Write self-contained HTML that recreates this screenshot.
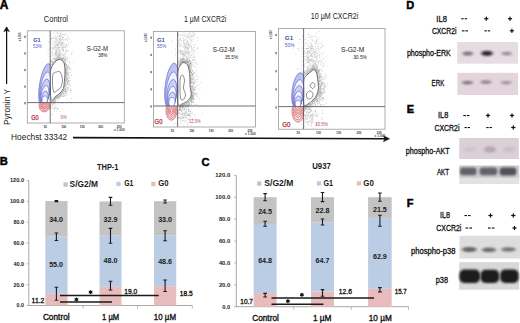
<!DOCTYPE html>
<html><head><meta charset="utf-8"><style>
html,body{margin:0;padding:0;background:#fff;}
svg{display:block;}
text{font-family:"Liberation Sans", sans-serif;}
</style></head><body>
<svg width="520" height="323" viewBox="0 0 520 323">
<rect width="520" height="323" fill="#fff"/>
<text x="-0.3" y="9.0" font-size="12.0" fill="#000" font-weight="bold" textLength="8.6" lengthAdjust="spacingAndGlyphs" stroke="#000" stroke-width="0.5">A</text>
<text x="43.8" y="22.1" font-size="8.2" fill="#222" textLength="24.2" lengthAdjust="spacingAndGlyphs" >Control</text>
<text x="184.0" y="22.3" font-size="8.2" fill="#222" textLength="42.3" lengthAdjust="spacingAndGlyphs" >1 µM CXCR2i</text>
<text x="310.8" y="19.4" font-size="8.2" fill="#222" textLength="47.5" lengthAdjust="spacingAndGlyphs" >10 µM CXCR2i</text>
<line x1="6.6" y1="84" x2="6.6" y2="30" stroke="#111" stroke-width="1.25"/>
<path d="M6.6,26.8 L3.9,31.6 L6.6,30.3 L9.3,31.6 Z" fill="#111" stroke="#111" stroke-width="0.6" stroke-linejoin="round"/>
<text transform="translate(9.6,125) rotate(-90)" font-size="9.1" fill="#222" textLength="36" lengthAdjust="spacingAndGlyphs">Pyronin Y</text>
<text x="11.1" y="139.7" font-size="9.2" fill="#222" textLength="56.1" lengthAdjust="spacingAndGlyphs" >Hoechst 33342</text>
<line x1="73" y1="137.6" x2="385" y2="138.7" stroke="#111" stroke-width="1.6"/>
<path d="M389.5,138.8 L383.5,135.8 L384.8,138.7 L383.5,141.6 Z" fill="#111" stroke="#111" stroke-width="0.6"/>
<rect x="27.3" y="30.8" width="97.0" height="92.2" fill="#fff" stroke="#9a9a9a" stroke-width="0.8"/>
<clipPath id="up0"><rect x="27.3" y="30.8" width="97.0" height="71.8"/></clipPath>
<clipPath id="dn0"><rect x="27.3" y="102.6" width="97.0" height="20.400000000000006"/></clipPath>
<clipPath id="pl0"><rect x="27.8" y="31.3" width="96.0" height="91.2"/></clipPath>
<g clip-path="url(#pl0)">
<path fill="#a8a8a8" d="M66.4 71.3h.8v.8h-.8zM64.9 75.2h.8v.8h-.8zM52.1 62.8h.8v.8h-.8zM66.6 68.0h.8v.8h-.8zM58.1 95.7h.8v.8h-.8zM64.4 88.8h.8v.8h-.8zM62.7 95.4h.8v.8h-.8zM65.1 72.4h.8v.8h-.8zM64.2 64.5h.8v.8h-.8zM65.7 76.2h.8v.8h-.8zM50.4 104.9h.8v.8h-.8zM58.2 96.0h.8v.8h-.8zM63.1 90.1h.8v.8h-.8zM56.3 60.0h.8v.8h-.8zM58.5 95.2h.8v.8h-.8zM65.6 94.6h.8v.8h-.8zM64.4 73.3h.8v.8h-.8zM60.2 96.0h.8v.8h-.8zM67.6 75.0h.8v.8h-.8zM60.1 95.3h.8v.8h-.8zM65.0 59.2h.8v.8h-.8zM64.0 86.2h.8v.8h-.8zM56.3 56.7h.8v.8h-.8zM68.6 80.5h.8v.8h-.8zM58.1 55.7h.8v.8h-.8zM54.2 102.3h.8v.8h-.8zM63.3 61.2h.8v.8h-.8zM64.9 85.2h.8v.8h-.8zM60.3 92.6h.8v.8h-.8zM59.9 94.9h.8v.8h-.8zM62.2 59.4h.8v.8h-.8zM65.7 67.2h.8v.8h-.8zM54.3 99.3h.8v.8h-.8zM64.1 59.6h.8v.8h-.8zM64.7 76.3h.8v.8h-.8zM64.8 68.0h.8v.8h-.8zM56.0 59.6h.8v.8h-.8zM68.6 80.6h.8v.8h-.8zM66.9 72.8h.8v.8h-.8zM60.3 93.0h.8v.8h-.8zM65.2 63.0h.8v.8h-.8zM59.7 94.0h.8v.8h-.8zM62.0 92.5h.8v.8h-.8zM65.9 72.5h.8v.8h-.8zM61.8 91.5h.8v.8h-.8zM55.2 61.7h.8v.8h-.8zM57.5 55.4h.8v.8h-.8zM51.8 102.0h.8v.8h-.8zM55.2 98.2h.8v.8h-.8zM52.8 64.2h.8v.8h-.8zM62.2 91.4h.8v.8h-.8zM59.3 57.6h.8v.8h-.8zM62.2 59.4h.8v.8h-.8zM67.4 79.2h.8v.8h-.8zM54.1 61.5h.8v.8h-.8zM52.5 64.3h.8v.8h-.8zM57.7 58.4h.8v.8h-.8zM63.8 91.3h.8v.8h-.8zM62.7 91.8h.8v.8h-.8zM67.3 90.8h.8v.8h-.8zM64.7 63.0h.8v.8h-.8zM65.6 83.1h.8v.8h-.8zM57.2 59.2h.8v.8h-.8zM65.3 89.6h.8v.8h-.8zM54.3 62.0h.8v.8h-.8zM54.6 98.4h.8v.8h-.8zM64.8 81.9h.8v.8h-.8zM60.2 59.3h.8v.8h-.8zM64.7 91.0h.8v.8h-.8zM68.6 77.4h.8v.8h-.8zM63.9 88.8h.8v.8h-.8zM62.6 92.9h.8v.8h-.8zM55.4 96.6h.8v.8h-.8zM63.9 63.7h.8v.8h-.8zM53.1 57.7h.8v.8h-.8zM54.1 98.2h.8v.8h-.8zM56.7 94.8h.8v.8h-.8zM66.6 70.3h.8v.8h-.8zM62.3 91.0h.8v.8h-.8zM55.4 98.7h.8v.8h-.8zM62.6 92.2h.8v.8h-.8zM55.1 60.4h.8v.8h-.8zM68.2 66.5h.8v.8h-.8zM57.9 61.0h.8v.8h-.8zM65.2 87.9h.8v.8h-.8zM60.8 58.0h.8v.8h-.8zM54.4 98.9h.8v.8h-.8zM69.2 61.4h.8v.8h-.8zM61.9 92.0h.8v.8h-.8zM58.2 97.0h.8v.8h-.8zM52.5 64.3h.8v.8h-.8zM63.8 89.3h.8v.8h-.8zM67.8 79.9h.8v.8h-.8zM61.2 93.4h.8v.8h-.8zM51.9 66.0h.8v.8h-.8zM54.7 96.8h.8v.8h-.8zM54.1 100.0h.8v.8h-.8zM64.4 65.2h.8v.8h-.8zM63.0 61.7h.8v.8h-.8zM65.0 80.3h.8v.8h-.8zM58.4 60.0h.8v.8h-.8zM65.7 79.3h.8v.8h-.8zM55.1 99.8h.8v.8h-.8zM66.0 69.4h.8v.8h-.8zM62.5 92.9h.8v.8h-.8zM51.6 61.7h.8v.8h-.8zM64.8 64.1h.8v.8h-.8zM64.9 96.5h.8v.8h-.8zM64.4 85.4h.8v.8h-.8zM56.5 59.3h.8v.8h-.8zM65.6 67.5h.8v.8h-.8zM55.7 60.4h.8v.8h-.8zM67.1 80.8h.8v.8h-.8zM60.1 95.0h.8v.8h-.8zM68.4 77.7h.8v.8h-.8zM66.4 72.2h.8v.8h-.8zM66.0 91.6h.8v.8h-.8zM55.7 97.9h.8v.8h-.8zM64.6 93.2h.8v.8h-.8zM64.9 72.1h.8v.8h-.8zM59.5 95.5h.8v.8h-.8zM61.9 91.4h.8v.8h-.8zM59.2 97.4h.8v.8h-.8zM54.3 62.1h.8v.8h-.8zM52.2 98.5h.8v.8h-.8zM65.3 85.9h.8v.8h-.8zM58.7 96.7h.8v.8h-.8zM53.5 100.7h.8v.8h-.8zM55.2 60.7h.8v.8h-.8zM53.6 99.9h.8v.8h-.8zM65.3 62.9h.8v.8h-.8zM58.0 96.8h.8v.8h-.8zM62.7 89.4h.8v.8h-.8zM53.4 104.7h.8v.8h-.8zM65.6 90.8h.8v.8h-.8zM52.4 101.1h.8v.8h-.8zM52.1 64.1h.8v.8h-.8zM53.7 62.3h.8v.8h-.8zM52.9 98.9h.8v.8h-.8zM52.5 63.3h.8v.8h-.8zM62.1 60.3h.8v.8h-.8zM52.3 100.8h.8v.8h-.8zM56.3 59.5h.8v.8h-.8zM65.6 74.8h.8v.8h-.8zM56.3 97.9h.8v.8h-.8zM66.0 78.0h.8v.8h-.8zM62.7 95.9h.8v.8h-.8zM66.2 75.4h.8v.8h-.8zM52.2 61.1h.8v.8h-.8zM61.6 58.6h.8v.8h-.8zM64.2 90.8h.8v.8h-.8zM64.2 88.5h.8v.8h-.8zM55.4 102.0h.8v.8h-.8zM53.3 64.0h.8v.8h-.8zM64.9 64.2h.8v.8h-.8zM65.1 64.0h.8v.8h-.8zM65.4 69.8h.8v.8h-.8zM61.3 59.2h.8v.8h-.8zM60.2 93.5h.8v.8h-.8zM59.6 54.6h.8v.8h-.8zM58.3 53.6h.8v.8h-.8zM65.8 70.0h.8v.8h-.8zM62.0 91.5h.8v.8h-.8zM57.7 56.2h.8v.8h-.8zM55.7 98.4h.8v.8h-.8zM67.0 69.2h.8v.8h-.8zM61.6 57.4h.8v.8h-.8zM65.2 85.4h.8v.8h-.8zM66.2 63.9h.8v.8h-.8zM64.9 65.0h.8v.8h-.8zM65.6 67.3h.8v.8h-.8zM65.4 70.9h.8v.8h-.8zM58.6 54.0h.8v.8h-.8zM53.5 100.6h.8v.8h-.8zM57.6 58.4h.8v.8h-.8zM61.3 93.1h.8v.8h-.8zM66.6 70.8h.8v.8h-.8zM66.1 71.4h.8v.8h-.8zM53.3 102.9h.8v.8h-.8zM56.8 97.1h.8v.8h-.8zM60.6 58.5h.8v.8h-.8zM62.3 59.0h.8v.8h-.8zM49.6 60.6h.8v.8h-.8zM64.7 70.0h.8v.8h-.8zM57.3 96.6h.8v.8h-.8zM58.1 55.6h.8v.8h-.8zM59.4 57.6h.8v.8h-.8zM51.7 62.3h.8v.8h-.8zM57.4 95.6h.8v.8h-.8zM52.3 66.4h.8v.8h-.8zM64.3 91.1h.8v.8h-.8zM65.2 74.3h.8v.8h-.8zM59.2 93.2h.8v.8h-.8zM66.2 77.6h.8v.8h-.8zM56.2 95.9h.8v.8h-.8zM52.9 102.4h.8v.8h-.8zM64.6 79.1h.8v.8h-.8zM65.3 80.6h.8v.8h-.8zM52.2 101.5h.8v.8h-.8zM67.0 82.1h.8v.8h-.8zM67.8 64.7h.8v.8h-.8zM68.5 81.6h.8v.8h-.8zM66.9 66.6h.8v.8h-.8zM61.5 92.0h.8v.8h-.8zM54.9 59.3h.8v.8h-.8zM63.2 58.4h.8v.8h-.8zM51.8 102.1h.8v.8h-.8zM61.1 91.5h.8v.8h-.8zM65.7 89.8h.8v.8h-.8zM53.5 99.8h.8v.8h-.8z"/>
<path fill="#c8c8c8" d="M54.9 61.6h.8v.8h-.8zM57.7 58.6h.8v.8h-.8zM64.3 68.5h.8v.8h-.8zM67.3 77.2h.8v.8h-.8zM52.2 101.5h.8v.8h-.8zM53.6 100.6h.8v.8h-.8zM61.0 59.3h.8v.8h-.8zM66.6 69.9h.8v.8h-.8zM54.8 97.2h.8v.8h-.8zM61.3 94.6h.8v.8h-.8zM64.1 53.8h.8v.8h-.8zM65.1 74.3h.8v.8h-.8zM66.4 85.6h.8v.8h-.8zM58.5 58.4h.8v.8h-.8zM58.9 94.9h.8v.8h-.8zM64.5 55.8h.8v.8h-.8zM66.7 74.3h.8v.8h-.8zM65.3 83.9h.8v.8h-.8zM61.4 57.7h.8v.8h-.8zM63.5 86.9h.8v.8h-.8zM63.4 62.1h.8v.8h-.8zM65.5 80.0h.8v.8h-.8zM54.3 57.6h.8v.8h-.8zM66.6 72.6h.8v.8h-.8zM54.1 63.5h.8v.8h-.8zM65.2 73.2h.8v.8h-.8zM52.2 64.1h.8v.8h-.8zM64.6 62.9h.8v.8h-.8zM53.7 101.1h.8v.8h-.8zM65.0 69.2h.8v.8h-.8zM60.2 94.3h.8v.8h-.8zM59.9 59.5h.8v.8h-.8zM61.6 94.3h.8v.8h-.8zM50.9 101.5h.8v.8h-.8zM65.9 77.4h.8v.8h-.8zM62.8 93.4h.8v.8h-.8zM55.8 96.7h.8v.8h-.8zM64.9 92.1h.8v.8h-.8zM64.9 90.1h.8v.8h-.8zM60.8 96.2h.8v.8h-.8zM65.7 59.6h.8v.8h-.8zM54.0 101.0h.8v.8h-.8zM59.3 94.8h.8v.8h-.8zM59.6 95.6h.8v.8h-.8zM65.5 69.8h.8v.8h-.8zM57.2 97.5h.8v.8h-.8zM64.2 59.3h.8v.8h-.8zM54.0 97.6h.8v.8h-.8zM53.5 63.8h.8v.8h-.8zM65.1 76.4h.8v.8h-.8zM61.9 59.8h.8v.8h-.8zM63.1 57.8h.8v.8h-.8zM57.0 97.6h.8v.8h-.8zM65.9 69.5h.8v.8h-.8zM57.8 57.2h.8v.8h-.8zM64.0 61.5h.8v.8h-.8zM53.2 101.1h.8v.8h-.8zM51.3 103.2h.8v.8h-.8zM64.6 83.9h.8v.8h-.8zM66.2 76.6h.8v.8h-.8zM57.1 95.9h.8v.8h-.8zM54.5 97.3h.8v.8h-.8zM56.3 57.5h.8v.8h-.8zM57.9 58.7h.8v.8h-.8zM51.3 63.9h.8v.8h-.8zM60.1 58.7h.8v.8h-.8zM60.3 57.0h.8v.8h-.8zM51.6 64.6h.8v.8h-.8zM51.8 102.5h.8v.8h-.8zM65.2 86.1h.8v.8h-.8zM63.9 64.8h.8v.8h-.8zM60.7 93.3h.8v.8h-.8zM53.2 98.9h.8v.8h-.8zM66.1 81.2h.8v.8h-.8zM60.3 59.5h.8v.8h-.8zM64.4 84.0h.8v.8h-.8zM56.4 60.0h.8v.8h-.8zM64.2 63.6h.8v.8h-.8zM54.4 62.2h.8v.8h-.8zM61.3 58.6h.8v.8h-.8zM51.9 105.5h.8v.8h-.8zM64.9 91.1h.8v.8h-.8zM51.2 103.3h.8v.8h-.8zM67.9 74.7h.8v.8h-.8zM69.8 75.3h.8v.8h-.8zM61.0 89.9h.8v.8h-.8zM54.5 58.5h.8v.8h-.8zM59.0 95.0h.8v.8h-.8zM63.7 60.1h.8v.8h-.8zM55.1 99.6h.8v.8h-.8zM66.4 65.8h.8v.8h-.8zM62.3 93.4h.8v.8h-.8zM50.3 103.7h.8v.8h-.8zM54.8 98.1h.8v.8h-.8zM64.7 62.9h.8v.8h-.8zM70.1 71.8h.8v.8h-.8zM61.8 59.3h.8v.8h-.8zM52.9 102.3h.8v.8h-.8zM65.4 81.8h.8v.8h-.8zM67.9 73.3h.8v.8h-.8zM65.6 77.4h.8v.8h-.8zM66.5 66.8h.8v.8h-.8zM54.6 101.7h.8v.8h-.8zM61.3 94.8h.8v.8h-.8zM63.4 62.9h.8v.8h-.8zM63.7 78.1h.8v.8h-.8zM55.5 98.0h.8v.8h-.8zM57.4 59.0h.8v.8h-.8zM54.5 58.7h.8v.8h-.8zM52.3 67.0h.8v.8h-.8zM55.0 96.3h.8v.8h-.8zM53.4 103.1h.8v.8h-.8zM57.3 96.6h.8v.8h-.8zM55.4 97.8h.8v.8h-.8zM63.6 87.3h.8v.8h-.8zM53.2 98.9h.8v.8h-.8zM61.2 57.9h.8v.8h-.8zM58.9 56.9h.8v.8h-.8zM58.1 97.9h.8v.8h-.8zM59.1 54.3h.8v.8h-.8zM66.8 78.4h.8v.8h-.8zM64.3 63.0h.8v.8h-.8zM66.7 74.0h.8v.8h-.8zM61.0 95.4h.8v.8h-.8zM63.5 66.8h.8v.8h-.8zM65.2 78.2h.8v.8h-.8zM55.9 96.2h.8v.8h-.8zM55.7 60.8h.8v.8h-.8zM66.2 76.9h.8v.8h-.8zM59.4 59.1h.8v.8h-.8zM54.9 98.5h.8v.8h-.8zM64.9 82.8h.8v.8h-.8zM66.6 65.8h.8v.8h-.8zM57.0 59.1h.8v.8h-.8zM65.9 66.8h.8v.8h-.8zM65.6 65.1h.8v.8h-.8zM54.6 97.8h.8v.8h-.8zM67.0 73.9h.8v.8h-.8zM68.5 77.2h.8v.8h-.8zM62.5 91.5h.8v.8h-.8zM54.6 57.8h.8v.8h-.8zM60.0 58.5h.8v.8h-.8zM66.1 75.7h.8v.8h-.8zM53.3 99.0h.8v.8h-.8zM54.6 103.4h.8v.8h-.8zM54.4 101.4h.8v.8h-.8zM65.8 70.8h.8v.8h-.8zM65.8 64.5h.8v.8h-.8zM58.9 94.8h.8v.8h-.8zM61.1 58.3h.8v.8h-.8zM66.8 80.4h.8v.8h-.8zM64.7 75.7h.8v.8h-.8zM65.6 93.2h.8v.8h-.8zM67.4 73.9h.8v.8h-.8zM62.4 92.1h.8v.8h-.8zM63.7 63.4h.8v.8h-.8zM69.4 62.7h.8v.8h-.8zM64.0 85.0h.8v.8h-.8zM66.4 83.0h.8v.8h-.8zM58.2 95.3h.8v.8h-.8zM61.4 93.7h.8v.8h-.8zM51.8 61.3h.8v.8h-.8zM61.6 91.7h.8v.8h-.8zM65.4 75.3h.8v.8h-.8zM53.8 58.1h.8v.8h-.8zM62.7 91.1h.8v.8h-.8zM65.3 78.5h.8v.8h-.8zM64.8 58.8h.8v.8h-.8zM66.1 64.7h.8v.8h-.8zM58.7 95.1h.8v.8h-.8zM50.6 63.7h.8v.8h-.8zM66.1 87.5h.8v.8h-.8zM54.7 101.0h.8v.8h-.8zM52.9 65.5h.8v.8h-.8zM58.2 56.5h.8v.8h-.8zM56.5 56.8h.8v.8h-.8zM56.9 58.7h.8v.8h-.8zM54.0 62.4h.8v.8h-.8zM64.1 91.4h.8v.8h-.8zM68.7 67.4h.8v.8h-.8zM64.9 53.7h.8v.8h-.8zM55.6 38.3h.8v.8h-.8zM60.5 79.8h.8v.8h-.8zM49.9 63.9h.8v.8h-.8zM52.9 33.1h.8v.8h-.8zM55.2 44.0h.8v.8h-.8zM58.7 55.7h.8v.8h-.8zM60.4 36.6h.8v.8h-.8zM59.2 50.4h.8v.8h-.8zM61.4 35.5h.8v.8h-.8zM63.0 40.5h.8v.8h-.8zM53.5 37.4h.8v.8h-.8zM57.1 33.1h.8v.8h-.8zM70.7 41.8h.8v.8h-.8zM50.8 59.6h.8v.8h-.8zM56.0 37.3h.8v.8h-.8zM63.3 39.3h.8v.8h-.8zM48.3 41.6h.8v.8h-.8zM58.0 27.4h.8v.8h-.8zM55.1 53.3h.8v.8h-.8zM52.1 48.1h.8v.8h-.8zM57.0 35.1h.8v.8h-.8zM57.7 40.9h.8v.8h-.8zM61.8 31.2h.8v.8h-.8zM55.1 46.5h.8v.8h-.8zM54.6 38.9h.8v.8h-.8zM67.1 34.4h.8v.8h-.8zM60.2 53.2h.8v.8h-.8zM51.4 66.8h.8v.8h-.8zM68.1 43.4h.8v.8h-.8zM59.9 37.2h.8v.8h-.8zM58.9 64.2h.8v.8h-.8zM59.4 38.5h.8v.8h-.8zM62.7 34.1h.8v.8h-.8zM60.3 39.4h.8v.8h-.8zM52.7 44.2h.8v.8h-.8zM56.0 28.0h.8v.8h-.8zM55.3 47.7h.8v.8h-.8zM60.5 29.0h.8v.8h-.8zM50.8 39.3h.8v.8h-.8zM60.1 38.9h.8v.8h-.8zM58.3 47.2h.8v.8h-.8zM71.8 50.6h.8v.8h-.8zM57.8 32.0h.8v.8h-.8zM60.3 41.6h.8v.8h-.8zM72.8 61.8h.8v.8h-.8zM58.1 57.8h.8v.8h-.8zM52.1 50.7h.8v.8h-.8zM58.3 44.4h.8v.8h-.8zM63.0 50.7h.8v.8h-.8zM56.5 41.0h.8v.8h-.8zM50.2 41.5h.8v.8h-.8zM51.5 47.2h.8v.8h-.8zM65.0 46.1h.8v.8h-.8zM55.7 47.4h.8v.8h-.8zM59.6 50.0h.8v.8h-.8zM60.3 52.8h.8v.8h-.8zM52.9 44.4h.8v.8h-.8zM63.7 24.9h.8v.8h-.8zM55.2 30.0h.8v.8h-.8zM52.4 59.2h.8v.8h-.8zM70.0 33.2h.8v.8h-.8zM60.1 34.0h.8v.8h-.8zM54.9 59.6h.8v.8h-.8zM52.5 47.8h.8v.8h-.8zM58.0 34.4h.8v.8h-.8zM65.9 49.7h.8v.8h-.8zM62.0 49.6h.8v.8h-.8zM53.8 42.2h.8v.8h-.8zM55.9 59.9h.8v.8h-.8zM62.8 46.7h.8v.8h-.8zM52.3 61.7h.8v.8h-.8zM54.7 44.2h.8v.8h-.8zM55.3 34.8h.8v.8h-.8zM58.2 44.3h.8v.8h-.8zM60.5 38.0h.8v.8h-.8zM56.5 55.0h.8v.8h-.8zM62.6 43.1h.8v.8h-.8zM54.4 47.5h.8v.8h-.8zM59.3 38.9h.8v.8h-.8zM52.5 26.2h.8v.8h-.8zM56.3 31.5h.8v.8h-.8zM61.1 44.6h.8v.8h-.8zM62.5 49.5h.8v.8h-.8zM70.9 53.2h.8v.8h-.8zM54.6 56.3h.8v.8h-.8zM54.5 39.9h.8v.8h-.8zM61.3 38.9h.8v.8h-.8zM62.6 44.8h.8v.8h-.8zM70.7 25.8h.8v.8h-.8zM59.0 31.0h.8v.8h-.8zM58.5 50.7h.8v.8h-.8zM51.5 62.5h.8v.8h-.8zM61.2 46.9h.8v.8h-.8zM49.8 42.2h.8v.8h-.8zM65.6 44.2h.8v.8h-.8zM62.1 42.2h.8v.8h-.8zM58.4 49.4h.8v.8h-.8zM61.3 44.1h.8v.8h-.8zM66.1 56.2h.8v.8h-.8zM57.0 44.3h.8v.8h-.8zM57.2 26.8h.8v.8h-.8zM52.2 47.8h.8v.8h-.8zM61.4 53.7h.8v.8h-.8zM60.3 38.0h.8v.8h-.8zM59.5 52.8h.8v.8h-.8zM66.1 51.2h.8v.8h-.8zM56.2 57.5h.8v.8h-.8zM57.3 56.0h.8v.8h-.8zM62.3 49.3h.8v.8h-.8zM57.5 44.6h.8v.8h-.8zM56.1 50.7h.8v.8h-.8zM51.9 114.1h.8v.8h-.8zM62.2 107.9h.8v.8h-.8zM50.7 107.6h.8v.8h-.8zM53.7 110.9h.8v.8h-.8zM50.6 106.7h.8v.8h-.8zM53.3 108.3h.8v.8h-.8zM51.0 108.4h.8v.8h-.8zM49.8 107.4h.8v.8h-.8zM62.1 61.1h.8v.8h-.8zM66.1 103.5h.8v.8h-.8zM64.4 65.7h.8v.8h-.8zM69.8 90.6h.8v.8h-.8zM66.5 89.7h.8v.8h-.8zM62.2 83.5h.8v.8h-.8zM69.4 83.4h.8v.8h-.8zM71.2 102.5h.8v.8h-.8zM67.1 83.3h.8v.8h-.8zM59.5 89.3h.8v.8h-.8zM63.7 93.3h.8v.8h-.8zM65.1 75.4h.8v.8h-.8zM60.6 96.3h.8v.8h-.8zM63.4 51.8h.8v.8h-.8zM67.6 99.3h.8v.8h-.8zM65.6 79.7h.8v.8h-.8zM64.7 94.9h.8v.8h-.8zM63.8 63.5h.8v.8h-.8zM61.0 76.5h.8v.8h-.8zM68.3 87.5h.8v.8h-.8zM68.4 75.3h.8v.8h-.8zM63.8 56.8h.8v.8h-.8zM70.5 91.7h.8v.8h-.8zM69.4 67.7h.8v.8h-.8zM61.9 80.2h.8v.8h-.8zM64.0 77.5h.8v.8h-.8zM63.5 83.6h.8v.8h-.8zM65.3 69.8h.8v.8h-.8zM69.6 72.6h.8v.8h-.8zM62.0 91.5h.8v.8h-.8zM62.3 68.6h.8v.8h-.8zM65.1 77.7h.8v.8h-.8zM66.1 72.2h.8v.8h-.8z"/>
<path fill="#b8b8b8" d="M51.9 61.6h.8v.8h-.8zM60.6 58.6h.8v.8h-.8zM53.5 101.9h.8v.8h-.8zM67.4 78.5h.8v.8h-.8zM63.5 62.5h.8v.8h-.8zM54.8 61.2h.8v.8h-.8zM59.0 95.9h.8v.8h-.8zM55.6 97.0h.8v.8h-.8zM56.7 97.6h.8v.8h-.8zM62.3 58.2h.8v.8h-.8zM63.3 89.5h.8v.8h-.8zM65.1 56.8h.8v.8h-.8zM58.8 96.1h.8v.8h-.8zM67.7 87.0h.8v.8h-.8zM65.5 83.3h.8v.8h-.8zM66.3 65.3h.8v.8h-.8zM64.5 61.0h.8v.8h-.8zM65.0 66.9h.8v.8h-.8zM67.0 88.1h.8v.8h-.8zM67.4 72.6h.8v.8h-.8zM65.7 67.0h.8v.8h-.8zM65.5 69.7h.8v.8h-.8zM67.3 77.9h.8v.8h-.8zM63.4 57.3h.8v.8h-.8zM54.4 59.9h.8v.8h-.8zM62.5 91.2h.8v.8h-.8zM54.7 101.3h.8v.8h-.8zM66.2 80.1h.8v.8h-.8zM52.2 102.5h.8v.8h-.8zM56.9 58.5h.8v.8h-.8zM69.4 79.9h.8v.8h-.8zM64.8 60.3h.8v.8h-.8zM53.9 100.6h.8v.8h-.8zM66.2 77.3h.8v.8h-.8zM55.4 61.1h.8v.8h-.8zM58.4 58.6h.8v.8h-.8zM49.7 104.9h.8v.8h-.8zM65.1 61.5h.8v.8h-.8zM60.9 93.6h.8v.8h-.8zM63.1 59.5h.8v.8h-.8zM65.4 68.6h.8v.8h-.8zM60.8 93.7h.8v.8h-.8zM64.5 95.0h.8v.8h-.8zM53.0 61.7h.8v.8h-.8zM62.0 91.5h.8v.8h-.8zM64.3 58.2h.8v.8h-.8zM52.1 64.2h.8v.8h-.8zM57.8 59.3h.8v.8h-.8zM66.2 76.6h.8v.8h-.8zM59.1 95.5h.8v.8h-.8zM65.0 69.9h.8v.8h-.8zM59.8 94.2h.8v.8h-.8zM64.6 63.1h.8v.8h-.8zM53.1 60.9h.8v.8h-.8zM64.7 89.6h.8v.8h-.8zM65.0 67.2h.8v.8h-.8zM62.9 89.8h.8v.8h-.8zM55.7 59.3h.8v.8h-.8zM64.4 86.9h.8v.8h-.8zM65.2 68.1h.8v.8h-.8zM66.3 65.2h.8v.8h-.8zM63.7 89.0h.8v.8h-.8zM61.5 58.4h.8v.8h-.8zM56.0 96.5h.8v.8h-.8zM64.9 79.2h.8v.8h-.8zM65.5 69.5h.8v.8h-.8zM69.8 84.9h.8v.8h-.8zM65.5 80.5h.8v.8h-.8zM67.7 81.3h.8v.8h-.8zM61.0 59.5h.8v.8h-.8zM49.9 62.7h.8v.8h-.8zM65.3 69.1h.8v.8h-.8zM55.5 98.1h.8v.8h-.8zM64.6 71.3h.8v.8h-.8zM55.1 97.0h.8v.8h-.8zM50.8 102.1h.8v.8h-.8zM59.2 59.3h.8v.8h-.8zM61.8 56.9h.8v.8h-.8zM54.4 98.5h.8v.8h-.8zM52.5 101.7h.8v.8h-.8zM55.6 97.2h.8v.8h-.8zM58.1 95.3h.8v.8h-.8zM59.1 59.2h.8v.8h-.8zM51.2 61.1h.8v.8h-.8zM63.2 58.2h.8v.8h-.8zM57.5 60.7h.8v.8h-.8zM55.4 58.6h.8v.8h-.8zM67.2 87.0h.8v.8h-.8zM51.9 64.1h.8v.8h-.8zM59.4 59.0h.8v.8h-.8zM62.1 90.8h.8v.8h-.8zM54.9 58.5h.8v.8h-.8zM58.6 57.3h.8v.8h-.8zM58.2 58.0h.8v.8h-.8zM57.5 58.3h.8v.8h-.8zM59.9 57.8h.8v.8h-.8zM65.1 80.9h.8v.8h-.8zM56.8 96.9h.8v.8h-.8zM65.1 62.6h.8v.8h-.8zM63.4 62.1h.8v.8h-.8zM62.8 90.6h.8v.8h-.8zM66.0 74.3h.8v.8h-.8zM66.1 74.5h.8v.8h-.8zM66.8 81.6h.8v.8h-.8zM68.0 72.3h.8v.8h-.8zM65.8 90.5h.8v.8h-.8zM65.3 64.8h.8v.8h-.8zM65.1 68.5h.8v.8h-.8zM66.1 73.4h.8v.8h-.8zM63.7 88.9h.8v.8h-.8zM59.0 57.2h.8v.8h-.8zM62.5 95.7h.8v.8h-.8zM67.7 74.2h.8v.8h-.8zM66.6 66.6h.8v.8h-.8zM62.1 92.9h.8v.8h-.8zM67.0 67.4h.8v.8h-.8zM57.2 97.0h.8v.8h-.8zM65.5 64.7h.8v.8h-.8zM59.2 57.0h.8v.8h-.8zM58.8 56.4h.8v.8h-.8zM65.6 59.7h.8v.8h-.8zM66.1 64.1h.8v.8h-.8zM67.9 85.2h.8v.8h-.8zM59.7 59.2h.8v.8h-.8zM67.0 72.4h.8v.8h-.8zM67.1 60.7h.8v.8h-.8zM63.3 55.2h.8v.8h-.8zM71.2 74.9h.8v.8h-.8zM53.2 65.2h.8v.8h-.8zM58.3 56.3h.8v.8h-.8zM63.0 96.0h.8v.8h-.8zM66.2 66.7h.8v.8h-.8zM70.8 89.9h.8v.8h-.8zM60.7 60.0h.8v.8h-.8zM60.5 93.6h.8v.8h-.8zM55.6 58.1h.8v.8h-.8zM57.7 58.9h.8v.8h-.8zM64.6 61.9h.8v.8h-.8zM57.5 99.6h.8v.8h-.8zM56.1 60.5h.8v.8h-.8zM58.2 58.6h.8v.8h-.8zM68.9 67.8h.8v.8h-.8zM65.3 82.5h.8v.8h-.8zM55.8 97.2h.8v.8h-.8zM64.9 85.8h.8v.8h-.8zM65.2 67.1h.8v.8h-.8zM64.4 85.4h.8v.8h-.8zM64.9 83.0h.8v.8h-.8zM51.0 101.6h.8v.8h-.8zM64.8 68.2h.8v.8h-.8zM56.1 59.2h.8v.8h-.8zM60.3 92.9h.8v.8h-.8zM65.6 79.1h.8v.8h-.8zM68.1 66.7h.8v.8h-.8zM61.1 59.7h.8v.8h-.8zM58.3 95.0h.8v.8h-.8zM65.7 73.1h.8v.8h-.8zM59.2 97.5h.8v.8h-.8zM64.3 60.5h.8v.8h-.8zM59.3 58.2h.8v.8h-.8zM64.9 63.4h.8v.8h-.8zM52.1 102.6h.8v.8h-.8zM53.6 100.2h.8v.8h-.8zM61.4 91.1h.8v.8h-.8zM57.7 58.4h.8v.8h-.8zM56.8 57.6h.8v.8h-.8zM56.5 54.6h.8v.8h-.8zM64.2 66.2h.8v.8h-.8zM65.0 64.1h.8v.8h-.8zM65.0 61.4h.8v.8h-.8zM67.5 83.2h.8v.8h-.8zM56.4 60.2h.8v.8h-.8zM65.3 70.0h.8v.8h-.8zM54.5 62.5h.8v.8h-.8zM57.9 59.5h.8v.8h-.8z"/>
<path fill="#d4d4d4" d="M60.5 51.0h.8v.8h-.8zM56.1 57.3h.8v.8h-.8zM54.9 45.9h.8v.8h-.8zM57.5 62.2h.8v.8h-.8zM57.2 68.7h.8v.8h-.8zM57.2 60.3h.8v.8h-.8zM59.8 53.3h.8v.8h-.8zM54.9 51.7h.8v.8h-.8zM52.1 41.4h.8v.8h-.8zM58.3 42.6h.8v.8h-.8zM56.7 45.9h.8v.8h-.8zM64.2 35.2h.8v.8h-.8zM60.5 54.2h.8v.8h-.8zM62.5 30.0h.8v.8h-.8zM55.4 54.7h.8v.8h-.8zM56.8 30.0h.8v.8h-.8zM58.5 45.5h.8v.8h-.8zM62.4 47.4h.8v.8h-.8zM56.9 46.4h.8v.8h-.8zM63.2 29.8h.8v.8h-.8zM64.2 58.2h.8v.8h-.8zM67.4 37.7h.8v.8h-.8zM51.5 53.9h.8v.8h-.8zM57.9 36.6h.8v.8h-.8zM55.3 50.0h.8v.8h-.8zM57.1 46.1h.8v.8h-.8zM68.2 50.8h.8v.8h-.8zM62.5 39.0h.8v.8h-.8zM56.3 48.4h.8v.8h-.8zM57.8 47.9h.8v.8h-.8zM63.6 60.8h.8v.8h-.8zM64.1 45.3h.8v.8h-.8zM53.6 46.6h.8v.8h-.8zM56.4 43.5h.8v.8h-.8zM57.1 54.4h.8v.8h-.8zM60.5 43.1h.8v.8h-.8zM67.2 40.6h.8v.8h-.8zM56.4 47.1h.8v.8h-.8zM57.2 40.7h.8v.8h-.8zM65.3 53.8h.8v.8h-.8zM59.6 49.0h.8v.8h-.8zM57.4 49.7h.8v.8h-.8zM53.9 47.6h.8v.8h-.8zM65.2 43.7h.8v.8h-.8zM59.2 40.4h.8v.8h-.8zM66.2 39.0h.8v.8h-.8zM58.3 56.2h.8v.8h-.8zM56.6 55.9h.8v.8h-.8zM61.0 47.2h.8v.8h-.8zM52.6 37.8h.8v.8h-.8zM63.6 53.0h.8v.8h-.8zM49.7 48.1h.8v.8h-.8zM56.9 47.8h.8v.8h-.8zM54.0 52.9h.8v.8h-.8zM49.9 40.8h.8v.8h-.8zM57.5 45.1h.8v.8h-.8zM57.8 36.3h.8v.8h-.8zM59.3 46.9h.8v.8h-.8zM57.9 41.0h.8v.8h-.8zM63.0 64.2h.8v.8h-.8zM58.0 44.9h.8v.8h-.8zM53.1 54.7h.8v.8h-.8zM61.1 42.1h.8v.8h-.8zM58.6 47.2h.8v.8h-.8zM55.9 37.4h.8v.8h-.8zM55.5 54.6h.8v.8h-.8zM56.2 39.1h.8v.8h-.8zM63.9 46.9h.8v.8h-.8zM64.4 35.3h.8v.8h-.8zM60.8 39.9h.8v.8h-.8zM53.5 46.3h.8v.8h-.8zM56.4 53.1h.8v.8h-.8zM63.3 48.2h.8v.8h-.8zM64.6 39.5h.8v.8h-.8zM62.9 45.1h.8v.8h-.8zM61.6 40.7h.8v.8h-.8zM62.6 54.6h.8v.8h-.8zM58.7 58.8h.8v.8h-.8zM54.0 31.8h.8v.8h-.8zM58.7 53.6h.8v.8h-.8zM61.3 53.2h.8v.8h-.8zM56.3 50.2h.8v.8h-.8zM56.6 52.2h.8v.8h-.8zM52.8 37.0h.8v.8h-.8zM57.9 48.1h.8v.8h-.8zM55.4 52.1h.8v.8h-.8zM61.6 58.1h.8v.8h-.8zM66.0 44.5h.8v.8h-.8zM56.0 48.6h.8v.8h-.8zM48.2 48.8h.8v.8h-.8zM59.7 50.2h.8v.8h-.8zM57.0 60.7h.8v.8h-.8zM52.6 28.1h.8v.8h-.8zM61.8 39.3h.8v.8h-.8zM60.5 43.1h.8v.8h-.8zM57.1 47.9h.8v.8h-.8zM64.6 40.7h.8v.8h-.8zM64.6 58.2h.8v.8h-.8zM58.9 48.4h.8v.8h-.8zM60.4 55.5h.8v.8h-.8zM62.0 46.6h.8v.8h-.8zM56.2 111.0h.8v.8h-.8zM57.2 109.0h.8v.8h-.8zM54.3 107.3h.8v.8h-.8zM59.6 111.1h.8v.8h-.8zM52.2 104.3h.8v.8h-.8zM49.1 107.0h.8v.8h-.8zM58.1 109.8h.8v.8h-.8zM52.3 107.7h.8v.8h-.8zM54.4 108.1h.8v.8h-.8zM52.3 105.9h.8v.8h-.8zM55.7 104.5h.8v.8h-.8zM68.5 66.0h.8v.8h-.8zM67.2 84.1h.8v.8h-.8zM61.7 50.0h.8v.8h-.8zM66.2 87.2h.8v.8h-.8zM64.2 64.5h.8v.8h-.8zM69.1 77.6h.8v.8h-.8zM67.7 68.6h.8v.8h-.8zM68.8 69.0h.8v.8h-.8zM62.3 67.8h.8v.8h-.8zM65.0 95.0h.8v.8h-.8zM70.7 89.8h.8v.8h-.8zM62.4 73.8h.8v.8h-.8zM66.5 67.1h.8v.8h-.8zM62.4 71.0h.8v.8h-.8zM69.5 69.1h.8v.8h-.8zM65.6 90.6h.8v.8h-.8zM70.2 100.8h.8v.8h-.8zM69.7 58.2h.8v.8h-.8zM65.0 80.5h.8v.8h-.8zM67.9 83.8h.8v.8h-.8zM65.2 74.6h.8v.8h-.8zM63.7 87.9h.8v.8h-.8zM67.4 88.6h.8v.8h-.8zM67.3 65.7h.8v.8h-.8zM66.8 80.9h.8v.8h-.8zM63.1 84.4h.8v.8h-.8z"/>
<path fill="#bababa" d="M65.9 45.6h.8v.8h-.8zM55.0 40.9h.8v.8h-.8zM63.2 49.6h.8v.8h-.8zM62.4 35.9h.8v.8h-.8zM56.5 40.0h.8v.8h-.8zM55.5 52.1h.8v.8h-.8zM52.8 48.2h.8v.8h-.8zM58.6 47.1h.8v.8h-.8zM59.2 42.6h.8v.8h-.8zM57.6 65.4h.8v.8h-.8zM59.5 45.1h.8v.8h-.8zM55.3 54.0h.8v.8h-.8zM57.5 37.7h.8v.8h-.8zM57.2 49.4h.8v.8h-.8zM61.2 32.5h.8v.8h-.8zM64.1 23.3h.8v.8h-.8zM55.8 31.7h.8v.8h-.8zM63.5 46.7h.8v.8h-.8zM65.7 49.2h.8v.8h-.8zM65.5 50.9h.8v.8h-.8zM61.9 58.4h.8v.8h-.8zM55.4 54.2h.8v.8h-.8zM59.4 35.7h.8v.8h-.8zM59.4 46.8h.8v.8h-.8zM54.6 38.0h.8v.8h-.8zM62.2 42.6h.8v.8h-.8zM54.4 54.6h.8v.8h-.8zM63.2 55.4h.8v.8h-.8zM57.5 38.9h.8v.8h-.8zM59.7 51.5h.8v.8h-.8zM59.0 35.3h.8v.8h-.8zM58.9 49.3h.8v.8h-.8zM52.7 59.0h.8v.8h-.8zM50.8 26.9h.8v.8h-.8zM58.8 51.1h.8v.8h-.8zM61.5 56.8h.8v.8h-.8zM56.1 51.2h.8v.8h-.8zM58.7 29.7h.8v.8h-.8zM62.9 50.2h.8v.8h-.8zM55.6 44.9h.8v.8h-.8zM62.4 46.7h.8v.8h-.8zM62.1 54.5h.8v.8h-.8zM54.1 46.2h.8v.8h-.8zM57.9 43.4h.8v.8h-.8zM61.1 44.3h.8v.8h-.8zM65.4 33.0h.8v.8h-.8zM51.2 38.1h.8v.8h-.8zM63.5 28.8h.8v.8h-.8zM58.9 41.8h.8v.8h-.8zM50.7 50.4h.8v.8h-.8zM54.7 38.3h.8v.8h-.8zM59.3 55.0h.8v.8h-.8zM47.5 52.5h.8v.8h-.8zM58.8 57.6h.8v.8h-.8zM55.6 42.6h.8v.8h-.8zM60.9 58.2h.8v.8h-.8zM68.7 38.3h.8v.8h-.8zM60.0 57.4h.8v.8h-.8zM65.9 57.9h.8v.8h-.8zM59.2 40.0h.8v.8h-.8zM63.2 37.3h.8v.8h-.8zM53.5 46.7h.8v.8h-.8zM60.4 54.7h.8v.8h-.8zM53.1 49.3h.8v.8h-.8zM60.0 39.6h.8v.8h-.8zM58.9 54.6h.8v.8h-.8zM61.2 42.1h.8v.8h-.8zM59.9 56.8h.8v.8h-.8zM58.0 51.9h.8v.8h-.8zM65.2 38.4h.8v.8h-.8zM54.8 29.1h.8v.8h-.8zM57.4 42.3h.8v.8h-.8zM61.5 45.2h.8v.8h-.8zM55.4 53.1h.8v.8h-.8zM64.9 47.3h.8v.8h-.8zM49.7 56.2h.8v.8h-.8zM52.6 41.0h.8v.8h-.8zM52.2 52.1h.8v.8h-.8zM54.5 36.4h.8v.8h-.8zM65.3 51.7h.8v.8h-.8zM62.4 36.9h.8v.8h-.8zM51.9 38.2h.8v.8h-.8zM61.5 42.0h.8v.8h-.8zM61.3 48.6h.8v.8h-.8zM55.9 53.6h.8v.8h-.8zM58.9 36.3h.8v.8h-.8zM55.7 49.6h.8v.8h-.8zM56.9 44.8h.8v.8h-.8zM63.8 34.3h.8v.8h-.8zM67.2 39.6h.8v.8h-.8zM56.1 44.2h.8v.8h-.8zM63.5 43.1h.8v.8h-.8zM62.8 57.9h.8v.8h-.8zM60.5 35.2h.8v.8h-.8zM56.4 50.7h.8v.8h-.8zM63.0 29.9h.8v.8h-.8zM61.4 43.5h.8v.8h-.8zM56.7 51.9h.8v.8h-.8zM57.2 55.4h.8v.8h-.8zM67.5 50.3h.8v.8h-.8zM68.6 38.5h.8v.8h-.8zM58.0 47.1h.8v.8h-.8zM62.0 47.7h.8v.8h-.8zM61.9 34.2h.8v.8h-.8zM66.1 44.3h.8v.8h-.8zM62.0 58.3h.8v.8h-.8zM67.0 36.0h.8v.8h-.8zM67.4 57.4h.8v.8h-.8zM55.2 59.8h.8v.8h-.8zM52.1 52.8h.8v.8h-.8zM56.9 55.3h.8v.8h-.8zM59.1 61.3h.8v.8h-.8zM59.9 32.9h.8v.8h-.8zM55.2 50.6h.8v.8h-.8zM52.3 55.4h.8v.8h-.8zM62.2 37.7h.8v.8h-.8zM57.5 43.2h.8v.8h-.8zM56.7 44.0h.8v.8h-.8zM51.3 43.7h.8v.8h-.8zM59.5 52.7h.8v.8h-.8zM59.9 43.6h.8v.8h-.8zM55.1 27.1h.8v.8h-.8zM59.9 33.6h.8v.8h-.8zM58.9 38.6h.8v.8h-.8zM58.6 56.2h.8v.8h-.8zM66.8 45.2h.8v.8h-.8zM57.4 53.3h.8v.8h-.8zM56.1 108.2h.8v.8h-.8zM57.3 108.2h.8v.8h-.8zM55.5 107.2h.8v.8h-.8zM54.3 109.1h.8v.8h-.8zM57.9 108.6h.8v.8h-.8zM61.5 103.0h.8v.8h-.8zM51.7 104.3h.8v.8h-.8zM54.6 107.0h.8v.8h-.8zM54.3 104.7h.8v.8h-.8zM54.5 107.0h.8v.8h-.8zM49.2 108.1h.8v.8h-.8zM63.3 93.9h.8v.8h-.8zM67.7 89.2h.8v.8h-.8zM70.8 68.5h.8v.8h-.8zM64.6 76.6h.8v.8h-.8zM66.0 84.2h.8v.8h-.8zM62.7 78.7h.8v.8h-.8zM67.3 58.5h.8v.8h-.8zM71.2 97.8h.8v.8h-.8zM68.6 38.2h.8v.8h-.8zM70.2 88.3h.8v.8h-.8zM68.8 83.0h.8v.8h-.8zM63.8 86.6h.8v.8h-.8zM70.3 90.3h.8v.8h-.8zM64.2 74.4h.8v.8h-.8zM67.5 93.6h.8v.8h-.8zM65.1 79.1h.8v.8h-.8zM67.7 75.5h.8v.8h-.8zM65.4 88.9h.8v.8h-.8zM69.9 85.5h.8v.8h-.8zM61.4 84.1h.8v.8h-.8zM70.8 54.3h.8v.8h-.8z"/>
<path d="M50.3,72.0 C51.0,67.4 53.0,64.6 54.5,62.5 C56.0,60.4 58.0,59.5 59.5,59.5 C61.0,59.5 62.9,60.6 63.8,62.5 C64.7,64.4 64.9,68.1 65.0,71.0 C65.1,73.9 64.8,77.1 64.5,80.0 C64.2,82.9 64.2,86.2 63.3,88.5 C62.4,90.8 60.3,92.7 59.0,94.0 C57.7,95.3 56.8,95.4 55.5,96.5 C54.2,97.6 52.4,101.6 51.5,100.5 C50.6,99.4 50.5,94.8 50.3,90.0 C50.1,85.2 49.6,76.6 50.3,72.0 Z" fill="#fff" stroke="#444" stroke-width="0.75"/>
<path d="M53.0,74.0 C53.7,72.2 55.3,72.3 56.5,72.0 C57.7,71.7 59.0,70.7 60.0,72.0 C61.0,73.3 62.4,77.1 62.5,79.7 C62.6,82.3 61.6,85.7 60.7,87.5 C59.8,89.3 58.1,89.8 57.0,90.5 C55.9,91.2 54.5,93.2 53.8,92.0 C53.0,90.8 52.6,86.0 52.5,83.0 C52.4,80.0 52.3,75.8 53.0,74.0 Z" fill="none" stroke="#404040" stroke-width="0.6"/>
<clipPath id="bq0"><rect x="27.3" y="30.8" width="23.3" height="71.8"/></clipPath>
<clipPath id="rq0"><rect x="27.3" y="102.6" width="23.3" height="20.400000000000006"/></clipPath>
<g clip-path="url(#bq0)">
<ellipse cx="45.3" cy="85.0" rx="5.8" ry="21.5" transform="rotate(9 45.3 85.0)" fill="#bfc3f1" stroke="#5560cc" stroke-width="0.6"/>
<ellipse cx="45.2" cy="88.8" rx="5.0" ry="17.2" transform="rotate(9 45.2 88.8)" fill="#f0f1fd" stroke="#5560cc" stroke-width="0.6"/>
<ellipse cx="45.0" cy="92.2" rx="4.4" ry="13.3" transform="rotate(9 45.0 92.2)" fill="#cdd0f4" stroke="#5560cc" stroke-width="0.6"/>
<ellipse cx="44.9" cy="95.3" rx="3.8" ry="9.9" transform="rotate(9 44.9 95.3)" fill="#f6f6fe" stroke="#5560cc" stroke-width="0.6"/>
<ellipse cx="44.8" cy="97.9" rx="3.2" ry="6.9" transform="rotate(9 44.8 97.9)" fill="#d4d7f6" stroke="#5560cc" stroke-width="0.6"/>
<ellipse cx="44.7" cy="100.2" rx="2.8" ry="4.3" transform="rotate(9 44.7 100.2)" fill="#fbfbff" stroke="#5560cc" stroke-width="0.6"/>
</g>
<g clip-path="url(#rq0)">
<ellipse cx="44.3" cy="105.6" rx="5.3" ry="6.3" fill="#f7d8d4" stroke="#d05462" stroke-width="0.65"/>
<ellipse cx="44.3" cy="105.6" rx="4.1" ry="4.9" fill="#fcecec" stroke="#d05462" stroke-width="0.65"/>
<ellipse cx="44.3" cy="105.6" rx="3.0" ry="3.5" fill="#f8dcdc" stroke="#d05462" stroke-width="0.65"/>
<ellipse cx="44.3" cy="105.6" rx="1.9" ry="2.3" fill="#fff6f2" stroke="#d05462" stroke-width="0.65"/>
<ellipse cx="44.3" cy="105.6" rx="1.1" ry="1.3" fill="#fbe6c8" stroke="#d05462" stroke-width="0.65"/>
</g>
</g>
<line x1="50.2" y1="30.8" x2="50.2" y2="123" stroke="#4a4a4a" stroke-width="0.8"/>
<line x1="27.3" y1="102.6" x2="124.3" y2="102.6" stroke="#4a4a4a" stroke-width="0.8"/>
<text x="33.3" y="41.9" font-size="6.0" fill="#4646a8" font-weight="bold" textLength="7.4" lengthAdjust="spacingAndGlyphs" >G1</text>
<text x="33.1" y="47.5" font-size="4.6" fill="#5a5ac0" textLength="8.8" lengthAdjust="spacingAndGlyphs" >53%</text>
<text x="86.8" y="50.9" font-size="6.6" fill="#1a1a1a" textLength="21.3" lengthAdjust="spacingAndGlyphs" >S-G2-M</text>
<text x="98.2" y="57.4" font-size="4.7" fill="#222" textLength="8.9" lengthAdjust="spacingAndGlyphs" >38%</text>
<text x="31.2" y="119.9" font-size="6.3" fill="#b83444" textLength="7.4" lengthAdjust="spacingAndGlyphs" stroke="#b83444" stroke-width="0.25">G0</text>
<text x="60.6" y="119.0" font-size="4.7" fill="#c05060" textLength="6.0" lengthAdjust="spacingAndGlyphs" >9%</text>
<text x="45.3" y="127.9" font-size="2.9" fill="#333" font-weight="bold" text-anchor="middle" >50</text>
<text x="63.8" y="127.9" font-size="2.9" fill="#333" font-weight="bold" text-anchor="middle" >100</text>
<text x="82.2" y="127.9" font-size="2.9" fill="#333" font-weight="bold" text-anchor="middle" >150</text>
<text x="100.6" y="127.9" font-size="2.9" fill="#333" font-weight="bold" text-anchor="middle" >200</text>
<text x="119.1" y="127.9" font-size="2.9" fill="#333" font-weight="bold" text-anchor="middle" >250</text>
<rect x="24.4" y="102.1" width="1.2" height="2.2" fill="#555"/>
<rect x="24.4" y="85.5" width="1.2" height="2.2" fill="#555"/>
<rect x="24.4" y="68.9" width="1.2" height="2.2" fill="#555"/>
<rect x="24.4" y="52.3" width="1.2" height="2.2" fill="#555"/>
<rect x="24.4" y="35.7" width="1.2" height="2.2" fill="#555"/>
<text transform="translate(20.9,41.3) rotate(-90)" font-size="2.6" fill="#444" font-weight="bold">x 1,000</text>
<text x="113.9" y="130.6" font-size="2.6" fill="#444" font-weight="bold" textLength="10.8" lengthAdjust="spacingAndGlyphs" >x 1,000</text>
<rect x="153.4" y="31.5" width="102.1" height="95.5" fill="#fff" stroke="#9a9a9a" stroke-width="0.8"/>
<clipPath id="up1"><rect x="153.4" y="31.5" width="102.1" height="74.5"/></clipPath>
<clipPath id="dn1"><rect x="153.4" y="106" width="102.1" height="21"/></clipPath>
<clipPath id="pl1"><rect x="153.9" y="32.0" width="101.1" height="94.5"/></clipPath>
<g clip-path="url(#pl1)">
<path fill="#c8c8c8" d="M180.2 105.2h.8v.8h-.8zM191.3 86.2h.8v.8h-.8zM192.2 75.1h.8v.8h-.8zM188.0 105.1h.8v.8h-.8zM180.4 63.2h.8v.8h-.8zM185.5 62.9h.8v.8h-.8zM193.5 87.7h.8v.8h-.8zM192.5 96.3h.8v.8h-.8zM183.7 60.3h.8v.8h-.8zM191.5 101.0h.8v.8h-.8zM190.9 86.7h.8v.8h-.8zM192.5 95.8h.8v.8h-.8zM185.4 59.9h.8v.8h-.8zM180.4 63.5h.8v.8h-.8zM192.8 86.0h.8v.8h-.8zM178.2 61.5h.8v.8h-.8zM192.3 78.7h.8v.8h-.8zM189.1 69.9h.8v.8h-.8zM192.5 91.7h.8v.8h-.8zM181.9 60.6h.8v.8h-.8zM189.0 65.7h.8v.8h-.8zM182.3 62.0h.8v.8h-.8zM188.8 66.5h.8v.8h-.8zM186.0 61.3h.8v.8h-.8zM178.6 65.6h.8v.8h-.8zM191.8 93.0h.8v.8h-.8zM190.7 100.4h.8v.8h-.8zM190.3 100.4h.8v.8h-.8zM191.6 97.4h.8v.8h-.8zM189.2 102.0h.8v.8h-.8zM193.2 81.9h.8v.8h-.8zM188.8 74.4h.8v.8h-.8zM196.7 92.8h.8v.8h-.8zM187.4 102.5h.8v.8h-.8zM188.2 68.1h.8v.8h-.8zM183.0 60.3h.8v.8h-.8zM179.2 108.7h.8v.8h-.8zM192.9 95.2h.8v.8h-.8zM182.8 105.8h.8v.8h-.8zM188.6 105.0h.8v.8h-.8zM184.3 59.4h.8v.8h-.8zM185.6 107.8h.8v.8h-.8zM180.4 65.0h.8v.8h-.8zM186.1 62.5h.8v.8h-.8zM191.8 92.9h.8v.8h-.8zM182.8 61.9h.8v.8h-.8zM179.9 107.1h.8v.8h-.8zM181.2 106.5h.8v.8h-.8zM190.0 71.0h.8v.8h-.8zM180.6 63.6h.8v.8h-.8zM177.8 60.8h.8v.8h-.8zM179.1 63.5h.8v.8h-.8zM193.1 81.5h.8v.8h-.8zM189.7 62.1h.8v.8h-.8zM188.5 61.3h.8v.8h-.8zM193.8 93.5h.8v.8h-.8zM183.7 60.5h.8v.8h-.8zM191.3 77.5h.8v.8h-.8zM190.4 71.5h.8v.8h-.8zM187.5 105.2h.8v.8h-.8zM186.5 61.5h.8v.8h-.8zM182.2 62.1h.8v.8h-.8zM189.4 70.6h.8v.8h-.8zM183.8 104.4h.8v.8h-.8zM185.5 61.9h.8v.8h-.8zM187.7 57.5h.8v.8h-.8zM191.6 91.5h.8v.8h-.8zM180.3 59.7h.8v.8h-.8zM189.6 68.2h.8v.8h-.8zM179.2 67.6h.8v.8h-.8zM188.5 63.5h.8v.8h-.8zM190.8 95.4h.8v.8h-.8zM190.2 80.0h.8v.8h-.8zM189.7 103.0h.8v.8h-.8zM182.2 105.9h.8v.8h-.8zM182.5 59.2h.8v.8h-.8zM178.9 66.6h.8v.8h-.8zM183.6 61.5h.8v.8h-.8zM192.7 86.8h.8v.8h-.8zM191.5 92.4h.8v.8h-.8zM183.9 58.5h.8v.8h-.8zM191.9 99.2h.8v.8h-.8zM192.7 76.3h.8v.8h-.8zM184.5 61.2h.8v.8h-.8zM183.5 107.9h.8v.8h-.8zM186.0 102.9h.8v.8h-.8zM187.4 62.4h.8v.8h-.8zM191.8 99.2h.8v.8h-.8zM180.4 105.1h.8v.8h-.8zM186.3 64.3h.8v.8h-.8zM184.7 106.9h.8v.8h-.8zM190.0 74.5h.8v.8h-.8zM186.7 60.2h.8v.8h-.8zM192.5 96.6h.8v.8h-.8zM179.0 106.2h.8v.8h-.8zM181.3 64.4h.8v.8h-.8zM179.4 107.7h.8v.8h-.8zM191.3 100.8h.8v.8h-.8zM178.1 63.0h.8v.8h-.8zM188.1 64.1h.8v.8h-.8zM184.1 61.3h.8v.8h-.8zM188.8 98.4h.8v.8h-.8zM189.1 100.4h.8v.8h-.8zM190.6 81.2h.8v.8h-.8zM180.9 105.8h.8v.8h-.8zM188.9 98.8h.8v.8h-.8zM189.1 70.5h.8v.8h-.8zM180.8 104.9h.8v.8h-.8zM180.9 105.6h.8v.8h-.8zM188.7 104.4h.8v.8h-.8zM190.2 78.0h.8v.8h-.8zM188.7 60.9h.8v.8h-.8zM191.4 95.1h.8v.8h-.8zM190.0 101.1h.8v.8h-.8zM182.1 107.0h.8v.8h-.8zM184.4 61.3h.8v.8h-.8zM187.3 62.8h.8v.8h-.8zM181.3 105.6h.8v.8h-.8zM189.0 71.1h.8v.8h-.8zM181.6 105.5h.8v.8h-.8zM179.7 61.3h.8v.8h-.8zM189.7 98.6h.8v.8h-.8zM182.9 104.8h.8v.8h-.8zM179.4 62.0h.8v.8h-.8zM179.2 108.9h.8v.8h-.8zM186.1 61.4h.8v.8h-.8zM190.7 100.4h.8v.8h-.8zM184.1 62.6h.8v.8h-.8zM186.6 102.5h.8v.8h-.8zM192.1 92.0h.8v.8h-.8zM181.1 61.9h.8v.8h-.8zM184.5 106.0h.8v.8h-.8zM192.3 79.6h.8v.8h-.8zM191.0 74.2h.8v.8h-.8zM191.3 89.2h.8v.8h-.8zM191.1 99.9h.8v.8h-.8zM186.0 108.9h.8v.8h-.8zM182.5 62.3h.8v.8h-.8zM183.9 58.0h.8v.8h-.8zM183.5 58.8h.8v.8h-.8zM191.5 91.8h.8v.8h-.8zM185.7 103.1h.8v.8h-.8zM189.0 73.3h.8v.8h-.8zM191.3 82.3h.8v.8h-.8zM182.8 103.7h.8v.8h-.8zM188.1 65.9h.8v.8h-.8zM192.5 86.7h.8v.8h-.8zM186.7 100.5h.8v.8h-.8zM192.5 88.1h.8v.8h-.8zM192.3 77.3h.8v.8h-.8zM187.3 64.6h.8v.8h-.8zM185.8 104.1h.8v.8h-.8zM185.3 107.3h.8v.8h-.8zM183.2 58.2h.8v.8h-.8zM192.0 94.8h.8v.8h-.8zM190.7 78.2h.8v.8h-.8zM182.7 104.4h.8v.8h-.8zM182.3 59.1h.8v.8h-.8zM184.9 62.9h.8v.8h-.8zM191.6 90.9h.8v.8h-.8zM190.6 96.0h.8v.8h-.8zM178.3 110.2h.8v.8h-.8zM191.6 95.7h.8v.8h-.8zM192.4 95.5h.8v.8h-.8zM187.0 65.4h.8v.8h-.8zM190.7 85.3h.8v.8h-.8zM180.0 64.4h.8v.8h-.8zM182.9 61.3h.8v.8h-.8zM189.9 74.8h.8v.8h-.8zM192.0 94.4h.8v.8h-.8zM189.5 66.7h.8v.8h-.8zM191.2 69.2h.8v.8h-.8zM187.1 64.7h.8v.8h-.8zM181.9 55.8h.8v.8h-.8zM180.6 52.6h.8v.8h-.8zM195.6 63.3h.8v.8h-.8zM186.5 51.2h.8v.8h-.8zM186.0 43.2h.8v.8h-.8zM193.6 37.4h.8v.8h-.8zM183.9 59.6h.8v.8h-.8zM189.1 32.0h.8v.8h-.8zM181.9 34.2h.8v.8h-.8zM184.5 72.9h.8v.8h-.8zM177.9 45.5h.8v.8h-.8zM190.8 42.4h.8v.8h-.8zM194.0 45.4h.8v.8h-.8zM192.1 56.9h.8v.8h-.8zM186.4 51.3h.8v.8h-.8zM185.3 47.4h.8v.8h-.8zM187.9 44.2h.8v.8h-.8zM186.0 50.4h.8v.8h-.8zM178.1 35.7h.8v.8h-.8zM189.3 37.5h.8v.8h-.8zM183.9 54.4h.8v.8h-.8zM185.6 52.7h.8v.8h-.8zM187.2 40.6h.8v.8h-.8zM193.3 56.0h.8v.8h-.8zM179.1 43.6h.8v.8h-.8zM192.2 25.2h.8v.8h-.8zM188.2 49.5h.8v.8h-.8zM182.7 59.5h.8v.8h-.8zM180.8 50.7h.8v.8h-.8zM187.1 70.4h.8v.8h-.8zM189.1 51.8h.8v.8h-.8zM184.3 46.6h.8v.8h-.8zM185.4 35.5h.8v.8h-.8zM179.2 43.5h.8v.8h-.8zM187.5 55.9h.8v.8h-.8zM193.7 49.7h.8v.8h-.8zM187.7 46.0h.8v.8h-.8zM188.4 49.8h.8v.8h-.8zM187.0 52.9h.8v.8h-.8zM193.7 57.4h.8v.8h-.8zM191.9 49.0h.8v.8h-.8zM183.0 41.6h.8v.8h-.8zM180.1 61.1h.8v.8h-.8zM186.3 43.3h.8v.8h-.8zM184.7 39.2h.8v.8h-.8zM184.2 52.7h.8v.8h-.8zM185.6 45.8h.8v.8h-.8zM188.2 35.3h.8v.8h-.8zM187.5 64.6h.8v.8h-.8zM189.8 63.3h.8v.8h-.8zM178.4 42.5h.8v.8h-.8zM183.5 41.5h.8v.8h-.8zM189.8 64.6h.8v.8h-.8zM197.3 47.6h.8v.8h-.8zM192.6 32.8h.8v.8h-.8zM180.4 34.7h.8v.8h-.8zM174.8 51.3h.8v.8h-.8zM180.6 49.7h.8v.8h-.8zM189.0 65.1h.8v.8h-.8zM185.2 63.7h.8v.8h-.8zM195.0 34.5h.8v.8h-.8zM181.9 53.8h.8v.8h-.8zM183.1 38.6h.8v.8h-.8zM184.9 52.0h.8v.8h-.8zM189.8 36.0h.8v.8h-.8zM183.2 54.2h.8v.8h-.8zM186.3 43.1h.8v.8h-.8zM177.4 45.7h.8v.8h-.8zM188.6 44.6h.8v.8h-.8zM181.5 34.8h.8v.8h-.8zM176.8 30.3h.8v.8h-.8zM193.4 47.4h.8v.8h-.8zM183.1 61.5h.8v.8h-.8zM191.1 24.7h.8v.8h-.8zM183.2 40.0h.8v.8h-.8zM184.1 39.9h.8v.8h-.8zM183.2 50.2h.8v.8h-.8zM175.1 48.6h.8v.8h-.8zM182.8 37.0h.8v.8h-.8zM192.4 62.2h.8v.8h-.8zM179.2 52.9h.8v.8h-.8zM171.6 41.7h.8v.8h-.8zM191.8 35.3h.8v.8h-.8zM191.4 40.3h.8v.8h-.8zM181.0 20.3h.8v.8h-.8zM184.8 55.0h.8v.8h-.8zM186.0 23.5h.8v.8h-.8zM185.6 46.9h.8v.8h-.8zM188.8 67.3h.8v.8h-.8zM182.6 62.2h.8v.8h-.8zM181.5 27.2h.8v.8h-.8zM193.8 35.0h.8v.8h-.8zM187.7 61.9h.8v.8h-.8zM193.3 65.9h.8v.8h-.8zM187.1 59.0h.8v.8h-.8zM184.2 30.8h.8v.8h-.8zM184.5 53.6h.8v.8h-.8zM183.0 53.5h.8v.8h-.8zM188.2 43.8h.8v.8h-.8zM189.3 54.6h.8v.8h-.8zM184.3 48.6h.8v.8h-.8zM180.4 44.1h.8v.8h-.8zM187.9 25.0h.8v.8h-.8zM180.0 30.6h.8v.8h-.8zM177.8 50.6h.8v.8h-.8zM195.4 55.8h.8v.8h-.8zM184.8 53.8h.8v.8h-.8zM189.1 38.9h.8v.8h-.8zM188.0 56.5h.8v.8h-.8zM197.2 39.9h.8v.8h-.8zM193.4 49.8h.8v.8h-.8zM180.7 23.7h.8v.8h-.8zM183.6 114.8h.8v.8h-.8zM184.7 118.0h.8v.8h-.8zM186.3 117.6h.8v.8h-.8zM177.0 117.1h.8v.8h-.8zM186.9 113.5h.8v.8h-.8zM178.2 112.6h.8v.8h-.8zM182.3 110.1h.8v.8h-.8zM190.3 117.0h.8v.8h-.8zM182.6 120.3h.8v.8h-.8zM184.9 121.1h.8v.8h-.8zM176.9 113.3h.8v.8h-.8zM180.6 113.9h.8v.8h-.8zM183.0 115.4h.8v.8h-.8zM187.6 114.1h.8v.8h-.8zM186.4 112.3h.8v.8h-.8zM178.4 109.9h.8v.8h-.8zM182.8 113.2h.8v.8h-.8zM191.4 113.4h.8v.8h-.8zM182.6 113.1h.8v.8h-.8zM184.9 119.9h.8v.8h-.8zM187.5 118.8h.8v.8h-.8zM180.4 109.2h.8v.8h-.8zM185.7 112.2h.8v.8h-.8zM182.5 112.9h.8v.8h-.8zM182.6 118.2h.8v.8h-.8zM186.9 114.8h.8v.8h-.8zM177.7 102.2h.8v.8h-.8zM185.9 104.8h.8v.8h-.8zM181.6 107.1h.8v.8h-.8zM191.2 124.8h.8v.8h-.8zM188.8 113.8h.8v.8h-.8zM179.4 118.0h.8v.8h-.8zM180.5 111.9h.8v.8h-.8zM188.1 114.9h.8v.8h-.8zM181.7 120.5h.8v.8h-.8zM187.8 115.4h.8v.8h-.8zM187.1 103.7h.8v.8h-.8zM174.1 116.0h.8v.8h-.8zM182.1 118.3h.8v.8h-.8zM181.4 115.7h.8v.8h-.8zM185.9 116.5h.8v.8h-.8zM185.1 113.3h.8v.8h-.8zM194.1 115.9h.8v.8h-.8zM183.0 117.5h.8v.8h-.8zM183.0 113.5h.8v.8h-.8zM190.1 111.2h.8v.8h-.8zM185.5 111.4h.8v.8h-.8zM190.6 112.5h.8v.8h-.8zM181.3 114.3h.8v.8h-.8zM182.8 102.2h.8v.8h-.8zM183.0 109.0h.8v.8h-.8zM179.0 101.3h.8v.8h-.8zM184.5 100.3h.8v.8h-.8zM185.6 112.4h.8v.8h-.8zM167.8 129.7h.8v.8h-.8zM180.8 103.3h.8v.8h-.8zM188.3 110.6h.8v.8h-.8zM196.9 88.2h.8v.8h-.8zM195.9 67.8h.8v.8h-.8zM192.6 83.0h.8v.8h-.8zM194.2 114.1h.8v.8h-.8zM192.7 64.7h.8v.8h-.8zM195.5 78.8h.8v.8h-.8zM188.0 84.6h.8v.8h-.8zM192.0 112.9h.8v.8h-.8zM196.1 94.4h.8v.8h-.8zM201.6 71.7h.8v.8h-.8zM194.4 76.5h.8v.8h-.8zM191.2 104.1h.8v.8h-.8zM197.4 96.4h.8v.8h-.8zM189.3 89.5h.8v.8h-.8zM190.6 89.7h.8v.8h-.8zM195.3 65.7h.8v.8h-.8zM191.4 82.1h.8v.8h-.8zM193.0 60.0h.8v.8h-.8zM191.2 64.3h.8v.8h-.8zM194.5 93.1h.8v.8h-.8zM192.1 105.4h.8v.8h-.8zM194.1 98.8h.8v.8h-.8zM196.6 81.0h.8v.8h-.8zM194.0 56.8h.8v.8h-.8zM190.8 93.2h.8v.8h-.8zM189.3 96.2h.8v.8h-.8zM194.6 89.1h.8v.8h-.8zM193.8 89.2h.8v.8h-.8zM187.1 68.5h.8v.8h-.8zM193.8 78.6h.8v.8h-.8zM192.4 89.8h.8v.8h-.8zM195.7 70.5h.8v.8h-.8z"/>
<path fill="#b8b8b8" d="M188.4 67.2h.8v.8h-.8zM191.0 99.8h.8v.8h-.8zM188.8 100.3h.8v.8h-.8zM185.6 60.8h.8v.8h-.8zM193.9 82.5h.8v.8h-.8zM177.0 112.0h.8v.8h-.8zM179.1 111.7h.8v.8h-.8zM187.1 103.4h.8v.8h-.8zM185.7 59.5h.8v.8h-.8zM184.8 62.1h.8v.8h-.8zM186.6 59.2h.8v.8h-.8zM194.8 92.3h.8v.8h-.8zM191.1 74.4h.8v.8h-.8zM191.7 88.5h.8v.8h-.8zM182.0 59.9h.8v.8h-.8zM180.5 60.1h.8v.8h-.8zM181.8 60.8h.8v.8h-.8zM191.1 62.7h.8v.8h-.8zM189.6 103.7h.8v.8h-.8zM179.8 110.2h.8v.8h-.8zM186.8 100.7h.8v.8h-.8zM177.9 63.0h.8v.8h-.8zM181.1 62.1h.8v.8h-.8zM182.3 61.2h.8v.8h-.8zM191.8 93.0h.8v.8h-.8zM181.3 105.8h.8v.8h-.8zM190.0 79.3h.8v.8h-.8zM183.2 107.1h.8v.8h-.8zM180.1 108.7h.8v.8h-.8zM185.2 59.6h.8v.8h-.8zM189.2 64.1h.8v.8h-.8zM179.0 64.5h.8v.8h-.8zM181.7 108.6h.8v.8h-.8zM190.2 75.6h.8v.8h-.8zM182.6 56.8h.8v.8h-.8zM181.8 62.8h.8v.8h-.8zM184.1 104.0h.8v.8h-.8zM182.8 104.6h.8v.8h-.8zM187.2 61.5h.8v.8h-.8zM182.9 57.8h.8v.8h-.8zM179.7 66.0h.8v.8h-.8zM191.0 101.6h.8v.8h-.8zM185.1 61.0h.8v.8h-.8zM187.6 106.7h.8v.8h-.8zM180.2 106.2h.8v.8h-.8zM180.0 57.9h.8v.8h-.8zM194.9 89.9h.8v.8h-.8zM187.0 61.7h.8v.8h-.8zM192.9 95.7h.8v.8h-.8zM178.9 105.2h.8v.8h-.8zM185.0 104.4h.8v.8h-.8zM186.7 61.4h.8v.8h-.8zM189.2 67.2h.8v.8h-.8zM182.5 58.9h.8v.8h-.8zM183.9 60.4h.8v.8h-.8zM185.9 62.3h.8v.8h-.8zM188.9 60.1h.8v.8h-.8zM191.8 71.0h.8v.8h-.8zM192.7 96.5h.8v.8h-.8zM190.2 98.8h.8v.8h-.8zM190.1 87.8h.8v.8h-.8zM191.3 88.5h.8v.8h-.8zM181.9 58.7h.8v.8h-.8zM192.1 96.8h.8v.8h-.8zM192.3 95.7h.8v.8h-.8zM194.1 72.3h.8v.8h-.8zM185.5 63.1h.8v.8h-.8zM187.5 66.8h.8v.8h-.8zM187.3 62.3h.8v.8h-.8zM183.3 62.4h.8v.8h-.8zM190.1 79.0h.8v.8h-.8zM188.4 101.1h.8v.8h-.8zM187.2 65.4h.8v.8h-.8zM179.6 65.1h.8v.8h-.8zM192.3 96.4h.8v.8h-.8zM193.0 92.9h.8v.8h-.8zM192.1 99.0h.8v.8h-.8zM192.8 91.5h.8v.8h-.8zM192.8 88.6h.8v.8h-.8zM192.9 98.3h.8v.8h-.8zM182.7 105.6h.8v.8h-.8zM191.4 66.5h.8v.8h-.8zM181.4 106.9h.8v.8h-.8zM192.2 85.7h.8v.8h-.8zM189.4 67.5h.8v.8h-.8zM183.7 60.8h.8v.8h-.8zM193.3 82.1h.8v.8h-.8zM185.4 63.7h.8v.8h-.8zM193.8 80.2h.8v.8h-.8zM187.2 105.1h.8v.8h-.8zM190.6 89.6h.8v.8h-.8zM190.0 69.3h.8v.8h-.8zM192.7 95.2h.8v.8h-.8zM182.0 62.9h.8v.8h-.8zM191.8 93.1h.8v.8h-.8zM181.7 60.6h.8v.8h-.8zM191.4 96.1h.8v.8h-.8zM192.6 102.1h.8v.8h-.8zM191.2 74.4h.8v.8h-.8zM192.1 96.3h.8v.8h-.8zM188.4 64.6h.8v.8h-.8zM184.9 61.4h.8v.8h-.8zM181.7 62.5h.8v.8h-.8zM178.5 61.5h.8v.8h-.8zM190.7 81.5h.8v.8h-.8zM184.0 105.6h.8v.8h-.8zM179.4 64.2h.8v.8h-.8zM191.7 89.9h.8v.8h-.8zM193.3 90.0h.8v.8h-.8zM190.8 77.9h.8v.8h-.8zM191.8 98.4h.8v.8h-.8zM186.6 103.2h.8v.8h-.8zM187.5 60.4h.8v.8h-.8zM193.0 89.5h.8v.8h-.8zM182.1 104.6h.8v.8h-.8zM190.5 72.5h.8v.8h-.8zM186.5 62.7h.8v.8h-.8zM188.2 100.6h.8v.8h-.8zM189.8 63.4h.8v.8h-.8zM191.0 72.5h.8v.8h-.8zM188.9 63.0h.8v.8h-.8zM190.7 78.9h.8v.8h-.8zM180.5 59.7h.8v.8h-.8zM181.4 59.0h.8v.8h-.8zM183.0 63.0h.8v.8h-.8zM190.9 102.4h.8v.8h-.8zM192.3 87.3h.8v.8h-.8zM190.9 98.2h.8v.8h-.8zM190.5 98.9h.8v.8h-.8zM190.8 95.6h.8v.8h-.8zM192.4 97.3h.8v.8h-.8zM192.9 92.2h.8v.8h-.8zM193.0 82.8h.8v.8h-.8zM191.0 101.1h.8v.8h-.8zM193.8 82.4h.8v.8h-.8zM183.0 105.7h.8v.8h-.8zM191.0 72.6h.8v.8h-.8zM194.2 98.3h.8v.8h-.8zM187.7 101.4h.8v.8h-.8zM188.1 62.5h.8v.8h-.8zM191.4 79.2h.8v.8h-.8zM190.0 79.9h.8v.8h-.8zM191.9 73.0h.8v.8h-.8zM180.2 65.0h.8v.8h-.8zM186.7 59.7h.8v.8h-.8zM189.2 100.8h.8v.8h-.8zM186.9 61.1h.8v.8h-.8zM182.4 59.9h.8v.8h-.8zM191.8 69.7h.8v.8h-.8zM181.8 61.3h.8v.8h-.8zM187.5 65.1h.8v.8h-.8zM181.7 61.0h.8v.8h-.8zM181.5 61.5h.8v.8h-.8zM191.3 101.9h.8v.8h-.8zM180.2 63.2h.8v.8h-.8zM191.8 98.4h.8v.8h-.8zM180.3 61.9h.8v.8h-.8zM191.1 99.8h.8v.8h-.8zM189.5 65.6h.8v.8h-.8zM180.4 65.5h.8v.8h-.8zM191.8 95.7h.8v.8h-.8zM179.5 62.4h.8v.8h-.8zM188.7 104.2h.8v.8h-.8zM190.0 71.0h.8v.8h-.8zM179.3 107.1h.8v.8h-.8zM188.5 65.3h.8v.8h-.8zM182.1 62.0h.8v.8h-.8zM181.6 62.3h.8v.8h-.8zM181.1 63.2h.8v.8h-.8zM184.2 108.0h.8v.8h-.8zM183.1 105.9h.8v.8h-.8zM188.0 105.7h.8v.8h-.8zM190.3 61.9h.8v.8h-.8zM190.0 61.8h.8v.8h-.8zM185.7 61.0h.8v.8h-.8zM186.9 105.8h.8v.8h-.8zM190.3 74.0h.8v.8h-.8zM180.7 62.0h.8v.8h-.8zM191.0 86.4h.8v.8h-.8zM183.4 104.1h.8v.8h-.8zM184.5 62.1h.8v.8h-.8zM191.2 95.0h.8v.8h-.8zM191.8 89.0h.8v.8h-.8zM191.6 77.8h.8v.8h-.8zM188.4 101.5h.8v.8h-.8zM180.2 65.3h.8v.8h-.8zM186.5 102.3h.8v.8h-.8zM193.4 93.6h.8v.8h-.8zM190.9 77.7h.8v.8h-.8zM191.3 65.5h.8v.8h-.8zM191.2 72.1h.8v.8h-.8zM180.0 65.4h.8v.8h-.8zM188.4 62.0h.8v.8h-.8zM190.4 85.9h.8v.8h-.8zM191.3 98.9h.8v.8h-.8zM180.4 64.2h.8v.8h-.8zM193.4 95.1h.8v.8h-.8z"/>
<path fill="#a8a8a8" d="M181.4 62.0h.8v.8h-.8zM187.5 60.7h.8v.8h-.8zM191.5 93.5h.8v.8h-.8zM188.3 61.5h.8v.8h-.8zM192.7 85.8h.8v.8h-.8zM186.1 60.4h.8v.8h-.8zM183.0 104.1h.8v.8h-.8zM188.4 63.7h.8v.8h-.8zM184.4 59.7h.8v.8h-.8zM182.8 60.2h.8v.8h-.8zM192.5 97.8h.8v.8h-.8zM189.0 66.2h.8v.8h-.8zM190.4 91.7h.8v.8h-.8zM194.2 88.6h.8v.8h-.8zM183.7 104.4h.8v.8h-.8zM190.7 63.2h.8v.8h-.8zM181.4 63.9h.8v.8h-.8zM183.0 105.1h.8v.8h-.8zM179.4 59.3h.8v.8h-.8zM190.5 80.5h.8v.8h-.8zM183.2 105.2h.8v.8h-.8zM185.7 105.4h.8v.8h-.8zM191.0 80.5h.8v.8h-.8zM182.0 105.3h.8v.8h-.8zM190.1 63.0h.8v.8h-.8zM188.4 63.8h.8v.8h-.8zM186.2 60.9h.8v.8h-.8zM191.9 70.1h.8v.8h-.8zM189.9 98.9h.8v.8h-.8zM192.3 74.1h.8v.8h-.8zM180.2 60.4h.8v.8h-.8zM179.0 108.7h.8v.8h-.8zM185.9 103.5h.8v.8h-.8zM189.8 81.6h.8v.8h-.8zM190.0 82.5h.8v.8h-.8zM186.9 61.4h.8v.8h-.8zM180.6 109.6h.8v.8h-.8zM191.6 97.0h.8v.8h-.8zM190.5 90.1h.8v.8h-.8zM190.1 68.3h.8v.8h-.8zM179.0 106.5h.8v.8h-.8zM188.3 62.2h.8v.8h-.8zM190.1 69.0h.8v.8h-.8zM185.8 61.6h.8v.8h-.8zM179.2 63.4h.8v.8h-.8zM191.6 86.4h.8v.8h-.8zM189.8 64.6h.8v.8h-.8zM190.1 65.9h.8v.8h-.8zM191.1 71.7h.8v.8h-.8zM191.4 81.6h.8v.8h-.8zM178.5 63.7h.8v.8h-.8zM193.9 83.4h.8v.8h-.8zM192.1 73.8h.8v.8h-.8zM190.5 68.2h.8v.8h-.8zM188.7 63.9h.8v.8h-.8zM191.6 95.6h.8v.8h-.8zM191.1 99.9h.8v.8h-.8zM188.0 64.7h.8v.8h-.8zM187.6 61.0h.8v.8h-.8zM180.1 65.1h.8v.8h-.8zM191.3 98.7h.8v.8h-.8zM179.0 65.9h.8v.8h-.8zM183.9 60.9h.8v.8h-.8zM192.5 98.5h.8v.8h-.8zM183.3 106.2h.8v.8h-.8zM182.9 58.0h.8v.8h-.8zM181.3 58.7h.8v.8h-.8zM181.9 106.9h.8v.8h-.8zM189.7 61.3h.8v.8h-.8zM186.4 64.2h.8v.8h-.8zM179.2 63.8h.8v.8h-.8zM181.3 60.3h.8v.8h-.8zM190.9 72.7h.8v.8h-.8zM188.0 102.1h.8v.8h-.8zM179.5 109.6h.8v.8h-.8zM188.9 67.1h.8v.8h-.8zM183.9 62.5h.8v.8h-.8zM187.3 61.3h.8v.8h-.8zM185.4 101.6h.8v.8h-.8zM178.0 109.8h.8v.8h-.8zM182.1 104.2h.8v.8h-.8zM191.5 91.2h.8v.8h-.8zM184.8 104.4h.8v.8h-.8zM183.2 60.2h.8v.8h-.8zM179.2 108.0h.8v.8h-.8zM188.5 104.2h.8v.8h-.8zM180.2 65.5h.8v.8h-.8zM182.1 62.9h.8v.8h-.8zM195.6 94.4h.8v.8h-.8zM184.7 104.9h.8v.8h-.8zM190.2 75.5h.8v.8h-.8zM192.1 94.3h.8v.8h-.8zM181.8 103.2h.8v.8h-.8zM190.3 91.9h.8v.8h-.8zM190.4 99.0h.8v.8h-.8zM192.0 75.4h.8v.8h-.8zM179.5 60.5h.8v.8h-.8zM192.5 96.8h.8v.8h-.8zM179.9 107.2h.8v.8h-.8zM192.6 79.1h.8v.8h-.8zM188.7 68.0h.8v.8h-.8zM179.9 65.0h.8v.8h-.8zM181.0 105.0h.8v.8h-.8zM190.8 98.0h.8v.8h-.8zM188.8 66.7h.8v.8h-.8zM180.1 59.4h.8v.8h-.8zM190.6 83.2h.8v.8h-.8zM186.6 61.8h.8v.8h-.8zM180.1 105.8h.8v.8h-.8zM192.6 102.0h.8v.8h-.8zM186.8 104.9h.8v.8h-.8zM188.8 66.2h.8v.8h-.8zM183.7 62.1h.8v.8h-.8zM188.1 104.0h.8v.8h-.8zM194.7 94.0h.8v.8h-.8zM194.5 86.5h.8v.8h-.8zM188.4 57.9h.8v.8h-.8zM178.6 64.4h.8v.8h-.8zM181.6 58.5h.8v.8h-.8zM190.7 66.9h.8v.8h-.8zM185.7 64.1h.8v.8h-.8zM188.0 65.9h.8v.8h-.8zM191.5 91.4h.8v.8h-.8zM182.8 61.3h.8v.8h-.8zM179.0 105.4h.8v.8h-.8zM179.8 62.3h.8v.8h-.8zM191.7 91.6h.8v.8h-.8zM181.9 61.3h.8v.8h-.8zM185.7 62.6h.8v.8h-.8zM179.8 106.4h.8v.8h-.8zM182.9 61.8h.8v.8h-.8zM184.2 61.7h.8v.8h-.8zM185.3 60.4h.8v.8h-.8zM186.5 61.8h.8v.8h-.8zM185.9 61.4h.8v.8h-.8zM189.3 76.1h.8v.8h-.8zM189.6 63.4h.8v.8h-.8zM180.0 105.6h.8v.8h-.8zM192.2 97.9h.8v.8h-.8zM190.1 70.1h.8v.8h-.8zM187.4 102.7h.8v.8h-.8zM180.4 107.7h.8v.8h-.8zM190.3 79.2h.8v.8h-.8zM192.3 94.1h.8v.8h-.8zM191.7 94.7h.8v.8h-.8zM190.0 70.7h.8v.8h-.8zM194.2 103.7h.8v.8h-.8zM184.1 109.1h.8v.8h-.8zM189.3 70.2h.8v.8h-.8zM186.8 61.0h.8v.8h-.8zM178.9 63.9h.8v.8h-.8zM190.2 60.4h.8v.8h-.8zM183.7 62.3h.8v.8h-.8zM192.1 97.4h.8v.8h-.8zM189.7 69.7h.8v.8h-.8zM188.3 66.5h.8v.8h-.8zM191.0 91.0h.8v.8h-.8zM180.4 58.4h.8v.8h-.8zM191.6 74.9h.8v.8h-.8zM190.1 100.7h.8v.8h-.8zM180.9 61.1h.8v.8h-.8zM190.9 96.7h.8v.8h-.8zM191.4 88.8h.8v.8h-.8zM182.0 62.4h.8v.8h-.8zM190.5 82.7h.8v.8h-.8zM188.9 66.2h.8v.8h-.8zM190.0 71.9h.8v.8h-.8zM189.8 76.6h.8v.8h-.8zM184.7 62.5h.8v.8h-.8zM180.7 105.5h.8v.8h-.8zM180.4 104.4h.8v.8h-.8zM185.7 103.2h.8v.8h-.8zM183.1 61.6h.8v.8h-.8zM184.1 103.6h.8v.8h-.8zM182.2 58.0h.8v.8h-.8zM184.5 103.5h.8v.8h-.8zM180.6 64.1h.8v.8h-.8zM189.3 66.8h.8v.8h-.8zM189.1 102.9h.8v.8h-.8zM187.3 105.0h.8v.8h-.8zM189.9 84.7h.8v.8h-.8zM188.4 108.9h.8v.8h-.8zM178.8 108.6h.8v.8h-.8zM190.2 71.3h.8v.8h-.8zM192.9 96.2h.8v.8h-.8zM191.1 77.2h.8v.8h-.8zM182.2 106.2h.8v.8h-.8zM190.9 88.6h.8v.8h-.8zM193.2 72.9h.8v.8h-.8zM192.7 101.0h.8v.8h-.8zM191.4 85.0h.8v.8h-.8zM191.6 98.7h.8v.8h-.8zM191.0 97.6h.8v.8h-.8zM189.6 71.9h.8v.8h-.8zM192.5 73.3h.8v.8h-.8zM192.2 81.4h.8v.8h-.8zM189.7 97.7h.8v.8h-.8zM185.4 62.7h.8v.8h-.8zM180.1 62.7h.8v.8h-.8zM192.5 97.1h.8v.8h-.8zM179.8 109.1h.8v.8h-.8zM193.1 100.0h.8v.8h-.8zM188.5 62.5h.8v.8h-.8zM182.2 65.3h.8v.8h-.8zM180.6 107.2h.8v.8h-.8zM178.9 110.3h.8v.8h-.8zM190.1 72.2h.8v.8h-.8zM190.3 96.8h.8v.8h-.8zM179.9 65.5h.8v.8h-.8zM192.5 84.2h.8v.8h-.8zM188.3 103.7h.8v.8h-.8zM193.4 82.7h.8v.8h-.8z"/>
<path fill="#d4d4d4" d="M188.3 48.3h.8v.8h-.8zM183.3 42.3h.8v.8h-.8zM187.7 42.2h.8v.8h-.8zM172.6 65.4h.8v.8h-.8zM191.0 49.8h.8v.8h-.8zM185.1 43.0h.8v.8h-.8zM179.4 45.3h.8v.8h-.8zM185.4 40.0h.8v.8h-.8zM193.4 40.9h.8v.8h-.8zM179.2 34.8h.8v.8h-.8zM196.3 49.4h.8v.8h-.8zM178.5 39.9h.8v.8h-.8zM177.2 49.8h.8v.8h-.8zM186.8 54.2h.8v.8h-.8zM186.9 38.5h.8v.8h-.8zM184.6 50.0h.8v.8h-.8zM185.1 42.8h.8v.8h-.8zM182.0 45.6h.8v.8h-.8zM190.9 61.5h.8v.8h-.8zM192.0 43.9h.8v.8h-.8zM194.4 52.5h.8v.8h-.8zM185.4 46.5h.8v.8h-.8zM181.7 52.1h.8v.8h-.8zM180.8 51.2h.8v.8h-.8zM183.2 65.4h.8v.8h-.8zM190.7 42.4h.8v.8h-.8zM188.5 47.6h.8v.8h-.8zM186.8 48.1h.8v.8h-.8zM186.4 33.8h.8v.8h-.8zM189.1 52.7h.8v.8h-.8zM188.1 34.0h.8v.8h-.8zM187.8 63.9h.8v.8h-.8zM188.0 27.6h.8v.8h-.8zM185.7 43.3h.8v.8h-.8zM186.9 47.6h.8v.8h-.8zM178.8 43.0h.8v.8h-.8zM184.7 39.3h.8v.8h-.8zM180.6 54.1h.8v.8h-.8zM184.0 48.4h.8v.8h-.8zM188.4 58.1h.8v.8h-.8zM185.0 64.5h.8v.8h-.8zM189.8 32.6h.8v.8h-.8zM191.6 41.3h.8v.8h-.8zM189.7 46.3h.8v.8h-.8zM180.0 56.5h.8v.8h-.8zM184.7 55.5h.8v.8h-.8zM187.4 52.1h.8v.8h-.8zM188.6 47.2h.8v.8h-.8zM179.6 60.1h.8v.8h-.8zM199.6 63.3h.8v.8h-.8zM194.0 53.0h.8v.8h-.8zM197.8 52.4h.8v.8h-.8zM186.0 56.0h.8v.8h-.8zM178.2 52.5h.8v.8h-.8zM177.5 47.6h.8v.8h-.8zM180.0 52.1h.8v.8h-.8zM182.5 34.1h.8v.8h-.8zM188.2 66.7h.8v.8h-.8zM192.8 51.0h.8v.8h-.8zM185.9 38.4h.8v.8h-.8zM190.5 33.9h.8v.8h-.8zM178.9 39.7h.8v.8h-.8zM184.3 57.4h.8v.8h-.8zM186.9 35.4h.8v.8h-.8zM180.8 41.8h.8v.8h-.8zM184.0 35.9h.8v.8h-.8zM192.4 36.8h.8v.8h-.8zM196.2 63.0h.8v.8h-.8zM175.7 45.0h.8v.8h-.8zM180.0 58.9h.8v.8h-.8zM180.1 37.4h.8v.8h-.8zM180.4 50.8h.8v.8h-.8zM189.4 53.1h.8v.8h-.8zM188.8 57.6h.8v.8h-.8zM193.2 54.8h.8v.8h-.8zM186.3 44.4h.8v.8h-.8zM174.9 34.5h.8v.8h-.8zM193.8 44.2h.8v.8h-.8zM184.2 52.1h.8v.8h-.8zM180.2 69.3h.8v.8h-.8zM186.5 44.5h.8v.8h-.8zM179.9 53.4h.8v.8h-.8zM189.7 52.7h.8v.8h-.8zM180.0 64.0h.8v.8h-.8zM180.8 60.0h.8v.8h-.8zM183.3 40.6h.8v.8h-.8zM189.2 26.3h.8v.8h-.8zM190.6 47.5h.8v.8h-.8zM187.7 28.4h.8v.8h-.8zM191.5 35.6h.8v.8h-.8zM187.0 44.3h.8v.8h-.8zM187.3 41.7h.8v.8h-.8zM183.3 44.1h.8v.8h-.8zM192.4 59.4h.8v.8h-.8zM186.2 49.3h.8v.8h-.8zM189.4 68.6h.8v.8h-.8zM183.2 56.4h.8v.8h-.8zM189.5 72.0h.8v.8h-.8zM177.1 52.1h.8v.8h-.8zM190.7 46.1h.8v.8h-.8zM190.3 55.5h.8v.8h-.8zM187.6 50.5h.8v.8h-.8zM186.3 27.7h.8v.8h-.8zM182.7 53.2h.8v.8h-.8zM189.1 36.3h.8v.8h-.8zM187.7 52.7h.8v.8h-.8zM191.0 38.0h.8v.8h-.8zM195.4 44.9h.8v.8h-.8zM196.3 63.9h.8v.8h-.8zM180.2 73.2h.8v.8h-.8zM178.9 70.4h.8v.8h-.8zM178.3 43.0h.8v.8h-.8zM184.5 45.5h.8v.8h-.8zM180.6 45.6h.8v.8h-.8zM180.7 28.5h.8v.8h-.8zM183.5 32.3h.8v.8h-.8zM180.7 42.4h.8v.8h-.8zM188.2 47.7h.8v.8h-.8zM186.3 33.2h.8v.8h-.8zM190.4 22.3h.8v.8h-.8zM190.1 39.6h.8v.8h-.8zM192.1 59.7h.8v.8h-.8zM186.6 42.7h.8v.8h-.8zM189.6 40.9h.8v.8h-.8zM195.0 42.5h.8v.8h-.8zM188.4 50.8h.8v.8h-.8zM184.4 42.9h.8v.8h-.8zM183.7 62.7h.8v.8h-.8zM192.4 48.6h.8v.8h-.8zM190.1 55.9h.8v.8h-.8zM185.5 114.7h.8v.8h-.8zM188.2 110.0h.8v.8h-.8zM178.3 113.9h.8v.8h-.8zM181.5 123.8h.8v.8h-.8zM184.9 116.4h.8v.8h-.8zM188.3 110.5h.8v.8h-.8zM187.9 111.2h.8v.8h-.8zM180.9 116.2h.8v.8h-.8zM181.8 109.2h.8v.8h-.8zM179.4 114.1h.8v.8h-.8zM185.6 112.2h.8v.8h-.8zM179.9 117.6h.8v.8h-.8zM185.8 115.0h.8v.8h-.8zM183.6 120.4h.8v.8h-.8zM181.6 114.5h.8v.8h-.8zM190.7 119.7h.8v.8h-.8zM182.9 109.0h.8v.8h-.8zM183.9 114.9h.8v.8h-.8zM188.3 107.9h.8v.8h-.8zM186.1 136.1h.8v.8h-.8zM188.6 111.3h.8v.8h-.8zM181.7 109.2h.8v.8h-.8zM181.5 110.9h.8v.8h-.8zM186.9 121.9h.8v.8h-.8zM190.7 119.5h.8v.8h-.8zM188.6 120.0h.8v.8h-.8zM184.2 122.5h.8v.8h-.8zM191.1 108.9h.8v.8h-.8zM183.2 120.0h.8v.8h-.8zM180.9 119.8h.8v.8h-.8zM184.6 116.2h.8v.8h-.8zM190.3 115.3h.8v.8h-.8zM181.6 111.7h.8v.8h-.8zM186.4 117.2h.8v.8h-.8zM179.2 104.4h.8v.8h-.8zM180.2 108.3h.8v.8h-.8zM185.1 111.6h.8v.8h-.8zM178.4 113.7h.8v.8h-.8zM190.2 116.9h.8v.8h-.8zM177.2 111.1h.8v.8h-.8zM190.2 125.7h.8v.8h-.8zM186.7 115.0h.8v.8h-.8zM185.7 115.3h.8v.8h-.8zM184.7 112.0h.8v.8h-.8zM184.7 110.5h.8v.8h-.8zM183.2 126.3h.8v.8h-.8zM186.1 112.3h.8v.8h-.8zM183.4 124.7h.8v.8h-.8zM180.2 100.7h.8v.8h-.8zM182.5 125.0h.8v.8h-.8zM178.5 122.4h.8v.8h-.8zM186.7 124.8h.8v.8h-.8zM195.0 71.8h.8v.8h-.8zM198.9 84.0h.8v.8h-.8zM191.3 75.5h.8v.8h-.8zM196.5 93.8h.8v.8h-.8zM196.5 95.9h.8v.8h-.8zM201.5 105.8h.8v.8h-.8zM195.3 76.2h.8v.8h-.8zM193.8 95.8h.8v.8h-.8zM190.4 115.6h.8v.8h-.8zM195.5 79.8h.8v.8h-.8zM198.3 107.0h.8v.8h-.8zM200.2 82.1h.8v.8h-.8zM196.1 62.6h.8v.8h-.8zM191.3 78.6h.8v.8h-.8zM192.8 71.6h.8v.8h-.8zM196.6 94.4h.8v.8h-.8zM189.0 116.2h.8v.8h-.8zM191.4 89.1h.8v.8h-.8zM192.0 93.4h.8v.8h-.8zM188.3 81.3h.8v.8h-.8zM189.3 99.6h.8v.8h-.8zM194.4 87.3h.8v.8h-.8zM192.1 60.2h.8v.8h-.8zM196.6 94.5h.8v.8h-.8zM193.8 98.6h.8v.8h-.8zM189.3 58.8h.8v.8h-.8zM195.4 82.1h.8v.8h-.8zM190.4 88.0h.8v.8h-.8zM192.2 87.7h.8v.8h-.8zM191.0 67.8h.8v.8h-.8zM193.8 73.7h.8v.8h-.8zM187.6 98.1h.8v.8h-.8zM191.7 78.3h.8v.8h-.8zM190.2 86.7h.8v.8h-.8zM190.2 97.0h.8v.8h-.8zM192.3 82.1h.8v.8h-.8zM196.1 93.3h.8v.8h-.8zM192.3 90.2h.8v.8h-.8z"/>
<path fill="#bababa" d="M180.1 50.3h.8v.8h-.8zM178.2 35.0h.8v.8h-.8zM183.4 59.2h.8v.8h-.8zM193.7 47.2h.8v.8h-.8zM187.9 53.6h.8v.8h-.8zM184.3 55.5h.8v.8h-.8zM193.2 38.7h.8v.8h-.8zM189.6 44.6h.8v.8h-.8zM184.0 44.5h.8v.8h-.8zM182.2 54.0h.8v.8h-.8zM188.4 55.3h.8v.8h-.8zM184.0 33.8h.8v.8h-.8zM186.7 51.9h.8v.8h-.8zM182.1 51.1h.8v.8h-.8zM184.4 71.7h.8v.8h-.8zM181.9 29.0h.8v.8h-.8zM187.2 47.6h.8v.8h-.8zM187.4 41.4h.8v.8h-.8zM187.2 41.3h.8v.8h-.8zM180.3 38.6h.8v.8h-.8zM186.0 56.8h.8v.8h-.8zM183.5 47.3h.8v.8h-.8zM191.6 18.1h.8v.8h-.8zM184.8 50.9h.8v.8h-.8zM183.6 42.8h.8v.8h-.8zM184.8 53.0h.8v.8h-.8zM184.8 45.4h.8v.8h-.8zM189.1 52.3h.8v.8h-.8zM188.1 60.6h.8v.8h-.8zM177.6 58.3h.8v.8h-.8zM190.4 45.6h.8v.8h-.8zM180.6 58.3h.8v.8h-.8zM181.8 58.5h.8v.8h-.8zM187.8 47.4h.8v.8h-.8zM187.3 59.6h.8v.8h-.8zM186.5 53.3h.8v.8h-.8zM191.3 39.7h.8v.8h-.8zM191.4 51.3h.8v.8h-.8zM188.8 59.5h.8v.8h-.8zM191.2 64.9h.8v.8h-.8zM175.3 54.6h.8v.8h-.8zM185.2 55.5h.8v.8h-.8zM186.1 57.9h.8v.8h-.8zM179.5 50.3h.8v.8h-.8zM187.0 29.7h.8v.8h-.8zM191.4 48.2h.8v.8h-.8zM181.4 53.0h.8v.8h-.8zM191.2 46.7h.8v.8h-.8zM180.1 45.9h.8v.8h-.8zM190.4 26.7h.8v.8h-.8zM185.6 51.4h.8v.8h-.8zM186.9 36.5h.8v.8h-.8zM189.2 66.2h.8v.8h-.8zM188.5 36.8h.8v.8h-.8zM178.3 34.0h.8v.8h-.8zM194.7 59.6h.8v.8h-.8zM184.7 50.8h.8v.8h-.8zM181.1 39.9h.8v.8h-.8zM188.2 51.6h.8v.8h-.8zM181.9 34.7h.8v.8h-.8zM183.7 35.5h.8v.8h-.8zM182.9 52.5h.8v.8h-.8zM188.2 42.8h.8v.8h-.8zM179.5 38.8h.8v.8h-.8zM185.7 43.4h.8v.8h-.8zM196.9 37.2h.8v.8h-.8zM191.7 34.5h.8v.8h-.8zM179.4 51.0h.8v.8h-.8zM185.3 45.2h.8v.8h-.8zM177.7 33.2h.8v.8h-.8zM179.9 67.0h.8v.8h-.8zM182.1 52.8h.8v.8h-.8zM181.6 62.5h.8v.8h-.8zM185.7 57.7h.8v.8h-.8zM191.2 54.6h.8v.8h-.8zM183.1 60.8h.8v.8h-.8zM191.2 35.4h.8v.8h-.8zM183.3 45.8h.8v.8h-.8zM193.0 59.1h.8v.8h-.8zM192.9 32.2h.8v.8h-.8zM189.4 71.4h.8v.8h-.8zM192.0 51.2h.8v.8h-.8zM185.9 41.0h.8v.8h-.8zM187.4 37.2h.8v.8h-.8zM193.1 35.3h.8v.8h-.8zM189.1 61.2h.8v.8h-.8zM189.9 61.3h.8v.8h-.8zM178.1 41.6h.8v.8h-.8zM171.9 40.3h.8v.8h-.8zM183.2 55.3h.8v.8h-.8zM187.4 24.1h.8v.8h-.8zM178.6 61.0h.8v.8h-.8zM184.8 43.4h.8v.8h-.8zM191.2 51.2h.8v.8h-.8zM180.6 40.0h.8v.8h-.8zM194.0 33.3h.8v.8h-.8zM184.3 26.6h.8v.8h-.8zM190.1 36.8h.8v.8h-.8zM185.9 36.4h.8v.8h-.8zM187.0 58.4h.8v.8h-.8zM187.2 71.6h.8v.8h-.8zM181.7 54.4h.8v.8h-.8zM183.7 61.8h.8v.8h-.8zM188.6 34.0h.8v.8h-.8zM185.3 46.6h.8v.8h-.8zM186.8 65.1h.8v.8h-.8zM187.0 63.1h.8v.8h-.8zM184.5 29.1h.8v.8h-.8zM187.2 49.3h.8v.8h-.8zM192.6 53.8h.8v.8h-.8zM178.8 71.1h.8v.8h-.8zM180.3 51.3h.8v.8h-.8zM189.3 43.9h.8v.8h-.8zM185.9 47.6h.8v.8h-.8zM190.4 25.7h.8v.8h-.8zM188.3 44.7h.8v.8h-.8zM187.4 46.1h.8v.8h-.8zM190.6 57.3h.8v.8h-.8zM184.1 114.8h.8v.8h-.8zM189.3 111.0h.8v.8h-.8zM184.9 113.5h.8v.8h-.8zM182.4 96.8h.8v.8h-.8zM190.3 105.4h.8v.8h-.8zM175.5 123.1h.8v.8h-.8zM187.3 106.0h.8v.8h-.8zM189.1 115.1h.8v.8h-.8zM180.6 117.9h.8v.8h-.8zM187.2 123.2h.8v.8h-.8zM177.8 118.3h.8v.8h-.8zM173.2 124.0h.8v.8h-.8zM182.4 117.1h.8v.8h-.8zM192.1 119.4h.8v.8h-.8zM184.6 111.5h.8v.8h-.8zM188.7 114.2h.8v.8h-.8zM183.5 126.7h.8v.8h-.8zM186.9 106.7h.8v.8h-.8zM186.4 108.9h.8v.8h-.8zM178.8 113.2h.8v.8h-.8zM185.2 106.3h.8v.8h-.8zM180.8 110.7h.8v.8h-.8zM187.9 113.7h.8v.8h-.8zM183.7 114.8h.8v.8h-.8zM180.2 116.8h.8v.8h-.8zM180.7 121.7h.8v.8h-.8zM182.1 114.0h.8v.8h-.8zM178.5 117.1h.8v.8h-.8zM190.2 111.2h.8v.8h-.8zM187.4 129.4h.8v.8h-.8zM177.2 114.6h.8v.8h-.8zM187.8 113.6h.8v.8h-.8zM192.2 118.6h.8v.8h-.8zM188.5 119.0h.8v.8h-.8zM182.6 111.8h.8v.8h-.8zM184.2 101.9h.8v.8h-.8zM189.3 113.8h.8v.8h-.8zM181.7 116.4h.8v.8h-.8zM171.2 108.2h.8v.8h-.8zM182.1 112.9h.8v.8h-.8zM183.0 117.1h.8v.8h-.8zM184.1 114.8h.8v.8h-.8zM184.0 113.6h.8v.8h-.8zM187.9 118.5h.8v.8h-.8zM186.5 106.4h.8v.8h-.8zM187.0 115.0h.8v.8h-.8zM178.0 117.0h.8v.8h-.8zM181.6 118.3h.8v.8h-.8zM178.9 116.5h.8v.8h-.8zM185.4 106.6h.8v.8h-.8zM183.6 105.8h.8v.8h-.8zM187.0 125.6h.8v.8h-.8zM186.1 111.6h.8v.8h-.8zM180.2 119.6h.8v.8h-.8zM186.6 109.9h.8v.8h-.8zM184.5 100.4h.8v.8h-.8zM184.0 112.9h.8v.8h-.8zM183.9 117.0h.8v.8h-.8zM181.2 113.8h.8v.8h-.8zM186.1 114.7h.8v.8h-.8zM188.6 109.9h.8v.8h-.8zM196.8 78.9h.8v.8h-.8zM194.4 62.3h.8v.8h-.8zM189.9 93.0h.8v.8h-.8zM190.1 71.8h.8v.8h-.8zM192.8 73.9h.8v.8h-.8zM198.7 98.6h.8v.8h-.8zM189.8 69.7h.8v.8h-.8zM196.6 104.3h.8v.8h-.8zM194.7 86.6h.8v.8h-.8zM190.5 82.2h.8v.8h-.8zM194.4 49.9h.8v.8h-.8zM192.9 77.6h.8v.8h-.8zM194.8 81.5h.8v.8h-.8zM190.7 94.8h.8v.8h-.8zM189.3 81.9h.8v.8h-.8zM197.4 47.9h.8v.8h-.8zM192.1 63.7h.8v.8h-.8zM193.4 82.5h.8v.8h-.8zM189.1 76.2h.8v.8h-.8zM192.8 98.8h.8v.8h-.8zM199.4 88.8h.8v.8h-.8zM197.4 76.7h.8v.8h-.8zM187.6 90.9h.8v.8h-.8zM196.4 85.2h.8v.8h-.8zM196.6 85.2h.8v.8h-.8zM201.8 112.7h.8v.8h-.8zM189.7 112.7h.8v.8h-.8zM191.6 86.6h.8v.8h-.8zM196.0 74.3h.8v.8h-.8zM191.2 82.6h.8v.8h-.8z"/>
<path d="M177.9,72.0 C178.3,67.8 179.5,66.6 180.5,65.0 C181.5,63.4 182.8,62.3 184.0,62.5 C185.2,62.7 187.0,63.8 188.0,66.0 C189.0,68.2 189.5,72.7 189.8,76.0 C190.1,79.3 189.8,82.8 190.0,86.0 C190.2,89.2 191.5,92.6 191.2,95.0 C190.9,97.4 189.5,99.0 188.0,100.5 C186.5,102.0 183.6,103.3 182.0,104.0 C180.4,104.7 178.9,106.8 178.2,104.5 C177.5,102.2 177.9,95.4 177.9,90.0 C177.9,84.6 177.5,76.2 177.9,72.0 Z" fill="#fff" stroke="#444" stroke-width="0.75"/>
<path d="M180.3,78.0 C180.7,75.8 181.8,74.7 182.5,75.0 C183.2,75.3 184.3,77.8 184.5,80.0 C184.7,82.2 183.3,85.5 183.5,88.0 C183.7,90.5 185.6,93.0 185.5,95.0 C185.4,97.0 183.8,99.5 183.0,100.0 C182.2,100.5 181.0,100.0 180.5,98.0 C180.0,96.0 180.0,91.3 180.0,88.0 C180.0,84.7 179.9,80.2 180.3,78.0 Z" fill="none" stroke="#404040" stroke-width="0.6"/>
<clipPath id="bq1"><rect x="153.4" y="31.5" width="24.599999999999987" height="74.5"/></clipPath>
<clipPath id="rq1"><rect x="153.4" y="106" width="24.599999999999987" height="21"/></clipPath>
<g clip-path="url(#bq1)">
<ellipse cx="171.6" cy="86.0" rx="6.4" ry="23.0" transform="rotate(7 171.6 86.0)" fill="#bfc3f1" stroke="#5560cc" stroke-width="0.6"/>
<ellipse cx="171.7" cy="90.0" rx="5.6" ry="18.4" transform="rotate(7 171.7 90.0)" fill="#f0f1fd" stroke="#5560cc" stroke-width="0.6"/>
<ellipse cx="171.8" cy="93.6" rx="4.8" ry="14.3" transform="rotate(7 171.8 93.6)" fill="#cdd0f4" stroke="#5560cc" stroke-width="0.6"/>
<ellipse cx="171.8" cy="96.8" rx="4.2" ry="10.6" transform="rotate(7 171.8 96.8)" fill="#f6f6fe" stroke="#5560cc" stroke-width="0.6"/>
<ellipse cx="171.9" cy="99.6" rx="3.6" ry="7.4" transform="rotate(7 171.9 99.6)" fill="#d4d7f6" stroke="#5560cc" stroke-width="0.6"/>
<ellipse cx="171.9" cy="102.0" rx="3.1" ry="4.6" transform="rotate(7 171.9 102.0)" fill="#fbfbff" stroke="#5560cc" stroke-width="0.6"/>
</g>
<g clip-path="url(#rq1)">
<ellipse cx="171.4" cy="110.8" rx="5.5" ry="9.4" fill="#f7d8d4" stroke="#d05462" stroke-width="0.65"/>
<ellipse cx="171.4" cy="110.8" rx="4.3" ry="7.3" fill="#fcecec" stroke="#d05462" stroke-width="0.65"/>
<ellipse cx="171.4" cy="110.8" rx="3.1" ry="5.3" fill="#f8dcdc" stroke="#d05462" stroke-width="0.65"/>
<ellipse cx="171.4" cy="110.8" rx="2.0" ry="3.4" fill="#fff6f2" stroke="#d05462" stroke-width="0.65"/>
<ellipse cx="171.4" cy="110.8" rx="1.1" ry="1.9" fill="#fbe6c8" stroke="#d05462" stroke-width="0.65"/>
</g>
</g>
<line x1="177.6" y1="31.5" x2="177.6" y2="127" stroke="#4a4a4a" stroke-width="0.8"/>
<line x1="153.4" y1="106" x2="255.5" y2="106" stroke="#4a4a4a" stroke-width="0.8"/>
<text x="157.0" y="41.9" font-size="6.0" fill="#4646a8" font-weight="bold" textLength="7.9" lengthAdjust="spacingAndGlyphs" >G1</text>
<text x="157.0" y="48.4" font-size="4.6" fill="#5a5ac0" textLength="9.3" lengthAdjust="spacingAndGlyphs" >55%</text>
<text x="212.8" y="52.4" font-size="6.6" fill="#1a1a1a" textLength="22.0" lengthAdjust="spacingAndGlyphs" >S-G2-M</text>
<text x="225.0" y="59.4" font-size="4.7" fill="#222" textLength="13.0" lengthAdjust="spacingAndGlyphs" >35.5%</text>
<text x="154.6" y="123.9" font-size="6.3" fill="#b83444" textLength="7.8" lengthAdjust="spacingAndGlyphs" stroke="#b83444" stroke-width="0.25">G0</text>
<text x="188.9" y="122.9" font-size="4.7" fill="#c05060" textLength="11.9" lengthAdjust="spacingAndGlyphs" >12.5%</text>
<text x="172.4" y="131.9" font-size="2.9" fill="#333" font-weight="bold" text-anchor="middle" >50</text>
<text x="191.8" y="131.9" font-size="2.9" fill="#333" font-weight="bold" text-anchor="middle" >100</text>
<text x="211.2" y="131.9" font-size="2.9" fill="#333" font-weight="bold" text-anchor="middle" >150</text>
<text x="230.6" y="131.9" font-size="2.9" fill="#333" font-weight="bold" text-anchor="middle" >200</text>
<text x="250.0" y="131.9" font-size="2.9" fill="#333" font-weight="bold" text-anchor="middle" >250</text>
<rect x="150.5" y="105.4" width="1.2" height="2.2" fill="#555"/>
<rect x="150.5" y="88.2" width="1.2" height="2.2" fill="#555"/>
<rect x="150.5" y="71.0" width="1.2" height="2.2" fill="#555"/>
<rect x="150.5" y="53.8" width="1.2" height="2.2" fill="#555"/>
<rect x="150.5" y="36.6" width="1.2" height="2.2" fill="#555"/>
<text transform="translate(147.0,42.0) rotate(-90)" font-size="2.6" fill="#444" font-weight="bold">x 1,000</text>
<text x="245.1" y="134.6" font-size="2.6" fill="#444" font-weight="bold" textLength="10.8" lengthAdjust="spacingAndGlyphs" >x 1,000</text>
<rect x="278.4" y="28.4" width="106.60000000000002" height="100.79999999999998" fill="#fff" stroke="#9a9a9a" stroke-width="0.8"/>
<clipPath id="up2"><rect x="278.4" y="28.4" width="106.60000000000002" height="78.19999999999999"/></clipPath>
<clipPath id="dn2"><rect x="278.4" y="106.6" width="106.60000000000002" height="22.599999999999994"/></clipPath>
<clipPath id="pl2"><rect x="278.9" y="28.9" width="105.60000000000002" height="99.79999999999998"/></clipPath>
<g clip-path="url(#pl2)">
<path fill="#c8c8c8" d="M318.6 70.1h.8v.8h-.8zM307.4 104.0h.8v.8h-.8zM313.0 68.4h.8v.8h-.8zM315.6 100.1h.8v.8h-.8zM321.3 85.8h.8v.8h-.8zM314.3 68.5h.8v.8h-.8zM314.0 69.0h.8v.8h-.8zM317.2 95.6h.8v.8h-.8zM322.9 79.5h.8v.8h-.8zM320.3 94.6h.8v.8h-.8zM317.6 73.3h.8v.8h-.8zM313.5 68.9h.8v.8h-.8zM306.9 74.2h.8v.8h-.8zM305.4 76.5h.8v.8h-.8zM316.8 96.1h.8v.8h-.8zM317.1 66.2h.8v.8h-.8zM315.8 71.6h.8v.8h-.8zM306.4 75.7h.8v.8h-.8zM310.9 70.9h.8v.8h-.8zM306.7 72.7h.8v.8h-.8zM310.3 72.3h.8v.8h-.8zM315.1 70.1h.8v.8h-.8zM317.7 72.0h.8v.8h-.8zM304.8 106.2h.8v.8h-.8zM314.2 68.9h.8v.8h-.8zM302.0 110.0h.8v.8h-.8zM310.6 109.0h.8v.8h-.8zM317.0 71.5h.8v.8h-.8zM306.9 72.5h.8v.8h-.8zM317.1 100.8h.8v.8h-.8zM319.5 70.9h.8v.8h-.8zM321.7 76.1h.8v.8h-.8zM306.1 106.4h.8v.8h-.8zM316.5 71.7h.8v.8h-.8zM314.1 70.0h.8v.8h-.8zM316.0 70.4h.8v.8h-.8zM317.3 71.6h.8v.8h-.8zM315.3 70.6h.8v.8h-.8zM316.3 66.0h.8v.8h-.8zM323.9 85.7h.8v.8h-.8zM307.8 70.6h.8v.8h-.8zM304.3 109.9h.8v.8h-.8zM321.6 94.8h.8v.8h-.8zM306.5 75.0h.8v.8h-.8zM317.7 98.6h.8v.8h-.8zM315.8 98.9h.8v.8h-.8zM314.1 106.2h.8v.8h-.8zM318.1 93.5h.8v.8h-.8zM317.0 100.0h.8v.8h-.8zM317.4 79.7h.8v.8h-.8zM308.4 73.6h.8v.8h-.8zM304.3 73.8h.8v.8h-.8zM305.4 72.3h.8v.8h-.8zM322.9 88.8h.8v.8h-.8zM304.0 106.7h.8v.8h-.8zM318.3 81.7h.8v.8h-.8zM309.9 70.4h.8v.8h-.8zM320.2 97.4h.8v.8h-.8zM310.3 68.0h.8v.8h-.8zM312.9 101.3h.8v.8h-.8zM319.5 78.3h.8v.8h-.8zM310.9 105.1h.8v.8h-.8zM320.0 86.3h.8v.8h-.8zM325.1 92.5h.8v.8h-.8zM316.3 95.5h.8v.8h-.8zM316.9 66.5h.8v.8h-.8zM316.3 69.1h.8v.8h-.8zM322.6 86.8h.8v.8h-.8zM317.6 73.5h.8v.8h-.8zM319.1 87.9h.8v.8h-.8zM309.7 70.0h.8v.8h-.8zM320.0 73.3h.8v.8h-.8zM305.4 107.6h.8v.8h-.8zM315.8 72.3h.8v.8h-.8zM306.0 72.3h.8v.8h-.8zM318.1 88.3h.8v.8h-.8zM320.3 94.3h.8v.8h-.8zM306.6 106.1h.8v.8h-.8zM317.0 98.1h.8v.8h-.8zM310.9 104.9h.8v.8h-.8zM312.2 103.7h.8v.8h-.8zM315.5 98.2h.8v.8h-.8zM316.3 72.0h.8v.8h-.8zM311.3 70.9h.8v.8h-.8zM318.0 94.7h.8v.8h-.8zM319.6 73.2h.8v.8h-.8zM319.7 78.6h.8v.8h-.8zM320.3 86.6h.8v.8h-.8zM308.0 107.1h.8v.8h-.8zM305.7 108.8h.8v.8h-.8zM306.7 72.6h.8v.8h-.8zM324.9 74.7h.8v.8h-.8zM317.5 71.6h.8v.8h-.8zM307.7 72.5h.8v.8h-.8zM317.3 95.1h.8v.8h-.8zM320.8 82.8h.8v.8h-.8zM317.3 98.8h.8v.8h-.8zM311.6 70.8h.8v.8h-.8zM319.6 92.8h.8v.8h-.8zM310.0 69.7h.8v.8h-.8zM320.7 89.2h.8v.8h-.8zM311.6 69.3h.8v.8h-.8zM320.3 90.4h.8v.8h-.8zM313.9 69.2h.8v.8h-.8zM312.1 70.0h.8v.8h-.8zM320.4 92.9h.8v.8h-.8zM319.5 73.4h.8v.8h-.8zM314.4 99.4h.8v.8h-.8zM306.8 109.7h.8v.8h-.8zM310.5 105.5h.8v.8h-.8zM309.0 72.1h.8v.8h-.8zM309.5 72.0h.8v.8h-.8zM317.9 90.3h.8v.8h-.8zM317.2 95.2h.8v.8h-.8zM310.0 70.4h.8v.8h-.8zM310.3 104.6h.8v.8h-.8zM312.2 103.5h.8v.8h-.8zM314.6 66.1h.8v.8h-.8zM320.8 88.4h.8v.8h-.8zM314.1 67.7h.8v.8h-.8zM321.4 87.7h.8v.8h-.8zM305.5 108.6h.8v.8h-.8zM317.0 95.6h.8v.8h-.8zM311.0 69.5h.8v.8h-.8zM316.8 69.1h.8v.8h-.8zM318.1 71.7h.8v.8h-.8zM320.4 88.0h.8v.8h-.8zM320.2 89.7h.8v.8h-.8zM315.3 71.5h.8v.8h-.8zM304.3 109.7h.8v.8h-.8zM319.0 95.1h.8v.8h-.8zM305.9 73.7h.8v.8h-.8zM311.9 67.9h.8v.8h-.8zM318.5 95.8h.8v.8h-.8zM308.1 105.1h.8v.8h-.8zM314.4 68.9h.8v.8h-.8zM309.6 71.1h.8v.8h-.8zM309.6 103.4h.8v.8h-.8zM314.1 69.9h.8v.8h-.8zM316.8 70.8h.8v.8h-.8zM320.9 79.6h.8v.8h-.8zM316.0 96.1h.8v.8h-.8zM316.2 98.5h.8v.8h-.8zM307.5 105.9h.8v.8h-.8zM306.2 69.7h.8v.8h-.8zM322.2 82.3h.8v.8h-.8zM318.7 77.4h.8v.8h-.8zM314.0 66.4h.8v.8h-.8zM319.6 87.7h.8v.8h-.8zM311.7 103.3h.8v.8h-.8zM307.5 70.2h.8v.8h-.8zM315.9 99.0h.8v.8h-.8zM321.9 93.9h.8v.8h-.8zM319.4 80.0h.8v.8h-.8zM308.5 103.8h.8v.8h-.8zM308.3 70.8h.8v.8h-.8zM308.9 73.4h.8v.8h-.8zM306.8 74.9h.8v.8h-.8zM309.5 107.5h.8v.8h-.8zM325.8 85.6h.8v.8h-.8zM310.8 103.2h.8v.8h-.8zM317.2 94.6h.8v.8h-.8zM319.0 82.4h.8v.8h-.8zM304.8 106.1h.8v.8h-.8zM315.7 71.0h.8v.8h-.8zM316.1 95.5h.8v.8h-.8zM318.9 83.8h.8v.8h-.8zM316.1 72.6h.8v.8h-.8zM304.4 73.8h.8v.8h-.8zM318.7 80.5h.8v.8h-.8zM320.7 90.0h.8v.8h-.8zM323.9 83.3h.8v.8h-.8zM303.9 72.6h.8v.8h-.8zM318.0 91.0h.8v.8h-.8zM318.8 84.7h.8v.8h-.8zM306.0 74.7h.8v.8h-.8zM313.6 63.6h.8v.8h-.8zM310.2 103.2h.8v.8h-.8zM321.7 78.1h.8v.8h-.8zM307.0 69.2h.8v.8h-.8zM319.6 94.5h.8v.8h-.8zM316.4 72.7h.8v.8h-.8zM304.5 74.2h.8v.8h-.8zM319.0 91.5h.8v.8h-.8zM316.5 68.5h.8v.8h-.8zM315.0 100.2h.8v.8h-.8zM310.1 71.9h.8v.8h-.8zM321.4 97.9h.8v.8h-.8zM321.6 97.3h.8v.8h-.8zM320.1 74.7h.8v.8h-.8zM309.0 105.3h.8v.8h-.8zM317.9 78.0h.8v.8h-.8zM319.8 88.6h.8v.8h-.8zM317.4 75.0h.8v.8h-.8zM314.9 105.4h.8v.8h-.8zM306.0 52.7h.8v.8h-.8zM308.7 61.2h.8v.8h-.8zM310.3 42.7h.8v.8h-.8zM321.0 43.4h.8v.8h-.8zM312.3 70.5h.8v.8h-.8zM320.6 47.1h.8v.8h-.8zM319.0 31.0h.8v.8h-.8zM316.5 61.2h.8v.8h-.8zM302.4 29.2h.8v.8h-.8zM298.3 42.9h.8v.8h-.8zM315.7 56.0h.8v.8h-.8zM318.6 43.1h.8v.8h-.8zM313.0 61.6h.8v.8h-.8zM307.0 51.6h.8v.8h-.8zM309.5 66.7h.8v.8h-.8zM306.3 55.2h.8v.8h-.8zM312.9 52.7h.8v.8h-.8zM314.4 52.1h.8v.8h-.8zM309.8 50.3h.8v.8h-.8zM308.2 40.0h.8v.8h-.8zM312.4 52.4h.8v.8h-.8zM309.9 44.6h.8v.8h-.8zM319.3 60.1h.8v.8h-.8zM310.3 47.9h.8v.8h-.8zM321.9 64.9h.8v.8h-.8zM312.9 47.5h.8v.8h-.8zM314.7 52.1h.8v.8h-.8zM311.7 61.0h.8v.8h-.8zM307.5 54.4h.8v.8h-.8zM296.9 48.4h.8v.8h-.8zM317.5 44.8h.8v.8h-.8zM311.2 55.0h.8v.8h-.8zM307.2 48.5h.8v.8h-.8zM309.1 61.1h.8v.8h-.8zM314.0 64.7h.8v.8h-.8zM311.1 55.9h.8v.8h-.8zM311.7 60.9h.8v.8h-.8zM317.9 62.7h.8v.8h-.8zM306.0 41.5h.8v.8h-.8zM312.6 56.9h.8v.8h-.8zM308.8 36.0h.8v.8h-.8zM317.9 62.1h.8v.8h-.8zM307.9 58.5h.8v.8h-.8zM316.7 56.5h.8v.8h-.8zM321.9 53.6h.8v.8h-.8zM310.4 48.3h.8v.8h-.8zM314.2 70.9h.8v.8h-.8zM309.0 61.8h.8v.8h-.8zM308.3 34.4h.8v.8h-.8zM311.4 48.4h.8v.8h-.8zM307.2 51.1h.8v.8h-.8zM318.5 61.1h.8v.8h-.8zM307.4 44.9h.8v.8h-.8zM301.5 65.1h.8v.8h-.8zM307.9 52.8h.8v.8h-.8zM314.3 65.0h.8v.8h-.8zM308.4 52.3h.8v.8h-.8zM314.5 53.8h.8v.8h-.8zM307.0 67.0h.8v.8h-.8zM314.0 55.7h.8v.8h-.8zM312.5 51.6h.8v.8h-.8zM307.6 50.4h.8v.8h-.8zM315.2 61.4h.8v.8h-.8zM316.8 54.4h.8v.8h-.8zM309.6 76.1h.8v.8h-.8zM312.1 67.0h.8v.8h-.8zM315.7 57.7h.8v.8h-.8zM310.8 60.0h.8v.8h-.8zM310.8 52.0h.8v.8h-.8zM314.7 21.7h.8v.8h-.8zM317.9 53.1h.8v.8h-.8zM307.7 58.1h.8v.8h-.8zM307.1 27.4h.8v.8h-.8zM313.3 59.8h.8v.8h-.8zM310.1 47.2h.8v.8h-.8zM310.4 75.0h.8v.8h-.8zM315.5 63.9h.8v.8h-.8zM316.8 48.7h.8v.8h-.8zM311.5 63.5h.8v.8h-.8zM302.0 61.9h.8v.8h-.8zM310.2 28.7h.8v.8h-.8zM315.0 46.4h.8v.8h-.8zM316.8 36.9h.8v.8h-.8zM313.6 60.9h.8v.8h-.8zM309.1 64.8h.8v.8h-.8zM316.1 32.6h.8v.8h-.8zM309.8 59.6h.8v.8h-.8zM322.6 45.6h.8v.8h-.8zM308.8 46.4h.8v.8h-.8zM301.5 56.3h.8v.8h-.8zM314.1 34.9h.8v.8h-.8zM309.0 56.4h.8v.8h-.8zM316.1 58.1h.8v.8h-.8zM319.1 50.7h.8v.8h-.8zM308.0 57.1h.8v.8h-.8zM308.2 62.2h.8v.8h-.8zM302.6 54.0h.8v.8h-.8zM307.8 43.1h.8v.8h-.8zM320.6 58.8h.8v.8h-.8zM310.7 59.3h.8v.8h-.8zM309.4 70.0h.8v.8h-.8zM315.8 51.6h.8v.8h-.8zM307.7 57.4h.8v.8h-.8zM302.2 47.4h.8v.8h-.8zM315.2 35.8h.8v.8h-.8zM317.9 46.3h.8v.8h-.8zM306.9 56.6h.8v.8h-.8zM312.2 36.6h.8v.8h-.8zM307.0 58.4h.8v.8h-.8zM302.4 127.2h.8v.8h-.8zM317.4 113.9h.8v.8h-.8zM310.8 115.1h.8v.8h-.8zM302.8 127.2h.8v.8h-.8zM311.1 113.9h.8v.8h-.8zM321.3 123.0h.8v.8h-.8zM310.3 117.1h.8v.8h-.8zM310.1 114.9h.8v.8h-.8zM298.7 107.3h.8v.8h-.8zM307.2 118.4h.8v.8h-.8zM311.8 117.9h.8v.8h-.8zM302.7 119.5h.8v.8h-.8zM311.3 118.6h.8v.8h-.8zM310.4 110.8h.8v.8h-.8zM306.9 109.0h.8v.8h-.8zM315.7 114.9h.8v.8h-.8zM306.6 117.6h.8v.8h-.8zM307.6 121.0h.8v.8h-.8zM295.3 106.3h.8v.8h-.8zM300.1 106.6h.8v.8h-.8zM308.2 115.1h.8v.8h-.8zM312.4 120.8h.8v.8h-.8zM308.2 113.6h.8v.8h-.8zM308.7 117.4h.8v.8h-.8zM301.9 124.3h.8v.8h-.8zM315.6 112.6h.8v.8h-.8zM309.9 110.2h.8v.8h-.8zM316.8 106.2h.8v.8h-.8zM310.2 109.0h.8v.8h-.8zM308.3 109.4h.8v.8h-.8zM309.4 110.4h.8v.8h-.8zM310.8 121.7h.8v.8h-.8zM310.3 110.7h.8v.8h-.8zM312.4 119.0h.8v.8h-.8zM304.6 119.0h.8v.8h-.8zM307.0 110.7h.8v.8h-.8zM322.0 118.9h.8v.8h-.8zM306.6 105.1h.8v.8h-.8zM307.0 114.8h.8v.8h-.8zM311.9 113.7h.8v.8h-.8zM312.2 121.1h.8v.8h-.8zM306.7 117.7h.8v.8h-.8zM313.5 111.4h.8v.8h-.8zM305.6 113.5h.8v.8h-.8zM312.4 122.6h.8v.8h-.8zM307.3 108.6h.8v.8h-.8zM310.5 116.5h.8v.8h-.8zM311.7 119.6h.8v.8h-.8zM304.8 126.4h.8v.8h-.8zM315.3 111.3h.8v.8h-.8zM302.9 109.5h.8v.8h-.8zM307.1 96.5h.8v.8h-.8zM297.4 120.7h.8v.8h-.8zM311.3 122.4h.8v.8h-.8zM302.9 115.3h.8v.8h-.8zM312.2 106.8h.8v.8h-.8zM301.1 123.4h.8v.8h-.8zM299.7 102.6h.8v.8h-.8zM315.3 115.5h.8v.8h-.8zM320.2 63.6h.8v.8h-.8zM319.4 77.3h.8v.8h-.8zM322.9 58.6h.8v.8h-.8zM319.8 106.0h.8v.8h-.8zM324.7 73.2h.8v.8h-.8zM319.9 104.5h.8v.8h-.8zM316.0 99.7h.8v.8h-.8zM319.1 56.9h.8v.8h-.8zM317.9 93.0h.8v.8h-.8zM321.4 80.9h.8v.8h-.8zM321.1 73.6h.8v.8h-.8zM321.3 97.9h.8v.8h-.8zM318.5 85.9h.8v.8h-.8zM324.2 86.6h.8v.8h-.8zM318.5 82.0h.8v.8h-.8zM323.9 85.5h.8v.8h-.8zM319.5 86.8h.8v.8h-.8zM326.2 102.8h.8v.8h-.8zM317.0 94.2h.8v.8h-.8zM318.8 81.6h.8v.8h-.8zM317.3 55.4h.8v.8h-.8zM324.1 65.3h.8v.8h-.8zM324.8 85.6h.8v.8h-.8zM319.5 80.5h.8v.8h-.8zM319.1 102.8h.8v.8h-.8zM319.9 86.8h.8v.8h-.8zM320.5 60.4h.8v.8h-.8zM318.5 94.8h.8v.8h-.8zM325.5 75.6h.8v.8h-.8zM322.3 104.7h.8v.8h-.8zM322.7 89.9h.8v.8h-.8zM327.4 99.5h.8v.8h-.8z"/>
<path fill="#a8a8a8" d="M311.9 101.5h.8v.8h-.8zM313.5 65.0h.8v.8h-.8zM315.5 102.1h.8v.8h-.8zM315.7 96.5h.8v.8h-.8zM312.6 68.4h.8v.8h-.8zM318.9 91.8h.8v.8h-.8zM308.7 72.2h.8v.8h-.8zM321.0 82.4h.8v.8h-.8zM318.0 80.8h.8v.8h-.8zM318.7 97.4h.8v.8h-.8zM307.8 103.8h.8v.8h-.8zM304.3 109.0h.8v.8h-.8zM315.3 71.3h.8v.8h-.8zM312.4 65.6h.8v.8h-.8zM312.6 68.1h.8v.8h-.8zM310.9 103.9h.8v.8h-.8zM308.1 68.9h.8v.8h-.8zM315.3 98.4h.8v.8h-.8zM319.2 91.7h.8v.8h-.8zM304.5 71.7h.8v.8h-.8zM314.0 102.9h.8v.8h-.8zM322.4 97.0h.8v.8h-.8zM306.9 74.0h.8v.8h-.8zM305.4 75.9h.8v.8h-.8zM319.7 84.6h.8v.8h-.8zM318.6 98.5h.8v.8h-.8zM309.2 107.2h.8v.8h-.8zM309.0 104.7h.8v.8h-.8zM318.8 94.7h.8v.8h-.8zM316.9 66.5h.8v.8h-.8zM321.1 93.5h.8v.8h-.8zM306.5 70.6h.8v.8h-.8zM307.7 74.9h.8v.8h-.8zM309.4 70.8h.8v.8h-.8zM321.4 91.5h.8v.8h-.8zM319.0 77.0h.8v.8h-.8zM313.0 66.4h.8v.8h-.8zM320.0 93.6h.8v.8h-.8zM317.1 73.2h.8v.8h-.8zM318.0 71.6h.8v.8h-.8zM314.3 69.5h.8v.8h-.8zM312.7 101.8h.8v.8h-.8zM305.9 104.4h.8v.8h-.8zM311.9 71.6h.8v.8h-.8zM312.3 66.9h.8v.8h-.8zM307.8 72.9h.8v.8h-.8zM318.2 78.8h.8v.8h-.8zM307.6 105.0h.8v.8h-.8zM313.0 66.8h.8v.8h-.8zM323.3 92.8h.8v.8h-.8zM316.1 97.1h.8v.8h-.8zM305.4 107.9h.8v.8h-.8zM317.6 83.2h.8v.8h-.8zM307.8 112.1h.8v.8h-.8zM308.7 74.2h.8v.8h-.8zM318.0 92.9h.8v.8h-.8zM314.4 67.8h.8v.8h-.8zM318.1 71.1h.8v.8h-.8zM311.9 102.0h.8v.8h-.8zM304.3 106.4h.8v.8h-.8zM314.4 68.3h.8v.8h-.8zM303.9 108.7h.8v.8h-.8zM315.9 100.9h.8v.8h-.8zM316.7 94.4h.8v.8h-.8zM321.1 92.5h.8v.8h-.8zM305.1 106.1h.8v.8h-.8zM307.7 104.4h.8v.8h-.8zM323.3 83.2h.8v.8h-.8zM308.0 73.2h.8v.8h-.8zM315.8 64.8h.8v.8h-.8zM319.7 87.1h.8v.8h-.8zM319.1 74.7h.8v.8h-.8zM315.0 63.1h.8v.8h-.8zM319.0 84.3h.8v.8h-.8zM315.6 69.9h.8v.8h-.8zM311.0 72.0h.8v.8h-.8zM316.6 99.3h.8v.8h-.8zM319.3 77.7h.8v.8h-.8zM305.9 107.3h.8v.8h-.8zM315.6 70.4h.8v.8h-.8zM316.1 72.1h.8v.8h-.8zM312.8 101.6h.8v.8h-.8zM316.2 70.8h.8v.8h-.8zM313.2 100.4h.8v.8h-.8zM303.8 108.8h.8v.8h-.8zM317.4 72.2h.8v.8h-.8zM315.1 104.9h.8v.8h-.8zM319.7 86.8h.8v.8h-.8zM306.8 71.5h.8v.8h-.8zM319.8 76.9h.8v.8h-.8zM317.4 76.6h.8v.8h-.8zM323.4 92.0h.8v.8h-.8zM318.3 94.2h.8v.8h-.8zM304.4 107.6h.8v.8h-.8zM304.8 110.7h.8v.8h-.8zM314.1 101.4h.8v.8h-.8zM315.0 104.0h.8v.8h-.8zM319.3 89.2h.8v.8h-.8zM318.1 91.2h.8v.8h-.8zM316.5 69.1h.8v.8h-.8zM318.6 80.7h.8v.8h-.8zM311.8 69.7h.8v.8h-.8zM315.8 98.2h.8v.8h-.8zM316.4 68.7h.8v.8h-.8zM318.6 91.3h.8v.8h-.8zM308.3 105.9h.8v.8h-.8zM315.8 97.1h.8v.8h-.8zM318.7 86.2h.8v.8h-.8zM303.4 71.4h.8v.8h-.8zM317.7 76.8h.8v.8h-.8zM316.2 71.4h.8v.8h-.8zM308.1 68.9h.8v.8h-.8zM321.5 83.2h.8v.8h-.8zM314.8 69.5h.8v.8h-.8zM307.3 72.7h.8v.8h-.8zM305.1 73.5h.8v.8h-.8zM307.0 74.3h.8v.8h-.8zM315.9 70.7h.8v.8h-.8zM313.1 101.1h.8v.8h-.8zM312.7 65.3h.8v.8h-.8zM307.6 105.4h.8v.8h-.8zM307.9 74.2h.8v.8h-.8zM321.6 92.4h.8v.8h-.8zM313.2 101.0h.8v.8h-.8zM319.7 80.8h.8v.8h-.8zM309.1 108.7h.8v.8h-.8zM317.5 75.7h.8v.8h-.8zM319.3 102.3h.8v.8h-.8zM309.2 103.5h.8v.8h-.8zM312.2 71.0h.8v.8h-.8zM320.9 83.9h.8v.8h-.8zM318.8 100.6h.8v.8h-.8zM312.8 69.2h.8v.8h-.8zM320.6 91.4h.8v.8h-.8zM307.5 73.5h.8v.8h-.8zM316.3 76.6h.8v.8h-.8zM313.9 99.9h.8v.8h-.8zM322.3 84.6h.8v.8h-.8zM306.4 104.9h.8v.8h-.8zM319.8 94.3h.8v.8h-.8zM318.3 75.3h.8v.8h-.8zM313.8 99.8h.8v.8h-.8zM309.7 103.7h.8v.8h-.8zM317.8 72.9h.8v.8h-.8zM310.4 103.9h.8v.8h-.8zM308.1 67.4h.8v.8h-.8zM307.3 73.1h.8v.8h-.8zM315.3 69.8h.8v.8h-.8zM316.6 66.6h.8v.8h-.8zM306.8 74.4h.8v.8h-.8zM312.4 68.2h.8v.8h-.8zM319.6 91.2h.8v.8h-.8zM306.8 73.1h.8v.8h-.8zM305.8 107.1h.8v.8h-.8zM315.0 98.8h.8v.8h-.8zM311.6 69.1h.8v.8h-.8zM305.3 76.5h.8v.8h-.8zM318.6 93.1h.8v.8h-.8zM316.6 71.2h.8v.8h-.8zM320.3 96.1h.8v.8h-.8zM319.4 78.4h.8v.8h-.8zM318.2 86.5h.8v.8h-.8zM318.1 93.3h.8v.8h-.8zM318.2 92.5h.8v.8h-.8zM306.4 105.0h.8v.8h-.8zM309.7 70.5h.8v.8h-.8zM309.4 68.5h.8v.8h-.8zM312.6 103.8h.8v.8h-.8zM318.6 93.8h.8v.8h-.8zM311.7 69.5h.8v.8h-.8zM316.5 67.4h.8v.8h-.8zM320.0 85.6h.8v.8h-.8zM317.4 96.1h.8v.8h-.8zM318.6 84.2h.8v.8h-.8zM310.8 69.2h.8v.8h-.8zM318.3 72.1h.8v.8h-.8zM311.5 67.7h.8v.8h-.8zM317.6 72.5h.8v.8h-.8zM312.5 99.7h.8v.8h-.8zM319.2 69.4h.8v.8h-.8zM311.6 68.8h.8v.8h-.8zM307.5 73.7h.8v.8h-.8zM316.5 71.9h.8v.8h-.8zM319.0 96.6h.8v.8h-.8zM312.7 67.6h.8v.8h-.8zM316.9 71.7h.8v.8h-.8zM317.9 82.9h.8v.8h-.8zM318.5 92.2h.8v.8h-.8zM316.8 69.9h.8v.8h-.8zM316.3 97.9h.8v.8h-.8zM307.0 70.5h.8v.8h-.8zM320.3 75.6h.8v.8h-.8zM314.2 102.8h.8v.8h-.8zM316.7 67.0h.8v.8h-.8zM304.1 75.0h.8v.8h-.8zM316.7 74.6h.8v.8h-.8zM317.7 96.0h.8v.8h-.8zM320.0 104.0h.8v.8h-.8zM321.1 92.6h.8v.8h-.8zM318.0 80.0h.8v.8h-.8zM308.0 104.3h.8v.8h-.8zM314.3 67.1h.8v.8h-.8zM310.4 69.6h.8v.8h-.8zM310.1 107.4h.8v.8h-.8zM309.6 71.0h.8v.8h-.8zM311.1 70.1h.8v.8h-.8zM306.8 72.5h.8v.8h-.8zM303.8 72.1h.8v.8h-.8zM311.2 68.3h.8v.8h-.8zM308.8 104.0h.8v.8h-.8zM312.3 67.7h.8v.8h-.8zM311.6 101.2h.8v.8h-.8zM318.0 70.9h.8v.8h-.8zM316.9 101.1h.8v.8h-.8zM310.5 68.8h.8v.8h-.8zM313.7 68.6h.8v.8h-.8zM306.5 107.7h.8v.8h-.8zM319.6 88.9h.8v.8h-.8z"/>
<path fill="#b8b8b8" d="M307.4 106.0h.8v.8h-.8zM320.1 99.2h.8v.8h-.8zM311.8 68.9h.8v.8h-.8zM312.8 71.3h.8v.8h-.8zM316.6 68.7h.8v.8h-.8zM309.8 105.3h.8v.8h-.8zM305.0 70.5h.8v.8h-.8zM320.0 87.3h.8v.8h-.8zM318.1 83.3h.8v.8h-.8zM305.3 106.7h.8v.8h-.8zM305.1 107.0h.8v.8h-.8zM310.9 71.1h.8v.8h-.8zM305.5 73.8h.8v.8h-.8zM305.9 108.6h.8v.8h-.8zM317.9 72.1h.8v.8h-.8zM321.7 75.8h.8v.8h-.8zM315.4 68.5h.8v.8h-.8zM321.6 95.2h.8v.8h-.8zM314.5 65.8h.8v.8h-.8zM312.5 102.9h.8v.8h-.8zM309.7 68.9h.8v.8h-.8zM317.1 96.3h.8v.8h-.8zM317.3 100.0h.8v.8h-.8zM312.5 104.8h.8v.8h-.8zM312.6 70.1h.8v.8h-.8zM315.0 68.1h.8v.8h-.8zM308.2 71.1h.8v.8h-.8zM305.9 76.1h.8v.8h-.8zM315.2 69.3h.8v.8h-.8zM322.0 98.1h.8v.8h-.8zM315.3 68.9h.8v.8h-.8zM309.7 103.4h.8v.8h-.8zM308.3 108.9h.8v.8h-.8zM320.8 90.7h.8v.8h-.8zM312.6 67.4h.8v.8h-.8zM307.0 105.5h.8v.8h-.8zM308.6 103.5h.8v.8h-.8zM320.5 81.2h.8v.8h-.8zM320.5 92.2h.8v.8h-.8zM309.1 70.9h.8v.8h-.8zM320.1 91.6h.8v.8h-.8zM304.9 105.2h.8v.8h-.8zM314.3 68.9h.8v.8h-.8zM308.3 69.6h.8v.8h-.8zM317.8 90.5h.8v.8h-.8zM309.4 102.3h.8v.8h-.8zM316.6 72.1h.8v.8h-.8zM313.8 101.1h.8v.8h-.8zM319.2 72.7h.8v.8h-.8zM309.1 72.6h.8v.8h-.8zM311.8 70.6h.8v.8h-.8zM313.8 97.7h.8v.8h-.8zM313.6 99.7h.8v.8h-.8zM306.1 71.7h.8v.8h-.8zM317.8 75.0h.8v.8h-.8zM320.7 85.5h.8v.8h-.8zM312.6 69.3h.8v.8h-.8zM319.2 74.3h.8v.8h-.8zM313.7 65.8h.8v.8h-.8zM317.2 76.8h.8v.8h-.8zM313.9 65.5h.8v.8h-.8zM308.0 104.5h.8v.8h-.8zM312.1 68.8h.8v.8h-.8zM308.1 71.4h.8v.8h-.8zM315.4 66.7h.8v.8h-.8zM320.1 89.6h.8v.8h-.8zM305.3 74.2h.8v.8h-.8zM322.2 97.7h.8v.8h-.8zM308.2 75.0h.8v.8h-.8zM302.5 72.8h.8v.8h-.8zM307.9 74.0h.8v.8h-.8zM306.0 105.4h.8v.8h-.8zM307.3 66.7h.8v.8h-.8zM316.7 95.5h.8v.8h-.8zM308.2 70.9h.8v.8h-.8zM305.0 106.0h.8v.8h-.8zM319.2 97.4h.8v.8h-.8zM319.7 76.1h.8v.8h-.8zM314.5 69.8h.8v.8h-.8zM313.0 67.5h.8v.8h-.8zM317.0 71.5h.8v.8h-.8zM313.1 100.7h.8v.8h-.8zM318.4 89.9h.8v.8h-.8zM318.1 76.1h.8v.8h-.8zM309.0 111.6h.8v.8h-.8zM319.1 79.7h.8v.8h-.8zM318.2 88.9h.8v.8h-.8zM313.1 67.0h.8v.8h-.8zM305.9 108.3h.8v.8h-.8zM310.6 72.1h.8v.8h-.8zM308.3 106.7h.8v.8h-.8zM318.8 88.8h.8v.8h-.8zM309.3 107.7h.8v.8h-.8zM318.0 71.3h.8v.8h-.8zM313.6 65.2h.8v.8h-.8zM305.9 105.5h.8v.8h-.8zM318.9 94.5h.8v.8h-.8zM318.6 92.7h.8v.8h-.8zM303.8 74.7h.8v.8h-.8zM309.9 104.7h.8v.8h-.8zM305.5 106.9h.8v.8h-.8zM323.0 97.2h.8v.8h-.8zM317.5 80.2h.8v.8h-.8zM311.5 102.8h.8v.8h-.8zM314.1 64.8h.8v.8h-.8zM308.3 106.0h.8v.8h-.8zM306.5 69.4h.8v.8h-.8zM304.5 107.6h.8v.8h-.8zM312.0 69.3h.8v.8h-.8zM317.8 70.9h.8v.8h-.8zM314.6 97.5h.8v.8h-.8zM320.4 80.2h.8v.8h-.8zM317.3 68.5h.8v.8h-.8zM312.2 69.5h.8v.8h-.8zM317.2 73.0h.8v.8h-.8zM314.2 98.7h.8v.8h-.8zM305.7 104.9h.8v.8h-.8zM319.4 83.5h.8v.8h-.8zM311.1 68.6h.8v.8h-.8zM304.4 71.4h.8v.8h-.8zM312.0 66.7h.8v.8h-.8zM322.0 88.2h.8v.8h-.8zM321.9 82.6h.8v.8h-.8zM315.8 96.8h.8v.8h-.8zM304.6 108.7h.8v.8h-.8zM317.3 77.6h.8v.8h-.8zM314.0 70.2h.8v.8h-.8zM311.5 100.7h.8v.8h-.8zM311.2 67.6h.8v.8h-.8zM314.1 69.2h.8v.8h-.8zM314.4 98.0h.8v.8h-.8zM317.1 99.4h.8v.8h-.8zM317.5 97.9h.8v.8h-.8zM310.5 69.7h.8v.8h-.8zM307.3 106.9h.8v.8h-.8zM311.5 70.5h.8v.8h-.8zM318.3 70.5h.8v.8h-.8zM306.4 107.1h.8v.8h-.8zM318.5 93.4h.8v.8h-.8zM318.4 81.3h.8v.8h-.8zM324.1 84.3h.8v.8h-.8zM319.4 94.9h.8v.8h-.8zM321.1 84.3h.8v.8h-.8zM318.0 75.6h.8v.8h-.8zM312.0 67.3h.8v.8h-.8zM312.9 98.9h.8v.8h-.8zM311.4 104.5h.8v.8h-.8zM308.9 105.1h.8v.8h-.8zM303.7 77.2h.8v.8h-.8zM306.6 106.6h.8v.8h-.8zM304.0 106.9h.8v.8h-.8zM317.0 69.6h.8v.8h-.8zM320.0 77.1h.8v.8h-.8zM313.7 68.7h.8v.8h-.8zM321.9 99.9h.8v.8h-.8zM318.0 72.1h.8v.8h-.8zM305.7 107.9h.8v.8h-.8zM312.5 69.0h.8v.8h-.8zM304.0 72.2h.8v.8h-.8zM306.6 106.0h.8v.8h-.8zM320.2 93.5h.8v.8h-.8zM304.0 110.3h.8v.8h-.8zM317.2 95.9h.8v.8h-.8zM305.7 73.9h.8v.8h-.8zM318.5 91.4h.8v.8h-.8zM318.7 80.7h.8v.8h-.8zM317.8 75.0h.8v.8h-.8zM312.2 68.8h.8v.8h-.8zM316.2 100.3h.8v.8h-.8zM315.5 68.0h.8v.8h-.8zM311.3 67.4h.8v.8h-.8zM315.9 70.3h.8v.8h-.8zM321.0 92.5h.8v.8h-.8zM312.6 101.3h.8v.8h-.8zM305.9 73.8h.8v.8h-.8zM316.2 71.6h.8v.8h-.8zM325.7 77.7h.8v.8h-.8zM315.4 99.1h.8v.8h-.8zM323.8 91.1h.8v.8h-.8zM317.7 103.3h.8v.8h-.8zM318.2 72.8h.8v.8h-.8zM315.4 69.1h.8v.8h-.8zM316.1 68.3h.8v.8h-.8zM305.7 74.0h.8v.8h-.8zM321.6 75.7h.8v.8h-.8zM316.8 70.6h.8v.8h-.8zM318.1 69.8h.8v.8h-.8zM316.2 69.6h.8v.8h-.8zM315.5 99.3h.8v.8h-.8zM318.4 88.7h.8v.8h-.8zM317.6 78.5h.8v.8h-.8zM318.6 99.8h.8v.8h-.8zM309.9 105.3h.8v.8h-.8zM319.0 74.4h.8v.8h-.8zM306.6 106.3h.8v.8h-.8zM316.4 71.2h.8v.8h-.8zM319.6 95.0h.8v.8h-.8zM323.6 90.6h.8v.8h-.8zM315.0 98.0h.8v.8h-.8zM317.5 68.5h.8v.8h-.8zM319.2 90.2h.8v.8h-.8zM304.9 104.8h.8v.8h-.8zM305.9 106.9h.8v.8h-.8zM317.4 101.4h.8v.8h-.8zM317.7 74.6h.8v.8h-.8zM319.9 88.3h.8v.8h-.8zM313.8 100.1h.8v.8h-.8zM312.3 102.6h.8v.8h-.8zM314.8 100.1h.8v.8h-.8zM320.4 82.7h.8v.8h-.8zM304.5 74.4h.8v.8h-.8zM310.8 102.7h.8v.8h-.8z"/>
<path fill="#d4d4d4" d="M302.5 52.6h.8v.8h-.8zM317.3 54.4h.8v.8h-.8zM312.3 70.8h.8v.8h-.8zM313.9 48.9h.8v.8h-.8zM310.3 55.5h.8v.8h-.8zM307.4 60.2h.8v.8h-.8zM320.4 65.5h.8v.8h-.8zM313.2 71.0h.8v.8h-.8zM309.5 62.9h.8v.8h-.8zM301.7 48.2h.8v.8h-.8zM300.4 38.9h.8v.8h-.8zM308.6 51.2h.8v.8h-.8zM316.3 56.9h.8v.8h-.8zM314.0 61.4h.8v.8h-.8zM308.7 66.7h.8v.8h-.8zM315.9 58.8h.8v.8h-.8zM297.6 69.3h.8v.8h-.8zM312.5 65.1h.8v.8h-.8zM307.8 60.2h.8v.8h-.8zM306.9 57.7h.8v.8h-.8zM311.3 60.1h.8v.8h-.8zM317.0 53.2h.8v.8h-.8zM305.0 60.0h.8v.8h-.8zM299.8 67.2h.8v.8h-.8zM310.9 46.2h.8v.8h-.8zM312.7 53.6h.8v.8h-.8zM316.5 61.3h.8v.8h-.8zM307.5 69.2h.8v.8h-.8zM311.3 50.4h.8v.8h-.8zM315.2 60.3h.8v.8h-.8zM318.3 50.9h.8v.8h-.8zM315.4 61.2h.8v.8h-.8zM309.3 49.9h.8v.8h-.8zM314.2 55.9h.8v.8h-.8zM307.4 51.4h.8v.8h-.8zM308.1 60.6h.8v.8h-.8zM310.5 47.8h.8v.8h-.8zM310.9 66.5h.8v.8h-.8zM311.7 54.9h.8v.8h-.8zM321.7 60.2h.8v.8h-.8zM316.1 53.0h.8v.8h-.8zM322.8 52.3h.8v.8h-.8zM307.8 64.6h.8v.8h-.8zM310.8 64.6h.8v.8h-.8zM316.3 40.0h.8v.8h-.8zM312.2 59.1h.8v.8h-.8zM315.0 60.9h.8v.8h-.8zM311.5 56.1h.8v.8h-.8zM306.6 59.9h.8v.8h-.8zM307.0 70.0h.8v.8h-.8zM313.6 69.1h.8v.8h-.8zM295.4 53.6h.8v.8h-.8zM309.3 60.3h.8v.8h-.8zM304.3 52.7h.8v.8h-.8zM310.1 65.0h.8v.8h-.8zM321.8 62.9h.8v.8h-.8zM315.7 56.0h.8v.8h-.8zM312.4 54.1h.8v.8h-.8zM305.8 59.3h.8v.8h-.8zM300.0 61.5h.8v.8h-.8zM316.5 42.4h.8v.8h-.8zM313.9 63.4h.8v.8h-.8zM315.1 50.9h.8v.8h-.8zM307.6 36.9h.8v.8h-.8zM316.4 40.3h.8v.8h-.8zM311.4 46.0h.8v.8h-.8zM322.6 45.9h.8v.8h-.8zM310.4 52.9h.8v.8h-.8zM302.9 38.5h.8v.8h-.8zM308.3 59.6h.8v.8h-.8zM314.5 55.2h.8v.8h-.8zM314.2 56.8h.8v.8h-.8zM309.2 72.6h.8v.8h-.8zM317.6 69.5h.8v.8h-.8zM309.2 62.4h.8v.8h-.8zM319.8 53.6h.8v.8h-.8zM306.3 60.2h.8v.8h-.8zM310.1 53.0h.8v.8h-.8zM306.3 52.3h.8v.8h-.8zM312.3 53.5h.8v.8h-.8zM326.6 65.6h.8v.8h-.8zM307.7 34.0h.8v.8h-.8zM311.9 40.1h.8v.8h-.8zM310.6 38.9h.8v.8h-.8zM312.4 65.5h.8v.8h-.8zM318.6 55.4h.8v.8h-.8zM306.3 37.0h.8v.8h-.8zM315.5 54.3h.8v.8h-.8zM307.6 67.1h.8v.8h-.8zM307.3 45.5h.8v.8h-.8zM314.9 36.3h.8v.8h-.8zM307.4 61.5h.8v.8h-.8zM312.6 59.0h.8v.8h-.8zM317.5 80.6h.8v.8h-.8zM301.3 50.7h.8v.8h-.8zM316.4 48.1h.8v.8h-.8zM315.1 43.3h.8v.8h-.8zM313.2 49.2h.8v.8h-.8zM319.1 49.0h.8v.8h-.8zM309.5 50.6h.8v.8h-.8zM305.3 56.2h.8v.8h-.8zM311.7 45.8h.8v.8h-.8zM312.3 39.6h.8v.8h-.8zM315.8 39.8h.8v.8h-.8zM310.7 60.9h.8v.8h-.8zM322.2 70.3h.8v.8h-.8zM306.6 53.2h.8v.8h-.8zM305.4 43.6h.8v.8h-.8zM308.0 57.5h.8v.8h-.8zM313.1 50.6h.8v.8h-.8zM310.3 49.8h.8v.8h-.8zM305.2 42.9h.8v.8h-.8zM299.1 57.5h.8v.8h-.8zM309.8 65.8h.8v.8h-.8zM308.4 51.3h.8v.8h-.8zM313.6 57.8h.8v.8h-.8zM317.8 41.2h.8v.8h-.8zM311.7 50.2h.8v.8h-.8zM311.9 61.1h.8v.8h-.8zM309.7 61.2h.8v.8h-.8zM310.5 37.2h.8v.8h-.8zM309.0 60.2h.8v.8h-.8zM313.8 63.0h.8v.8h-.8zM319.2 37.7h.8v.8h-.8zM323.3 58.1h.8v.8h-.8zM307.6 50.6h.8v.8h-.8zM303.1 60.4h.8v.8h-.8zM304.5 55.9h.8v.8h-.8zM305.4 66.1h.8v.8h-.8zM308.1 70.3h.8v.8h-.8zM304.6 65.7h.8v.8h-.8zM315.3 51.8h.8v.8h-.8zM317.0 55.5h.8v.8h-.8zM311.6 56.4h.8v.8h-.8zM316.8 50.1h.8v.8h-.8zM312.4 54.0h.8v.8h-.8zM319.1 53.9h.8v.8h-.8zM317.2 46.4h.8v.8h-.8zM311.1 53.3h.8v.8h-.8zM311.1 120.8h.8v.8h-.8zM310.1 110.3h.8v.8h-.8zM302.9 120.2h.8v.8h-.8zM303.0 120.5h.8v.8h-.8zM304.6 102.3h.8v.8h-.8zM312.7 113.8h.8v.8h-.8zM318.3 125.2h.8v.8h-.8zM312.6 127.8h.8v.8h-.8zM314.3 110.2h.8v.8h-.8zM310.0 115.8h.8v.8h-.8zM305.4 113.5h.8v.8h-.8zM310.6 114.9h.8v.8h-.8zM311.9 116.6h.8v.8h-.8zM301.2 116.4h.8v.8h-.8zM305.9 118.4h.8v.8h-.8zM306.4 115.8h.8v.8h-.8zM302.6 128.8h.8v.8h-.8zM314.0 106.3h.8v.8h-.8zM308.8 112.3h.8v.8h-.8zM311.2 123.3h.8v.8h-.8zM310.7 118.4h.8v.8h-.8zM311.1 121.6h.8v.8h-.8zM307.8 103.6h.8v.8h-.8zM308.7 124.6h.8v.8h-.8zM308.6 105.6h.8v.8h-.8zM306.1 112.5h.8v.8h-.8zM305.5 104.4h.8v.8h-.8zM310.2 111.1h.8v.8h-.8zM310.1 113.7h.8v.8h-.8zM302.6 117.5h.8v.8h-.8zM305.3 116.0h.8v.8h-.8zM307.8 109.2h.8v.8h-.8zM306.2 108.6h.8v.8h-.8zM312.0 115.4h.8v.8h-.8zM306.1 122.2h.8v.8h-.8zM309.1 120.7h.8v.8h-.8zM307.8 111.8h.8v.8h-.8zM301.8 103.5h.8v.8h-.8zM315.0 114.8h.8v.8h-.8zM315.2 121.6h.8v.8h-.8zM310.7 122.0h.8v.8h-.8zM310.0 114.0h.8v.8h-.8zM311.2 125.2h.8v.8h-.8zM311.9 113.5h.8v.8h-.8zM311.0 110.2h.8v.8h-.8zM310.5 109.1h.8v.8h-.8zM310.1 116.9h.8v.8h-.8zM313.2 119.5h.8v.8h-.8zM315.4 113.8h.8v.8h-.8zM305.5 114.2h.8v.8h-.8zM313.8 98.3h.8v.8h-.8zM307.9 117.7h.8v.8h-.8zM310.9 118.3h.8v.8h-.8zM304.9 122.2h.8v.8h-.8zM310.5 124.8h.8v.8h-.8zM311.2 116.0h.8v.8h-.8zM308.2 129.1h.8v.8h-.8zM299.6 112.5h.8v.8h-.8zM304.0 120.8h.8v.8h-.8zM304.9 111.3h.8v.8h-.8zM312.7 117.4h.8v.8h-.8zM316.0 116.1h.8v.8h-.8zM307.5 114.8h.8v.8h-.8zM311.3 106.9h.8v.8h-.8zM305.5 117.4h.8v.8h-.8zM324.1 77.2h.8v.8h-.8zM317.5 71.5h.8v.8h-.8zM321.3 42.1h.8v.8h-.8zM322.7 76.9h.8v.8h-.8zM321.2 99.8h.8v.8h-.8zM321.8 97.8h.8v.8h-.8zM322.3 84.5h.8v.8h-.8zM323.2 82.5h.8v.8h-.8zM318.3 76.6h.8v.8h-.8zM321.3 81.0h.8v.8h-.8zM318.3 100.8h.8v.8h-.8zM322.4 81.6h.8v.8h-.8zM319.0 98.0h.8v.8h-.8zM316.3 64.7h.8v.8h-.8zM317.7 89.0h.8v.8h-.8zM322.6 76.9h.8v.8h-.8zM326.4 116.7h.8v.8h-.8zM321.2 78.8h.8v.8h-.8zM315.9 93.5h.8v.8h-.8zM322.7 67.2h.8v.8h-.8zM320.2 99.7h.8v.8h-.8zM324.5 88.7h.8v.8h-.8zM321.8 76.1h.8v.8h-.8zM321.7 79.3h.8v.8h-.8zM316.6 79.4h.8v.8h-.8zM317.5 92.3h.8v.8h-.8zM324.9 85.2h.8v.8h-.8zM319.7 77.0h.8v.8h-.8zM322.6 98.9h.8v.8h-.8zM323.2 85.6h.8v.8h-.8zM320.1 83.7h.8v.8h-.8zM318.1 112.8h.8v.8h-.8zM316.2 78.8h.8v.8h-.8zM317.8 86.1h.8v.8h-.8zM324.1 107.3h.8v.8h-.8zM321.0 78.3h.8v.8h-.8z"/>
<path fill="#bababa" d="M297.3 68.4h.8v.8h-.8zM308.3 62.4h.8v.8h-.8zM317.5 64.6h.8v.8h-.8zM316.6 61.5h.8v.8h-.8zM307.5 61.8h.8v.8h-.8zM316.1 66.8h.8v.8h-.8zM307.2 66.5h.8v.8h-.8zM311.9 48.1h.8v.8h-.8zM313.1 49.9h.8v.8h-.8zM320.1 47.8h.8v.8h-.8zM302.8 60.1h.8v.8h-.8zM304.8 39.0h.8v.8h-.8zM306.5 48.4h.8v.8h-.8zM312.1 72.4h.8v.8h-.8zM301.2 68.9h.8v.8h-.8zM316.2 42.2h.8v.8h-.8zM315.3 63.9h.8v.8h-.8zM302.4 35.5h.8v.8h-.8zM308.8 82.4h.8v.8h-.8zM299.4 50.3h.8v.8h-.8zM312.9 65.6h.8v.8h-.8zM311.6 69.3h.8v.8h-.8zM311.5 44.7h.8v.8h-.8zM307.9 59.3h.8v.8h-.8zM309.8 68.7h.8v.8h-.8zM315.0 43.8h.8v.8h-.8zM305.8 48.0h.8v.8h-.8zM319.5 69.6h.8v.8h-.8zM311.1 58.7h.8v.8h-.8zM314.5 41.2h.8v.8h-.8zM303.8 50.5h.8v.8h-.8zM302.3 36.4h.8v.8h-.8zM310.3 36.9h.8v.8h-.8zM313.8 54.4h.8v.8h-.8zM320.3 69.0h.8v.8h-.8zM324.6 61.5h.8v.8h-.8zM316.0 40.9h.8v.8h-.8zM310.9 47.4h.8v.8h-.8zM320.9 56.4h.8v.8h-.8zM310.7 35.5h.8v.8h-.8zM299.1 39.0h.8v.8h-.8zM305.4 63.3h.8v.8h-.8zM307.9 48.2h.8v.8h-.8zM315.5 57.2h.8v.8h-.8zM307.5 53.7h.8v.8h-.8zM312.2 71.3h.8v.8h-.8zM311.9 46.6h.8v.8h-.8zM311.3 48.1h.8v.8h-.8zM313.2 72.3h.8v.8h-.8zM318.1 48.2h.8v.8h-.8zM307.8 55.7h.8v.8h-.8zM309.0 52.1h.8v.8h-.8zM309.6 56.8h.8v.8h-.8zM312.7 58.9h.8v.8h-.8zM305.4 48.1h.8v.8h-.8zM313.6 67.5h.8v.8h-.8zM306.7 56.6h.8v.8h-.8zM312.1 56.0h.8v.8h-.8zM311.5 59.2h.8v.8h-.8zM311.3 79.1h.8v.8h-.8zM309.2 59.2h.8v.8h-.8zM304.6 58.4h.8v.8h-.8zM303.5 64.2h.8v.8h-.8zM323.0 63.7h.8v.8h-.8zM310.7 49.9h.8v.8h-.8zM312.9 48.4h.8v.8h-.8zM321.0 61.6h.8v.8h-.8zM310.5 47.4h.8v.8h-.8zM315.0 51.6h.8v.8h-.8zM306.9 48.1h.8v.8h-.8zM314.5 51.1h.8v.8h-.8zM322.0 44.9h.8v.8h-.8zM298.3 47.9h.8v.8h-.8zM308.6 53.2h.8v.8h-.8zM302.7 65.0h.8v.8h-.8zM310.9 54.2h.8v.8h-.8zM311.3 45.1h.8v.8h-.8zM315.7 60.3h.8v.8h-.8zM311.1 71.9h.8v.8h-.8zM309.9 55.1h.8v.8h-.8zM305.0 52.3h.8v.8h-.8zM308.1 34.1h.8v.8h-.8zM307.6 68.1h.8v.8h-.8zM308.6 47.8h.8v.8h-.8zM306.9 60.8h.8v.8h-.8zM311.0 75.9h.8v.8h-.8zM292.5 48.5h.8v.8h-.8zM303.5 51.1h.8v.8h-.8zM311.9 65.3h.8v.8h-.8zM310.4 65.4h.8v.8h-.8zM319.2 55.5h.8v.8h-.8zM306.7 58.9h.8v.8h-.8zM312.3 63.7h.8v.8h-.8zM314.3 54.8h.8v.8h-.8zM307.4 57.2h.8v.8h-.8zM310.4 59.0h.8v.8h-.8zM307.6 50.6h.8v.8h-.8zM317.1 39.2h.8v.8h-.8zM312.5 60.5h.8v.8h-.8zM308.7 51.4h.8v.8h-.8zM308.4 45.9h.8v.8h-.8zM315.2 49.3h.8v.8h-.8zM310.7 42.5h.8v.8h-.8zM302.5 41.8h.8v.8h-.8zM310.4 48.1h.8v.8h-.8zM310.8 53.9h.8v.8h-.8zM311.8 45.9h.8v.8h-.8zM307.0 62.1h.8v.8h-.8zM313.4 61.4h.8v.8h-.8zM314.3 62.7h.8v.8h-.8zM301.4 71.6h.8v.8h-.8zM307.9 74.7h.8v.8h-.8zM310.3 115.5h.8v.8h-.8zM317.2 116.5h.8v.8h-.8zM305.8 118.9h.8v.8h-.8zM313.2 128.8h.8v.8h-.8zM312.1 116.6h.8v.8h-.8zM312.3 114.4h.8v.8h-.8zM313.7 115.1h.8v.8h-.8zM311.3 123.7h.8v.8h-.8zM311.4 110.6h.8v.8h-.8zM310.3 119.9h.8v.8h-.8zM309.6 112.1h.8v.8h-.8zM307.7 121.4h.8v.8h-.8zM302.5 106.3h.8v.8h-.8zM317.6 121.7h.8v.8h-.8zM309.2 108.1h.8v.8h-.8zM300.4 112.2h.8v.8h-.8zM321.2 118.4h.8v.8h-.8zM307.5 115.4h.8v.8h-.8zM324.5 131.7h.8v.8h-.8zM306.7 116.4h.8v.8h-.8zM306.1 111.8h.8v.8h-.8zM305.4 118.0h.8v.8h-.8zM313.4 113.7h.8v.8h-.8zM306.6 111.8h.8v.8h-.8zM298.2 114.2h.8v.8h-.8zM316.6 122.9h.8v.8h-.8zM306.4 121.6h.8v.8h-.8zM304.4 115.6h.8v.8h-.8zM316.7 114.7h.8v.8h-.8zM307.8 113.4h.8v.8h-.8zM305.2 115.1h.8v.8h-.8zM307.9 121.0h.8v.8h-.8zM305.9 108.4h.8v.8h-.8zM311.3 130.6h.8v.8h-.8zM307.2 122.8h.8v.8h-.8zM316.2 123.5h.8v.8h-.8zM309.1 116.4h.8v.8h-.8zM318.0 122.0h.8v.8h-.8zM304.9 115.1h.8v.8h-.8zM309.0 121.5h.8v.8h-.8zM315.9 124.2h.8v.8h-.8zM321.7 130.9h.8v.8h-.8zM307.5 123.9h.8v.8h-.8zM315.1 110.5h.8v.8h-.8zM311.7 115.8h.8v.8h-.8zM310.1 109.8h.8v.8h-.8zM323.1 88.7h.8v.8h-.8zM316.3 84.2h.8v.8h-.8zM323.7 98.8h.8v.8h-.8zM324.7 87.3h.8v.8h-.8zM324.4 79.0h.8v.8h-.8zM317.8 90.1h.8v.8h-.8zM324.2 89.1h.8v.8h-.8zM314.6 74.7h.8v.8h-.8zM322.1 82.8h.8v.8h-.8zM319.6 122.4h.8v.8h-.8zM319.4 75.9h.8v.8h-.8zM318.8 71.3h.8v.8h-.8zM322.0 113.1h.8v.8h-.8zM320.8 104.7h.8v.8h-.8zM327.2 83.5h.8v.8h-.8zM317.8 104.3h.8v.8h-.8zM321.4 116.8h.8v.8h-.8zM321.6 128.8h.8v.8h-.8zM318.8 69.5h.8v.8h-.8zM322.3 110.3h.8v.8h-.8zM322.4 92.5h.8v.8h-.8zM320.2 72.9h.8v.8h-.8zM320.8 85.8h.8v.8h-.8zM317.3 102.9h.8v.8h-.8zM325.5 56.3h.8v.8h-.8zM320.1 89.3h.8v.8h-.8zM323.7 104.1h.8v.8h-.8zM323.1 97.6h.8v.8h-.8zM317.5 86.9h.8v.8h-.8zM322.1 70.6h.8v.8h-.8zM315.7 74.2h.8v.8h-.8zM322.7 88.1h.8v.8h-.8z"/>
<path d="M303.8,80.0 C304.2,77.1 305.4,76.8 306.5,75.5 C307.6,74.2 309.2,73.0 310.5,72.0 C311.8,71.0 313.0,69.4 314.0,69.6 C315.0,69.8 315.9,71.3 316.5,73.0 C317.1,74.7 317.5,77.5 317.8,80.0 C318.1,82.5 318.7,85.5 318.5,88.0 C318.3,90.5 317.6,93.0 316.7,95.0 C315.8,97.0 314.4,98.5 313.0,100.0 C311.6,101.5 309.5,103.2 308.0,104.0 C306.5,104.8 304.7,106.8 304.0,105.0 C303.3,103.2 303.8,97.2 303.8,93.0 C303.8,88.8 303.4,82.9 303.8,80.0 Z" fill="#fff" stroke="#444" stroke-width="0.75"/>
<path d="M310.0,85.0 C310.1,84.0 312.2,82.4 313.0,82.5 C313.8,82.6 315.1,84.5 315.0,85.5 C314.9,86.5 313.3,88.6 312.5,88.5 C311.7,88.4 309.9,86.0 310.0,85.0 Z" fill="none" stroke="#404040" stroke-width="0.6"/>
<path d="M306.5,94.0 C306.8,92.8 308.4,91.1 309.5,91.0 C310.6,90.9 312.7,92.3 313.0,93.5 C313.3,94.7 312.4,97.2 311.5,98.0 C310.6,98.8 308.3,99.2 307.5,98.5 C306.7,97.8 306.2,95.2 306.5,94.0 Z" fill="none" stroke="#404040" stroke-width="0.6"/>
<clipPath id="bq2"><rect x="278.4" y="28.4" width="25.600000000000044" height="78.19999999999999"/></clipPath>
<clipPath id="rq2"><rect x="278.4" y="106.6" width="25.600000000000044" height="22.599999999999994"/></clipPath>
<g clip-path="url(#bq2)">
<ellipse cx="298.2" cy="90.5" rx="6.1" ry="18.0" transform="rotate(8 298.2 90.5)" fill="#bfc3f1" stroke="#5560cc" stroke-width="0.6"/>
<ellipse cx="298.2" cy="93.8" rx="5.3" ry="14.4" transform="rotate(8 298.2 93.8)" fill="#f0f1fd" stroke="#5560cc" stroke-width="0.6"/>
<ellipse cx="298.1" cy="96.8" rx="4.6" ry="11.2" transform="rotate(8 298.1 96.8)" fill="#cdd0f4" stroke="#5560cc" stroke-width="0.6"/>
<ellipse cx="298.1" cy="99.4" rx="4.0" ry="8.3" transform="rotate(8 298.1 99.4)" fill="#f6f6fe" stroke="#5560cc" stroke-width="0.6"/>
<ellipse cx="298.1" cy="101.7" rx="3.4" ry="5.8" transform="rotate(8 298.1 101.7)" fill="#d4d7f6" stroke="#5560cc" stroke-width="0.6"/>
<ellipse cx="298.0" cy="103.7" rx="2.9" ry="3.6" transform="rotate(8 298.0 103.7)" fill="#fbfbff" stroke="#5560cc" stroke-width="0.6"/>
</g>
<g clip-path="url(#rq2)">
<ellipse cx="298.0" cy="111.5" rx="6.0" ry="10.8" fill="#f7d8d4" stroke="#d05462" stroke-width="0.65"/>
<ellipse cx="298.0" cy="111.5" rx="4.7" ry="8.4" fill="#fcecec" stroke="#d05462" stroke-width="0.65"/>
<ellipse cx="298.0" cy="111.5" rx="3.4" ry="6.0" fill="#f8dcdc" stroke="#d05462" stroke-width="0.65"/>
<ellipse cx="298.0" cy="111.5" rx="2.2" ry="3.9" fill="#fff6f2" stroke="#d05462" stroke-width="0.65"/>
<ellipse cx="298.0" cy="111.5" rx="1.2" ry="2.2" fill="#fbe6c8" stroke="#d05462" stroke-width="0.65"/>
</g>
</g>
<line x1="303.6" y1="28.4" x2="303.6" y2="129.2" stroke="#4a4a4a" stroke-width="0.8"/>
<line x1="278.4" y1="106.6" x2="385" y2="106.6" stroke="#4a4a4a" stroke-width="0.8"/>
<text x="284.8" y="40.2" font-size="6.0" fill="#4646a8" font-weight="bold" textLength="8.4" lengthAdjust="spacingAndGlyphs" >G1</text>
<text x="284.8" y="47.0" font-size="4.6" fill="#5a5ac0" textLength="9.9" lengthAdjust="spacingAndGlyphs" >50%</text>
<text x="341.0" y="52.0" font-size="6.6" fill="#1a1a1a" textLength="23.3" lengthAdjust="spacingAndGlyphs" >S-G2-M</text>
<text x="353.2" y="59.2" font-size="4.7" fill="#222" textLength="13.7" lengthAdjust="spacingAndGlyphs" >30.5%</text>
<text x="282.2" y="127.3" font-size="6.3" fill="#b83444" textLength="8.1" lengthAdjust="spacingAndGlyphs" stroke="#b83444" stroke-width="0.25">G0</text>
<text x="315.0" y="125.8" font-size="4.7" fill="#c05060" textLength="13.1" lengthAdjust="spacingAndGlyphs" >10.5%</text>
<text x="298.2" y="134.1" font-size="2.9" fill="#333" font-weight="bold" text-anchor="middle" >50</text>
<text x="318.5" y="134.1" font-size="2.9" fill="#333" font-weight="bold" text-anchor="middle" >100</text>
<text x="338.7" y="134.1" font-size="2.9" fill="#333" font-weight="bold" text-anchor="middle" >150</text>
<text x="359.0" y="134.1" font-size="2.9" fill="#333" font-weight="bold" text-anchor="middle" >200</text>
<text x="379.2" y="134.1" font-size="2.9" fill="#333" font-weight="bold" text-anchor="middle" >250</text>
<rect x="275.5" y="106.4" width="1.2" height="2.2" fill="#555"/>
<rect x="275.5" y="88.3" width="1.2" height="2.2" fill="#555"/>
<rect x="275.5" y="70.1" width="1.2" height="2.2" fill="#555"/>
<rect x="275.5" y="52.0" width="1.2" height="2.2" fill="#555"/>
<rect x="275.5" y="33.9" width="1.2" height="2.2" fill="#555"/>
<text transform="translate(272.0,38.9) rotate(-90)" font-size="2.6" fill="#444" font-weight="bold">x 1,000</text>
<text x="374.6" y="136.8" font-size="2.6" fill="#444" font-weight="bold" textLength="10.8" lengthAdjust="spacingAndGlyphs" >x 1,000</text>
<text x="-0.3" y="165.3" font-size="11.2" fill="#000" font-weight="bold" stroke="#000" stroke-width="0.45">B</text>
<text x="97.0" y="170.3" font-size="8.9" fill="#1a1a1a" font-weight="bold" textLength="21.5" lengthAdjust="spacingAndGlyphs" >THP-1</text>
<line x1="28.8" y1="180.5" x2="28.8" y2="306.0" stroke="#a8a8a8" stroke-width="1"/>
<line x1="28.8" y1="305.5" x2="192.3" y2="305.5" stroke="#a8a8a8" stroke-width="1"/>
<line x1="26.5" y1="305.5" x2="28.8" y2="305.5" stroke="#a8a8a8" stroke-width="0.8"/>
<text x="24.0" y="307.4" font-size="5.4" fill="#222" font-weight="bold" text-anchor="end" textLength="7.4" lengthAdjust="spacingAndGlyphs" >0.0</text>
<line x1="26.5" y1="284.7" x2="28.8" y2="284.7" stroke="#a8a8a8" stroke-width="0.8"/>
<text x="24.0" y="286.6" font-size="5.4" fill="#222" font-weight="bold" text-anchor="end" textLength="10.6" lengthAdjust="spacingAndGlyphs" >20.0</text>
<line x1="26.5" y1="263.8" x2="28.8" y2="263.8" stroke="#a8a8a8" stroke-width="0.8"/>
<text x="24.0" y="265.7" font-size="5.4" fill="#222" font-weight="bold" text-anchor="end" textLength="10.6" lengthAdjust="spacingAndGlyphs" >40.0</text>
<line x1="26.5" y1="243.0" x2="28.8" y2="243.0" stroke="#a8a8a8" stroke-width="0.8"/>
<text x="24.0" y="244.9" font-size="5.4" fill="#222" font-weight="bold" text-anchor="end" textLength="10.6" lengthAdjust="spacingAndGlyphs" >60.0</text>
<line x1="26.5" y1="222.2" x2="28.8" y2="222.2" stroke="#a8a8a8" stroke-width="0.8"/>
<text x="24.0" y="224.1" font-size="5.4" fill="#222" font-weight="bold" text-anchor="end" textLength="10.6" lengthAdjust="spacingAndGlyphs" >80.0</text>
<line x1="26.5" y1="201.3" x2="28.8" y2="201.3" stroke="#a8a8a8" stroke-width="0.8"/>
<text x="24.0" y="203.2" font-size="5.4" fill="#222" font-weight="bold" text-anchor="end" textLength="14.0" lengthAdjust="spacingAndGlyphs" >100.0</text>
<line x1="26.5" y1="180.5" x2="28.8" y2="180.5" stroke="#a8a8a8" stroke-width="0.8"/>
<text x="24.0" y="182.4" font-size="5.4" fill="#222" font-weight="bold" text-anchor="end" textLength="14.0" lengthAdjust="spacingAndGlyphs" >120.0</text>
<line x1="83" y1="305.5" x2="83" y2="308.5" stroke="#a8a8a8" stroke-width="0.8"/>
<line x1="137.5" y1="305.5" x2="137.5" y2="308.5" stroke="#a8a8a8" stroke-width="0.8"/>
<line x1="192.3" y1="305.5" x2="192.3" y2="308.5" stroke="#a8a8a8" stroke-width="0.8"/>
<rect x="45.3" y="293.8" width="22.2" height="11.7" fill="#e8bcbc"/>
<rect x="45.3" y="236.5" width="22.2" height="57.3" fill="#bacde4"/>
<rect x="45.3" y="201.1" width="22.2" height="35.4" fill="#c3c3c3"/>
<path d="M54.6,200.6 H58.2 M56.4,200.6 V201.8 M54.6,201.8 H58.2" stroke="#1c1a26" stroke-width="1.1" fill="none"/>
<path d="M54.6,233.0 H58.2 M56.4,233.0 V240.5 M54.6,240.5 H58.2" stroke="#1c1a26" stroke-width="1.1" fill="none"/>
<path d="M54.6,287.2 H58.2 M56.4,287.2 V300.3 M54.6,300.3 H58.2" stroke="#1c1a26" stroke-width="1.1" fill="none"/>
<text x="56.1" y="221.8" font-size="6.8" fill="#1a1a1a" font-weight="bold" text-anchor="middle" textLength="13.9" lengthAdjust="spacingAndGlyphs" >34.0</text>
<text x="56.1" y="267.4" font-size="6.8" fill="#1a1a1a" font-weight="bold" text-anchor="middle" textLength="13.9" lengthAdjust="spacingAndGlyphs" >55.0</text>
<rect x="99.5" y="286.9" width="22.0" height="18.6" fill="#e8bcbc"/>
<rect x="99.5" y="235.7" width="22.0" height="51.1" fill="#bacde4"/>
<rect x="99.5" y="201.4" width="22.0" height="34.3" fill="#c3c3c3"/>
<path d="M108.7,197.4 H112.3 M110.5,197.4 V205.3 M108.7,205.3 H112.3" stroke="#1c1a26" stroke-width="1.1" fill="none"/>
<path d="M108.7,228.4 H112.3 M110.5,228.4 V243.2 M108.7,243.2 H112.3" stroke="#1c1a26" stroke-width="1.1" fill="none"/>
<path d="M108.7,281.3 H112.3 M110.5,281.3 V290.0 M108.7,290.0 H112.3" stroke="#1c1a26" stroke-width="1.1" fill="none"/>
<text x="110.5" y="221.8" font-size="6.8" fill="#1a1a1a" font-weight="bold" text-anchor="middle" textLength="13.9" lengthAdjust="spacingAndGlyphs" >32.9</text>
<text x="110.5" y="263.4" font-size="6.8" fill="#1a1a1a" font-weight="bold" text-anchor="middle" textLength="13.9" lengthAdjust="spacingAndGlyphs" >48.0</text>
<rect x="154.0" y="286.2" width="22.2" height="19.3" fill="#e8bcbc"/>
<rect x="154.0" y="235.6" width="22.2" height="50.6" fill="#bacde4"/>
<rect x="154.0" y="201.2" width="22.2" height="34.4" fill="#c3c3c3"/>
<path d="M163.3,200.0 H166.9 M165.1,200.0 V203.0 M163.3,203.0 H166.9" stroke="#1c1a26" stroke-width="1.1" fill="none"/>
<path d="M163.3,230.8 H166.9 M165.1,230.8 V240.7 M163.3,240.7 H166.9" stroke="#1c1a26" stroke-width="1.1" fill="none"/>
<path d="M163.3,280.0 H166.9 M165.1,280.0 V291.5 M163.3,291.5 H166.9" stroke="#1c1a26" stroke-width="1.1" fill="none"/>
<text x="165.1" y="221.8" font-size="6.8" fill="#1a1a1a" font-weight="bold" text-anchor="middle" textLength="13.9" lengthAdjust="spacingAndGlyphs" >33.0</text>
<text x="165.1" y="264.2" font-size="6.8" fill="#1a1a1a" font-weight="bold" text-anchor="middle" textLength="13.9" lengthAdjust="spacingAndGlyphs" >48.6</text>
<rect x="63.5" y="182.4" width="4.2" height="4.3" fill="#c3c3c3"/>
<text x="69.6" y="186.8" font-size="8.5" fill="#1a1a1a" font-weight="bold" textLength="28.4" lengthAdjust="spacingAndGlyphs" >S/G2/M</text>
<rect x="116.4" y="181.8" width="4.2" height="4.3" fill="#bacde4"/>
<text x="124.2" y="186.2" font-size="8.5" fill="#1a1a1a" font-weight="bold" textLength="9.3" lengthAdjust="spacingAndGlyphs" >G1</text>
<rect x="151.3" y="181.8" width="4.2" height="4.3" fill="#e8bcbc"/>
<text x="158.2" y="186.2" font-size="8.5" fill="#1a1a1a" font-weight="bold" textLength="10.3" lengthAdjust="spacingAndGlyphs" >G0</text>
<line x1="60" y1="295.4" x2="158.7" y2="295.4" stroke="#1a1a1a" stroke-width="1.5"/>
<line x1="60" y1="302.1" x2="112" y2="302.1" stroke="#1a1a1a" stroke-width="1.5"/>
<g stroke="#111" stroke-width="1.1" stroke-linecap="round"><line x1="90.6" y1="290.5" x2="90.6" y2="293.70000000000005"/><line x1="89.19999999999999" y1="291.3" x2="92.0" y2="292.90000000000003"/><line x1="89.19999999999999" y1="292.90000000000003" x2="92.0" y2="291.3"/></g><circle cx="90.6" cy="292.1" r="1.15" fill="#111"/>
<g stroke="#111" stroke-width="1.1" stroke-linecap="round"><line x1="76.4" y1="297.9" x2="76.4" y2="301.1"/><line x1="75.0" y1="298.7" x2="77.80000000000001" y2="300.3"/><line x1="75.0" y1="300.3" x2="77.80000000000001" y2="298.7"/></g><circle cx="76.4" cy="299.5" r="1.15" fill="#111"/>
<text x="31.6" y="303.3" font-size="6.6" fill="#111" textLength="12.8" lengthAdjust="spacingAndGlyphs" stroke="#111" stroke-width="0.3">11.2</text>
<text x="124.3" y="294.3" font-size="6.6" fill="#111" textLength="13.0" lengthAdjust="spacingAndGlyphs" stroke="#111" stroke-width="0.3">19.0</text>
<text x="179.8" y="295.6" font-size="6.6" fill="#111" textLength="12.9" lengthAdjust="spacingAndGlyphs" stroke="#111" stroke-width="0.3">18.5</text>
<text x="42.9" y="319.6" font-size="8.5" fill="#111" textLength="26.7" lengthAdjust="spacingAndGlyphs" stroke="#111" stroke-width="0.35">Control</text>
<text x="102.0" y="319.7" font-size="8.5" fill="#111" textLength="17.2" lengthAdjust="spacingAndGlyphs" stroke="#111" stroke-width="0.35">1 µM</text>
<text x="153.8" y="319.7" font-size="8.5" fill="#111" textLength="22.2" lengthAdjust="spacingAndGlyphs" stroke="#111" stroke-width="0.35">10 µM</text>
<text x="201.6" y="165.8" font-size="11.2" fill="#000" font-weight="bold" stroke="#000" stroke-width="0.45">C</text>
<text x="312.2" y="169.1" font-size="8.9" fill="#1a1a1a" font-weight="bold" textLength="18.7" lengthAdjust="spacingAndGlyphs" >U937</text>
<line x1="236.3" y1="175.4" x2="236.3" y2="307.2" stroke="#a8a8a8" stroke-width="1"/>
<line x1="236.3" y1="306.7" x2="408.5" y2="306.7" stroke="#a8a8a8" stroke-width="1"/>
<line x1="234.0" y1="306.7" x2="236.3" y2="306.7" stroke="#a8a8a8" stroke-width="0.8"/>
<text x="230.2" y="308.7" font-size="5.7456000000000005" fill="#222" font-weight="bold" text-anchor="end" textLength="7.9" lengthAdjust="spacingAndGlyphs" >0.0</text>
<line x1="234.0" y1="284.8" x2="236.3" y2="284.8" stroke="#a8a8a8" stroke-width="0.8"/>
<text x="230.2" y="286.8" font-size="5.7456000000000005" fill="#222" font-weight="bold" text-anchor="end" textLength="11.3" lengthAdjust="spacingAndGlyphs" >20.0</text>
<line x1="234.0" y1="262.9" x2="236.3" y2="262.9" stroke="#a8a8a8" stroke-width="0.8"/>
<text x="230.2" y="265.0" font-size="5.7456000000000005" fill="#222" font-weight="bold" text-anchor="end" textLength="11.3" lengthAdjust="spacingAndGlyphs" >40.0</text>
<line x1="234.0" y1="241.1" x2="236.3" y2="241.1" stroke="#a8a8a8" stroke-width="0.8"/>
<text x="230.2" y="243.1" font-size="5.7456000000000005" fill="#222" font-weight="bold" text-anchor="end" textLength="11.3" lengthAdjust="spacingAndGlyphs" >60.0</text>
<line x1="234.0" y1="219.2" x2="236.3" y2="219.2" stroke="#a8a8a8" stroke-width="0.8"/>
<text x="230.2" y="221.2" font-size="5.7456000000000005" fill="#222" font-weight="bold" text-anchor="end" textLength="11.3" lengthAdjust="spacingAndGlyphs" >80.0</text>
<line x1="234.0" y1="197.3" x2="236.3" y2="197.3" stroke="#a8a8a8" stroke-width="0.8"/>
<text x="230.2" y="199.3" font-size="5.7456000000000005" fill="#222" font-weight="bold" text-anchor="end" textLength="14.9" lengthAdjust="spacingAndGlyphs" >100.0</text>
<line x1="234.0" y1="175.4" x2="236.3" y2="175.4" stroke="#a8a8a8" stroke-width="0.8"/>
<text x="230.2" y="177.4" font-size="5.7456000000000005" fill="#222" font-weight="bold" text-anchor="end" textLength="14.9" lengthAdjust="spacingAndGlyphs" >120.0</text>
<line x1="293.7" y1="306.7" x2="293.7" y2="309.7" stroke="#a8a8a8" stroke-width="0.8"/>
<line x1="351.3" y1="306.7" x2="351.3" y2="309.7" stroke="#a8a8a8" stroke-width="0.8"/>
<line x1="408.5" y1="306.7" x2="408.5" y2="309.7" stroke="#a8a8a8" stroke-width="0.8"/>
<rect x="253.6" y="293.1" width="23.0" height="13.6" fill="#e8bcbc"/>
<rect x="253.6" y="224.0" width="23.0" height="69.1" fill="#bacde4"/>
<rect x="253.6" y="197.2" width="23.0" height="26.8" fill="#c3c3c3"/>
<path d="M263.3,193.6 H266.9 M265.1,193.6 V200.8 M263.3,200.8 H266.9" stroke="#1c1a26" stroke-width="1.1" fill="none"/>
<path d="M263.3,221.2 H266.9 M265.1,221.2 V226.2 M263.3,226.2 H266.9" stroke="#1c1a26" stroke-width="1.1" fill="none"/>
<path d="M263.3,293.4 H266.9 M265.1,293.4 V297.0 M263.3,297.0 H266.9" stroke="#1c1a26" stroke-width="1.1" fill="none"/>
<text x="265.1" y="214.2" font-size="6.8" fill="#1a1a1a" font-weight="bold" text-anchor="middle" textLength="13.9" lengthAdjust="spacingAndGlyphs" >24.5</text>
<text x="265.1" y="263.2" font-size="6.8" fill="#1a1a1a" font-weight="bold" text-anchor="middle" textLength="13.9" lengthAdjust="spacingAndGlyphs" >64.8</text>
<rect x="311.0" y="291.5" width="23.0" height="15.2" fill="#e8bcbc"/>
<rect x="311.0" y="222.6" width="23.0" height="68.9" fill="#bacde4"/>
<rect x="311.0" y="197.2" width="23.0" height="25.4" fill="#c3c3c3"/>
<path d="M320.7,192.5 H324.3 M322.5,192.5 V201.6 M320.7,201.6 H324.3" stroke="#1c1a26" stroke-width="1.1" fill="none"/>
<path d="M320.7,219.0 H324.3 M322.5,219.0 V225.0 M320.7,225.0 H324.3" stroke="#1c1a26" stroke-width="1.1" fill="none"/>
<path d="M320.7,289.6 H324.3 M322.5,289.6 V296.2 M320.7,296.2 H324.3" stroke="#1c1a26" stroke-width="1.1" fill="none"/>
<text x="322.5" y="212.9" font-size="6.8" fill="#1a1a1a" font-weight="bold" text-anchor="middle" textLength="13.9" lengthAdjust="spacingAndGlyphs" >22.8</text>
<text x="322.5" y="263.2" font-size="6.8" fill="#1a1a1a" font-weight="bold" text-anchor="middle" textLength="13.9" lengthAdjust="spacingAndGlyphs" >64.7</text>
<rect x="368.1" y="288.8" width="23.6" height="17.9" fill="#e8bcbc"/>
<rect x="368.1" y="218.2" width="23.6" height="70.6" fill="#bacde4"/>
<rect x="368.1" y="197.2" width="23.6" height="21.0" fill="#c3c3c3"/>
<path d="M378.1,193.0 H381.7 M379.9,193.0 V201.2 M378.1,201.2 H381.7" stroke="#1c1a26" stroke-width="1.1" fill="none"/>
<path d="M378.1,215.3 H381.7 M379.9,215.3 V226.2 M378.1,226.2 H381.7" stroke="#1c1a26" stroke-width="1.1" fill="none"/>
<path d="M378.1,287.6 H381.7 M379.9,287.6 V291.9 M378.1,291.9 H381.7" stroke="#1c1a26" stroke-width="1.1" fill="none"/>
<text x="379.9" y="212.1" font-size="6.8" fill="#1a1a1a" font-weight="bold" text-anchor="middle" textLength="13.9" lengthAdjust="spacingAndGlyphs" >21.5</text>
<text x="379.9" y="258.7" font-size="6.8" fill="#1a1a1a" font-weight="bold" text-anchor="middle" textLength="13.9" lengthAdjust="spacingAndGlyphs" >62.9</text>
<rect x="257.2" y="181.4" width="4.2" height="4.3" fill="#c3c3c3"/>
<text x="264.3" y="185.8" font-size="8.5" fill="#1a1a1a" font-weight="bold" textLength="29.0" lengthAdjust="spacingAndGlyphs" >S/G2/M</text>
<rect x="316.9" y="181.3" width="4.2" height="4.3" fill="#bacde4"/>
<text x="323.4" y="185.7" font-size="8.5" fill="#1a1a1a" font-weight="bold" textLength="9.6" lengthAdjust="spacingAndGlyphs" >G1</text>
<rect x="356.8" y="181.3" width="4.2" height="4.3" fill="#e8bcbc"/>
<text x="363.3" y="185.7" font-size="8.5" fill="#1a1a1a" font-weight="bold" textLength="10.5" lengthAdjust="spacingAndGlyphs" >G0</text>
<line x1="271.5" y1="298.0" x2="374" y2="298.0" stroke="#1a1a1a" stroke-width="1.5"/>
<line x1="271.5" y1="304.2" x2="323.5" y2="304.2" stroke="#1a1a1a" stroke-width="1.5"/>
<g stroke="#111" stroke-width="1.1" stroke-linecap="round"><line x1="301.9" y1="293.2" x2="301.9" y2="296.40000000000003"/><line x1="300.5" y1="294.0" x2="303.29999999999995" y2="295.6"/><line x1="300.5" y1="295.6" x2="303.29999999999995" y2="294.0"/></g><circle cx="301.9" cy="294.8" r="1.15" fill="#111"/>
<g stroke="#111" stroke-width="1.1" stroke-linecap="round"><line x1="287.9" y1="299.59999999999997" x2="287.9" y2="302.8"/><line x1="286.5" y1="300.4" x2="289.29999999999995" y2="302.0"/><line x1="286.5" y1="302.0" x2="289.29999999999995" y2="300.4"/></g><circle cx="287.9" cy="301.2" r="1.15" fill="#111"/>
<text x="240.3" y="303.8" font-size="6.6" fill="#111" textLength="12.7" lengthAdjust="spacingAndGlyphs" stroke="#111" stroke-width="0.3">10.7</text>
<text x="338.8" y="294.3" font-size="6.6" fill="#111" textLength="13.1" lengthAdjust="spacingAndGlyphs" stroke="#111" stroke-width="0.3">12.6</text>
<text x="394.7" y="294.2" font-size="6.6" fill="#111" textLength="12.1" lengthAdjust="spacingAndGlyphs" stroke="#111" stroke-width="0.3">15.7</text>
<text x="252.3" y="320.7" font-size="8.5" fill="#111" textLength="26.5" lengthAdjust="spacingAndGlyphs" stroke="#111" stroke-width="0.35">Control</text>
<text x="312.9" y="320.8" font-size="8.5" fill="#111" textLength="18.6" lengthAdjust="spacingAndGlyphs" stroke="#111" stroke-width="0.35">1 µM</text>
<text x="368.8" y="320.8" font-size="8.5" fill="#111" textLength="23.0" lengthAdjust="spacingAndGlyphs" stroke="#111" stroke-width="0.35">10 µM</text>
<text x="406.3" y="8.6" font-size="11.0" fill="#000" font-weight="bold" stroke="#000" stroke-width="0.45">D</text>
<text x="436.3" y="21.6" font-size="8.3" fill="#111" textLength="10.6" lengthAdjust="spacingAndGlyphs" stroke="#111" stroke-width="0.3">IL8</text>
<text x="431.9" y="33.6" font-size="8.5" fill="#111" textLength="24.6" lengthAdjust="spacingAndGlyphs" stroke="#111" stroke-width="0.3">CXCR2i</text>
<rect x="461.3" y="18.2" width="2.4" height="1.1" fill="#111"/>
<rect x="464.7" y="18.2" width="2.4" height="1.1" fill="#111"/>
<rect x="484.2" y="18.1" width="4.2" height="1.2" fill="#111"/>
<rect x="485.7" y="16.6" width="1.2" height="4.2" fill="#111"/>
<rect x="507.9" y="18.1" width="4.2" height="1.2" fill="#111"/>
<rect x="509.4" y="16.6" width="1.2" height="4.2" fill="#111"/>
<rect x="461.9" y="30.3" width="2.6" height="1.1" fill="#111"/>
<rect x="465.4" y="30.3" width="2.6" height="1.1" fill="#111"/>
<rect x="484.4" y="30.3" width="2.4" height="1.1" fill="#111"/>
<rect x="487.8" y="30.3" width="2.4" height="1.1" fill="#111"/>
<rect x="509.8" y="30.2" width="4.2" height="1.2" fill="#111"/>
<rect x="511.3" y="28.7" width="1.2" height="4.2" fill="#111"/>
<text x="406.8" y="112.6" font-size="11.0" fill="#000" font-weight="bold" stroke="#000" stroke-width="0.45">E</text>
<text x="438.0" y="118.1" font-size="8.3" fill="#111" textLength="10.3" lengthAdjust="spacingAndGlyphs" stroke="#111" stroke-width="0.3">IL8</text>
<text x="434.5" y="130.5" font-size="8.5" fill="#111" textLength="25.0" lengthAdjust="spacingAndGlyphs" stroke="#111" stroke-width="0.3">CXCR2i</text>
<rect x="463.3" y="115.0" width="2.6" height="1.1" fill="#111"/>
<rect x="466.9" y="115.0" width="2.6" height="1.1" fill="#111"/>
<rect x="485.9" y="114.9" width="4.2" height="1.2" fill="#111"/>
<rect x="487.4" y="113.4" width="1.2" height="4.2" fill="#111"/>
<rect x="509.9" y="114.9" width="4.2" height="1.2" fill="#111"/>
<rect x="511.4" y="113.4" width="1.2" height="4.2" fill="#111"/>
<rect x="464.5" y="127.0" width="2.3" height="1.1" fill="#111"/>
<rect x="467.7" y="127.0" width="2.3" height="1.1" fill="#111"/>
<rect x="486.3" y="127.0" width="2.4" height="1.1" fill="#111"/>
<rect x="489.6" y="127.0" width="2.4" height="1.1" fill="#111"/>
<rect x="511.2" y="126.9" width="4.2" height="1.2" fill="#111"/>
<rect x="512.7" y="125.4" width="1.2" height="4.2" fill="#111"/>
<text x="406.8" y="207.1" font-size="11.0" fill="#000" font-weight="bold" stroke="#000" stroke-width="0.45">F</text>
<text x="440.0" y="218.1" font-size="8.3" fill="#111" textLength="10.0" lengthAdjust="spacingAndGlyphs" stroke="#111" stroke-width="0.3">IL8</text>
<text x="436.3" y="230.8" font-size="8.5" fill="#111" textLength="25.0" lengthAdjust="spacingAndGlyphs" stroke="#111" stroke-width="0.3">CXCR2i</text>
<rect x="464.5" y="215.0" width="2.5" height="1.1" fill="#111"/>
<rect x="468.0" y="215.0" width="2.5" height="1.1" fill="#111"/>
<rect x="488.4" y="214.9" width="4.2" height="1.2" fill="#111"/>
<rect x="489.9" y="213.4" width="1.2" height="4.2" fill="#111"/>
<rect x="511.2" y="214.9" width="4.2" height="1.2" fill="#111"/>
<rect x="512.7" y="213.4" width="1.2" height="4.2" fill="#111"/>
<rect x="465.5" y="227.5" width="2.7" height="1.1" fill="#111"/>
<rect x="469.3" y="227.5" width="2.7" height="1.1" fill="#111"/>
<rect x="488.0" y="227.5" width="2.7" height="1.1" fill="#111"/>
<rect x="491.8" y="227.5" width="2.7" height="1.1" fill="#111"/>
<rect x="512.4" y="227.4" width="4.2" height="1.2" fill="#111"/>
<rect x="513.9" y="225.9" width="1.2" height="4.2" fill="#111"/>
<defs><filter id="bl" x="-50%" y="-80%" width="200%" height="260%"><feGaussianBlur stdDeviation="1.4 1.0"/></filter><filter id="bl2" x="-50%" y="-50%" width="200%" height="200%"><feGaussianBlur stdDeviation="0.9"/></filter><filter id="bl3" x="-50%" y="-50%" width="200%" height="200%"><feGaussianBlur stdDeviation="0.6"/></filter></defs>
<rect x="457.2" y="42" width="60.8" height="21.7" fill="#e7dce1"/>
<ellipse cx="467.8" cy="53.5" rx="5.2" ry="2.1" fill="#6a5560" opacity="0.8" filter="url(#bl)"/>
<ellipse cx="487.0" cy="53.3" rx="5.8" ry="2.6" fill="#2e1a24" opacity="0.95" filter="url(#bl)"/>
<ellipse cx="506.8" cy="53.6" rx="5.2" ry="1.8" fill="#6a5560" opacity="0.6" filter="url(#bl)"/>
<text x="406.9" y="56.2" font-size="8.6" fill="#111" textLength="43.9" lengthAdjust="spacingAndGlyphs" stroke="#111" stroke-width="0.3">phospho-ERK</text>
<rect x="457.3" y="72.8" width="60.8" height="22.2" fill="#e2d6dc"/>
<ellipse cx="467.5" cy="82.6" rx="5.4" ry="1.9" fill="#6a5560" opacity="0.75" filter="url(#bl)"/>
<ellipse cx="486.0" cy="82.1" rx="5.4" ry="1.9" fill="#6a5560" opacity="0.65" filter="url(#bl)"/>
<ellipse cx="506.2" cy="82.6" rx="5.4" ry="1.8" fill="#6a5560" opacity="0.5" filter="url(#bl)"/>
<text x="431.6" y="86.2" font-size="8.6" fill="#111" textLength="12.7" lengthAdjust="spacingAndGlyphs" stroke="#111" stroke-width="0.3">ERK</text>
<rect x="459.2" y="138" width="59.6" height="21" fill="#dad0d5"/>
<ellipse cx="490" cy="149.5" rx="6" ry="3.3" fill="#a08896" opacity="0.6" filter="url(#bl)"/>
<ellipse cx="470" cy="149.5" rx="6" ry="3" fill="#b8a8b0" opacity="0.3" filter="url(#bl)"/>
<ellipse cx="509" cy="149.5" rx="6" ry="3" fill="#b0a0a8" opacity="0.35" filter="url(#bl)"/>
<text x="405.8" y="153.9" font-size="8.6" fill="#111" textLength="43.8" lengthAdjust="spacingAndGlyphs" stroke="#111" stroke-width="0.3">phospho-AKT</text>
<rect x="459.3" y="165.5" width="60" height="12.5" fill="#cfcfd1"/>
<rect x="460.0" y="167.6" width="16.6" height="7.6" rx="3" fill="#4c4c52" opacity="0.82" filter="url(#bl2)"/>
<rect x="479.6" y="167.6" width="17.6" height="7.6" rx="3" fill="#4c4c52" opacity="0.82" filter="url(#bl2)"/>
<rect x="499.6" y="167.4" width="16.8" height="8.0" rx="3" fill="#3e3e44" opacity="0.86" filter="url(#bl2)"/>
<text x="436.9" y="174.9" font-size="8.6" fill="#111" textLength="12.3" lengthAdjust="spacingAndGlyphs" stroke="#111" stroke-width="0.3">AKT</text>
<rect x="459.3" y="178" width="60" height="6" fill="#e2e2e4"/>
<rect x="459.5" y="235.8" width="60.5" height="22.8" fill="#dddddd"/>
<ellipse cx="469.3" cy="249.4" rx="7.4" ry="2.5" fill="#444" opacity="0.8" filter="url(#bl)"/>
<ellipse cx="489" cy="249.8" rx="7.2" ry="2.3" fill="#444" opacity="0.75" filter="url(#bl)"/>
<ellipse cx="508.5" cy="249.4" rx="7.2" ry="2.2" fill="#444" opacity="0.7" filter="url(#bl)"/>
<text x="411.0" y="253.5" font-size="8.6" fill="#111" textLength="44.4" lengthAdjust="spacingAndGlyphs" stroke="#111" stroke-width="0.3">phospho-p38</text>
<rect x="459.2" y="262.1" width="60" height="27.6" fill="#d8d8d8"/>
<rect x="459.4" y="269.6" width="20.6" height="13.4" rx="5" fill="#161616" opacity="0.97" filter="url(#bl2)"/>
<rect x="480.6" y="269.8" width="18.6" height="13.2" rx="5" fill="#161616" opacity="0.97" filter="url(#bl2)"/>
<rect x="500.2" y="269.6" width="18.4" height="13.4" rx="5" fill="#161616" opacity="0.97" filter="url(#bl2)"/>
<text x="435.8" y="283.0" font-size="8.6" fill="#111" textLength="12.2" lengthAdjust="spacingAndGlyphs" stroke="#111" stroke-width="0.3">p38</text>
</svg></body></html>
